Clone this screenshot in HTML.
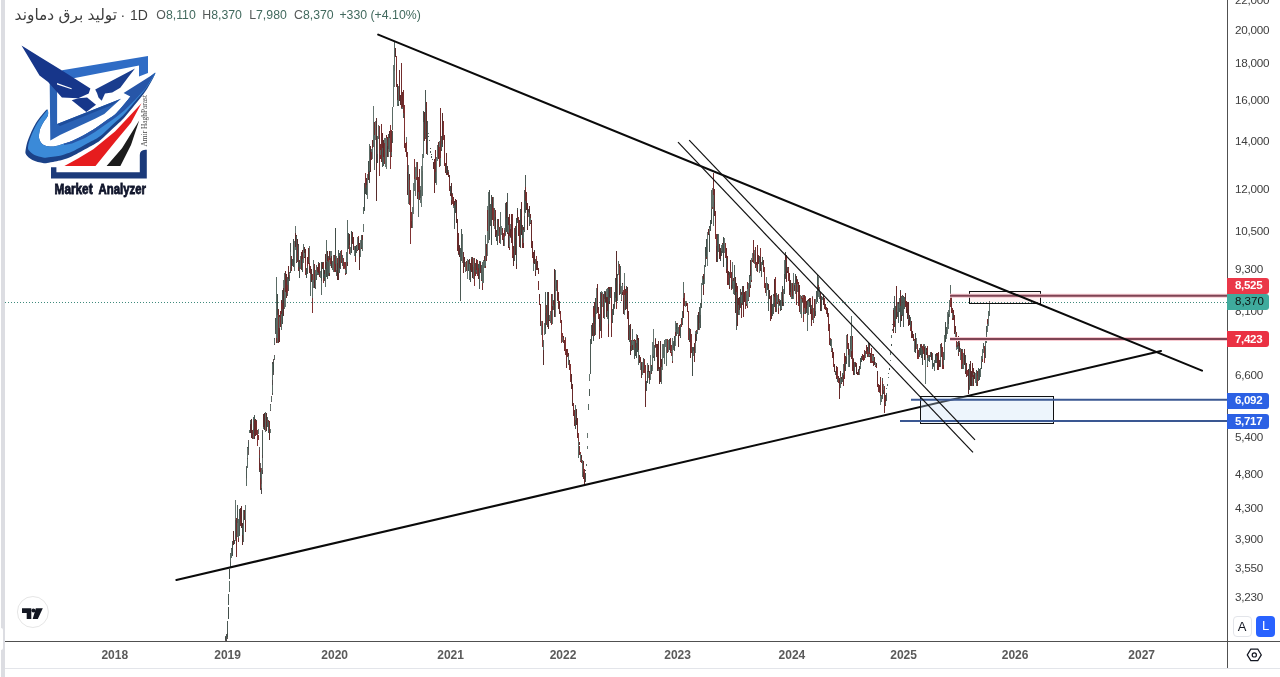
<!DOCTYPE html>
<html lang="en">
<head>
<meta charset="utf-8">
<title>تولید برق دماوند · 1D</title>
<style>
html,body{margin:0;padding:0;background:#fff;}
body{width:1280px;height:677px;overflow:hidden;position:relative;font-family:"Liberation Sans","DejaVu Sans",sans-serif;}
.abs{position:absolute;white-space:nowrap;}
#strip{position:absolute;left:1px;top:0;width:4px;height:677px;background:#dcdde2;}
#tab{position:absolute;left:0;top:628px;width:3px;height:22px;background:#fff;border-radius:0 2px 2px 0;}
.hdr{position:absolute;top:5.6px;line-height:18px;height:18px;white-space:nowrap;color:#5a5f5d;}
.ttl{font-family:"Liberation Sans","DejaVu Sans",sans-serif;font-size:14px;color:#3e3e3e;}
.fa{font-size:15.4px;}
.ohlc{font-size:12.3px;}
.ohlc b{font-weight:normal;color:#555958;}
.ohlc i{font-style:normal;color:#426a5e;}
.pl{position:absolute;left:1235px;font-size:11.7px;letter-spacing:-0.25px;line-height:12px;height:12px;color:#3d3d3d;white-space:nowrap;}
.tl{position:absolute;top:647px;font-size:12px;font-weight:bold;line-height:16px;height:16px;color:#5a5a5a;width:40px;text-align:center;white-space:nowrap;}
.lab{position:absolute;left:1227px;width:42px;border-radius:0 3px 3px 0;font-size:11.5px;font-weight:bold;letter-spacing:-0.3px;color:#fff;text-align:left;box-sizing:border-box;padding-left:8px;white-space:nowrap;}
.btn{position:absolute;top:616px;width:19px;height:20.5px;border-radius:4px;box-sizing:border-box;font-size:13px;line-height:20px;text-align:center;}
</style>
</head>
<body>
<div id="strip"></div>
<div id="tab"></div>

<svg class="abs" style="left:0;top:0" width="1280" height="677" viewBox="0 0 1280 677">
  <!-- axes -->
  <line x1="1227.5" y1="0" x2="1227.5" y2="668.5" stroke="#505050" stroke-width="1"/>
  <line x1="5" y1="641.5" x2="1280" y2="641.5" stroke="#505050" stroke-width="1"/>
  <line x1="5" y1="668.5" x2="1280" y2="668.5" stroke="#e3e5ea" stroke-width="1"/>
  <!-- dotted last price line -->
  <line x1="5" y1="302.5" x2="1227" y2="302.5" stroke="#3f8a7c" stroke-width="1" stroke-dasharray="1 2"/>

  <!-- candles -->
  <g stroke-width="1" shape-rendering="crispEdges" opacity="0.92">
<path d="M225.50 636.0V641.0" stroke="#564f4f"/>
<path d="M225.50 637.0V640.0" stroke="#333f3a"/>
<path d="M226.00 635.0V641.0" stroke="#3f3a3a"/>
<path d="M226.00 636.0V640.0" stroke="#333f3a"/>
<path d="M226.50 634.0V640.0" stroke="#4a4444"/>
<path d="M226.50 635.0V638.0" stroke="#3c4c46"/>
<path d="M227.00 632.0V639.0" stroke="#564f4f"/>
<path d="M227.00 633.0V637.0" stroke="#333f3a"/>
<path d="M227.50 621.0V633.0" stroke="#4a4444"/>
<path d="M227.50 621.0V633.0" stroke="#3c4c46"/>
<path d="M228.00 607.0V619.0" stroke="#3f3a3a"/>
<path d="M228.00 607.0V619.0" stroke="#333f3a"/>
<path d="M228.50 594.0V605.0" stroke="#4a4444"/>
<path d="M228.50 594.0V605.0" stroke="#3c4c46"/>
<path d="M229.00 581.0V592.0" stroke="#564f4f"/>
<path d="M229.00 581.0V592.0" stroke="#4d5f58"/>
<path d="M229.50 569.0V579.0" stroke="#3f3a3a"/>
<path d="M229.50 569.0V579.0" stroke="#333f3a"/>
<path d="M230.00 558.0V567.0" stroke="#564f4f"/>
<path d="M230.00 558.0V567.0" stroke="#3c4c46"/>
<path d="M230.50 553.0V562.0" stroke="#564f4f"/>
<path d="M230.50 554.0V561.0" stroke="#4d5f58"/>
<path d="M231.00 548.0V558.0" stroke="#4a4444"/>
<path d="M231.00 549.0V557.0" stroke="#4d5f58"/>
<path d="M246.00 472.0V486.0" stroke="#4a4444"/>
<path d="M246.00 472.0V486.0" stroke="#4d5f58"/>
<path d="M246.50 466.0V479.0" stroke="#564f4f"/>
<path d="M246.50 467.0V478.0" stroke="#3c4c46"/>
<path d="M247.00 456.0V468.0" stroke="#3f3a3a"/>
<path d="M247.00 456.0V468.0" stroke="#4d5f58"/>
<path d="M247.50 447.0V459.0" stroke="#3f3a3a"/>
<path d="M247.50 448.0V458.0" stroke="#5a6a64"/>
<path d="M248.50 440.0V455.0" stroke="#564f4f"/>
<path d="M248.50 442.0V450.0" stroke="#3c4c46"/>
<path d="M259.00 447.0V462.0" stroke="#564f4f"/>
<path d="M259.00 450.0V460.0" stroke="#762121"/>
<path d="M259.50 455.0V472.0" stroke="#3f3a3a"/>
<path d="M259.50 458.0V470.0" stroke="#5c1919"/>
<path d="M260.00 463.0V482.0" stroke="#564f4f"/>
<path d="M260.00 468.0V480.0" stroke="#681c1c"/>
<path d="M260.50 472.0V490.0" stroke="#3f3a3a"/>
<path d="M260.50 478.0V489.0" stroke="#681c1c"/>
<path d="M261.00 476.0V493.5" stroke="#3f3a3a"/>
<path d="M261.00 480.0V488.0" stroke="#5a6a64"/>
<path d="M261.50 468.0V484.0" stroke="#564f4f"/>
<path d="M261.50 470.0V480.0" stroke="#4d5f58"/>
<path d="M262.00 455.0V474.0" stroke="#3f3a3a"/>
<path d="M262.00 458.0V470.0" stroke="#5a6a64"/>
<path d="M262.50 430.0V455.0" stroke="#564f4f"/>
<path d="M262.50 432.0V455.0" stroke="#3c4c46"/>
<path d="M270.50 404.0V411.0" stroke="#4a4444"/>
<path d="M270.50 405.0V410.0" stroke="#5a6a64"/>
<path d="M271.00 396.0V402.0" stroke="#564f4f"/>
<path d="M271.00 397.0V401.0" stroke="#4d5f58"/>
<path d="M272.00 375.0V395.0" stroke="#3f3a3a"/>
<path d="M272.00 378.0V393.0" stroke="#4d5f58"/>
<path d="M272.50 362.0V385.0" stroke="#3f3a3a"/>
<path d="M272.50 364.0V380.0" stroke="#4d5f58"/>
<path d="M273.50 359.0V375.0" stroke="#4a4444"/>
<path d="M273.50 362.0V372.0" stroke="#333f3a"/>
<path d="M274.00 355.0V360.0" stroke="#564f4f"/>
<path d="M274.00 356.0V359.0" stroke="#4d5f58"/>
<path d="M274.50 338.0V345.0" stroke="#4a4444"/>
<path d="M274.50 339.0V344.0" stroke="#4d5f58"/>
<path d="M275.00 326.0V334.0" stroke="#4a4444"/>
<path d="M275.00 327.0V333.0" stroke="#3c4c46"/>
<path d="M275.50 318.0V330.0" stroke="#3f3a3a"/>
<path d="M275.50 320.0V328.0" stroke="#333f3a"/>
<path d="M231.50 555.3V558.4" stroke="#4d5f58"/>
<path d="M231.50 555.5V556.5" stroke="#4d5f58"/>
<path d="M232.00 551.0V555.9" stroke="#3c4c46"/>
<path d="M232.00 551.2V555.5" stroke="#3c4c46"/>
<path d="M232.50 541.0V556.0" stroke="#333f3a"/>
<path d="M232.50 542.7V551.2" stroke="#333f3a"/>
<path d="M233.00 531.4V543.8" stroke="#4a1a1a"/>
<path d="M233.00 542.7V543.7" stroke="#4a1a1a"/>
<path d="M233.50 540.3V544.6" stroke="#5c1919"/>
<path d="M233.50 543.2V544.2" stroke="#5c1919"/>
<path d="M234.00 542.6V544.1" stroke="#4d5f58"/>
<path d="M234.00 543.4V544.4" stroke="#4d5f58"/>
<path d="M234.50 539.7V544.1" stroke="#333f3a"/>
<path d="M234.50 540.4V543.4" stroke="#333f3a"/>
<path d="M235.00 500.0V541.4" stroke="#5a6a64"/>
<path d="M235.00 533.0V540.4" stroke="#5a6a64"/>
<path d="M235.50 519.9V538.6" stroke="#3c4c46"/>
<path d="M235.50 523.9V533.0" stroke="#3c4c46"/>
<path d="M236.00 520.8V527.6" stroke="#762121"/>
<path d="M236.00 523.9V524.9" stroke="#762121"/>
<path d="M236.50 518.4V556.7" stroke="#681c1c"/>
<path d="M236.50 524.4V535.9" stroke="#681c1c"/>
<path d="M237.00 505.0V537.0" stroke="#3c4c46"/>
<path d="M237.00 527.9V535.9" stroke="#3c4c46"/>
<path d="M237.50 522.8V537.2" stroke="#4d5f58"/>
<path d="M237.50 527.7V528.7" stroke="#4d5f58"/>
<path d="M238.00 523.9V541.6" stroke="#681c1c"/>
<path d="M238.00 527.7V537.7" stroke="#681c1c"/>
<path d="M238.50 518.9V538.0" stroke="#4d5f58"/>
<path d="M238.50 529.2V537.7" stroke="#4d5f58"/>
<path d="M239.00 525.6V530.8" stroke="#681c1c"/>
<path d="M239.00 529.2V530.2" stroke="#681c1c"/>
<path d="M239.50 509.2V536.2" stroke="#3c4c46"/>
<path d="M239.50 516.3V529.7" stroke="#3c4c46"/>
<path d="M240.00 508.0V524.4" stroke="#5c1919"/>
<path d="M240.00 516.3V519.2" stroke="#5c1919"/>
<path d="M240.50 519.0V526.4" stroke="#681c1c"/>
<path d="M240.50 519.2V523.2" stroke="#681c1c"/>
<path d="M241.00 510.8V525.7" stroke="#3c4c46"/>
<path d="M241.00 515.7V523.2" stroke="#3c4c46"/>
<path d="M241.50 506.2V527.8" stroke="#4a1a1a"/>
<path d="M241.50 515.7V523.8" stroke="#4a1a1a"/>
<path d="M242.00 522.8V544.8" stroke="#4a1a1a"/>
<path d="M242.00 523.8V533.5" stroke="#4a1a1a"/>
<path d="M242.50 526.1V535.2" stroke="#333f3a"/>
<path d="M242.50 526.6V533.5" stroke="#333f3a"/>
<path d="M243.00 524.4V531.0" stroke="#333f3a"/>
<path d="M243.00 525.0V526.6" stroke="#333f3a"/>
<path d="M243.50 509.7V542.4" stroke="#4d5f58"/>
<path d="M243.50 511.0V525.0" stroke="#4d5f58"/>
<path d="M244.00 510.1V519.6" stroke="#4a1a1a"/>
<path d="M244.00 511.0V512.5" stroke="#4a1a1a"/>
<path d="M244.50 511.8V516.3" stroke="#5c1919"/>
<path d="M244.50 512.5V514.1" stroke="#5c1919"/>
<path d="M245.00 511.4V532.2" stroke="#5c1919"/>
<path d="M245.00 514.1V527.9" stroke="#5c1919"/>
<path d="M245.50 504.6V520.0" stroke="#5a6a64"/>
<path d="M245.50 508.5V520.0" stroke="#5a6a64"/>
<path d="M249.50 429.9V433.0" stroke="#4d5f58"/>
<path d="M249.50 430.4V431.4" stroke="#4d5f58"/>
<path d="M250.00 420.0V430.6" stroke="#3c4c46"/>
<path d="M250.00 425.4V430.4" stroke="#3c4c46"/>
<path d="M250.50 424.3V432.8" stroke="#4a1a1a"/>
<path d="M250.50 425.4V430.7" stroke="#4a1a1a"/>
<path d="M251.00 422.5V431.3" stroke="#5a6a64"/>
<path d="M251.00 426.5V430.7" stroke="#5a6a64"/>
<path d="M251.50 418.5V437.5" stroke="#4a1a1a"/>
<path d="M251.50 426.5V433.7" stroke="#4a1a1a"/>
<path d="M252.00 430.2V434.2" stroke="#681c1c"/>
<path d="M252.00 433.7V434.7" stroke="#681c1c"/>
<path d="M252.50 430.8V439.4" stroke="#681c1c"/>
<path d="M252.50 433.8V438.4" stroke="#681c1c"/>
<path d="M253.00 416.5V439.0" stroke="#4d5f58"/>
<path d="M253.00 432.1V438.4" stroke="#4d5f58"/>
<path d="M253.50 429.2V433.8" stroke="#3c4c46"/>
<path d="M253.50 430.0V432.1" stroke="#3c4c46"/>
<path d="M254.00 415.0V430.8" stroke="#3c4c46"/>
<path d="M254.00 421.8V430.0" stroke="#3c4c46"/>
<path d="M254.50 420.4V438.5" stroke="#5c1919"/>
<path d="M254.50 421.8V423.8" stroke="#5c1919"/>
<path d="M255.00 419.6V424.8" stroke="#4d5f58"/>
<path d="M255.00 420.3V423.8" stroke="#4d5f58"/>
<path d="M255.50 419.3V435.6" stroke="#5c1919"/>
<path d="M255.50 420.3V431.2" stroke="#5c1919"/>
<path d="M256.00 420.0V433.6" stroke="#333f3a"/>
<path d="M256.00 430.6V431.6" stroke="#333f3a"/>
<path d="M256.50 421.2V434.8" stroke="#681c1c"/>
<path d="M256.50 430.6V432.4" stroke="#681c1c"/>
<path d="M257.00 432.2V435.8" stroke="#4a1a1a"/>
<path d="M257.00 432.4V433.4" stroke="#4a1a1a"/>
<path d="M257.50 430.2V445.6" stroke="#762121"/>
<path d="M257.50 432.6V433.6" stroke="#762121"/>
<path d="M258.00 428.9V434.4" stroke="#5a6a64"/>
<path d="M258.00 430.0V433.0" stroke="#5a6a64"/>
<path d="M258.50 434.7V439.8" stroke="#762121"/>
<path d="M258.50 434.7V437.6" stroke="#762121"/>
<path d="M263.00 422.8V428.7" stroke="#4d5f58"/>
<path d="M263.00 424.8V425.8" stroke="#4d5f58"/>
<path d="M263.50 414.2V426.6" stroke="#4a1a1a"/>
<path d="M263.50 424.8V426.5" stroke="#4a1a1a"/>
<path d="M264.00 413.3V427.8" stroke="#333f3a"/>
<path d="M264.00 415.3V426.5" stroke="#333f3a"/>
<path d="M264.50 412.5V429.8" stroke="#4a1a1a"/>
<path d="M264.50 415.3V424.7" stroke="#4a1a1a"/>
<path d="M265.00 420.0V432.2" stroke="#4d5f58"/>
<path d="M265.00 420.2V424.7" stroke="#4d5f58"/>
<path d="M265.50 411.8V425.3" stroke="#4d5f58"/>
<path d="M265.50 413.8V420.2" stroke="#4d5f58"/>
<path d="M266.00 413.2V428.4" stroke="#4a1a1a"/>
<path d="M266.00 413.8V425.1" stroke="#4a1a1a"/>
<path d="M266.50 420.1V430.6" stroke="#5c1919"/>
<path d="M266.50 425.1V426.8" stroke="#5c1919"/>
<path d="M267.00 418.6V427.4" stroke="#3c4c46"/>
<path d="M267.00 424.4V426.8" stroke="#3c4c46"/>
<path d="M267.50 416.7V426.1" stroke="#3c4c46"/>
<path d="M267.50 423.8V424.8" stroke="#3c4c46"/>
<path d="M268.00 419.9V431.4" stroke="#762121"/>
<path d="M268.00 423.8V429.8" stroke="#762121"/>
<path d="M268.50 421.7V432.5" stroke="#3c4c46"/>
<path d="M268.50 422.9V429.8" stroke="#3c4c46"/>
<path d="M269.00 421.8V440.0" stroke="#4a1a1a"/>
<path d="M269.00 422.9V425.3" stroke="#4a1a1a"/>
<path d="M269.50 420.8V433.4" stroke="#681c1c"/>
<path d="M269.50 425.3V432.1" stroke="#681c1c"/>
<path d="M270.00 428.7V433.3" stroke="#5a6a64"/>
<path d="M270.00 430.7V432.1" stroke="#5a6a64"/>
<path d="M276.00 276.6V343.0" stroke="#4d5f58"/>
<path d="M276.00 339.7V340.7" stroke="#4d5f58"/>
<path d="M276.50 338.1V343.0" stroke="#681c1c"/>
<path d="M276.50 339.7V340.7" stroke="#681c1c"/>
<path d="M277.00 310.8V343.0" stroke="#4d5f58"/>
<path d="M277.00 313.8V340.0" stroke="#4d5f58"/>
<path d="M277.50 294.1V314.7" stroke="#333f3a"/>
<path d="M277.50 313.1V314.1" stroke="#333f3a"/>
<path d="M278.00 308.6V343.0" stroke="#681c1c"/>
<path d="M278.00 313.1V315.8" stroke="#681c1c"/>
<path d="M278.50 313.5V327.8" stroke="#762121"/>
<path d="M278.50 315.8V321.1" stroke="#762121"/>
<path d="M279.00 314.9V342.0" stroke="#4a1a1a"/>
<path d="M279.00 321.1V324.8" stroke="#4a1a1a"/>
<path d="M279.50 316.8V328.1" stroke="#4d5f58"/>
<path d="M279.50 318.0V324.8" stroke="#4d5f58"/>
<path d="M280.00 315.0V325.1" stroke="#5a6a64"/>
<path d="M280.00 315.2V318.0" stroke="#5a6a64"/>
<path d="M280.50 311.0V327.1" stroke="#681c1c"/>
<path d="M280.50 315.2V326.4" stroke="#681c1c"/>
<path d="M281.00 308.9V329.6" stroke="#4d5f58"/>
<path d="M281.00 309.9V326.4" stroke="#4d5f58"/>
<path d="M281.50 300.1V314.0" stroke="#681c1c"/>
<path d="M281.50 309.9V312.1" stroke="#681c1c"/>
<path d="M282.00 290.0V323.7" stroke="#333f3a"/>
<path d="M282.00 302.7V312.1" stroke="#333f3a"/>
<path d="M282.50 302.5V309.2" stroke="#681c1c"/>
<path d="M282.50 302.7V303.9" stroke="#681c1c"/>
<path d="M283.00 280.0V310.3" stroke="#5a6a64"/>
<path d="M283.00 291.1V303.9" stroke="#5a6a64"/>
<path d="M283.50 287.9V315.9" stroke="#4a1a1a"/>
<path d="M283.50 291.1V303.9" stroke="#4a1a1a"/>
<path d="M284.00 298.9V305.6" stroke="#4d5f58"/>
<path d="M284.00 299.6V303.9" stroke="#4d5f58"/>
<path d="M284.50 273.2V309.2" stroke="#4d5f58"/>
<path d="M284.50 280.6V299.6" stroke="#4d5f58"/>
<path d="M285.00 271.0V305.5" stroke="#5c1919"/>
<path d="M285.00 280.6V303.0" stroke="#5c1919"/>
<path d="M285.50 291.9V306.5" stroke="#5a6a64"/>
<path d="M285.50 294.9V303.0" stroke="#5a6a64"/>
<path d="M286.00 278.0V296.2" stroke="#333f3a"/>
<path d="M286.00 286.0V294.9" stroke="#333f3a"/>
<path d="M286.50 274.0V297.7" stroke="#5c1919"/>
<path d="M286.50 286.0V291.6" stroke="#5c1919"/>
<path d="M287.00 277.0V296.0" stroke="#3c4c46"/>
<path d="M287.00 285.7V291.6" stroke="#3c4c46"/>
<path d="M287.50 285.2V293.0" stroke="#762121"/>
<path d="M287.50 285.7V289.5" stroke="#762121"/>
<path d="M288.00 267.4V290.8" stroke="#3c4c46"/>
<path d="M288.00 269.0V289.5" stroke="#3c4c46"/>
<path d="M288.50 266.2V278.5" stroke="#5c1919"/>
<path d="M288.50 269.0V276.5" stroke="#5c1919"/>
<path d="M289.00 271.7V280.5" stroke="#3c4c46"/>
<path d="M289.00 275.1V276.5" stroke="#3c4c46"/>
<path d="M289.50 272.9V275.3" stroke="#5a6a64"/>
<path d="M289.50 274.4V275.4" stroke="#5a6a64"/>
<path d="M290.00 242.5V272.5" stroke="#3c4c46"/>
<path d="M290.00 266.3V272.5" stroke="#3c4c46"/>
<path d="M290.50 252.3V267.1" stroke="#4d5f58"/>
<path d="M290.50 255.8V266.3" stroke="#4d5f58"/>
<path d="M291.00 255.6V271.2" stroke="#681c1c"/>
<path d="M291.00 255.8V260.4" stroke="#681c1c"/>
<path d="M291.50 258.5V265.2" stroke="#5c1919"/>
<path d="M291.50 260.4V264.2" stroke="#5c1919"/>
<path d="M292.00 259.6V264.5" stroke="#3c4c46"/>
<path d="M292.00 261.9V264.2" stroke="#3c4c46"/>
<path d="M292.50 259.0V265.7" stroke="#3c4c46"/>
<path d="M292.50 259.9V261.9" stroke="#3c4c46"/>
<path d="M293.00 255.0V266.5" stroke="#762121"/>
<path d="M293.00 259.9V264.7" stroke="#762121"/>
<path d="M293.50 238.7V266.7" stroke="#333f3a"/>
<path d="M293.50 247.3V264.7" stroke="#333f3a"/>
<path d="M294.00 244.5V260.8" stroke="#681c1c"/>
<path d="M294.00 247.3V256.6" stroke="#681c1c"/>
<path d="M294.50 241.1V270.8" stroke="#5a6a64"/>
<path d="M294.50 243.3V256.6" stroke="#5a6a64"/>
<path d="M295.00 226.0V249.8" stroke="#5a6a64"/>
<path d="M295.00 235.4V243.3" stroke="#5a6a64"/>
<path d="M295.50 233.1V247.3" stroke="#4a1a1a"/>
<path d="M295.50 235.4V243.0" stroke="#4a1a1a"/>
<path d="M296.00 234.7V263.0" stroke="#4a1a1a"/>
<path d="M296.00 243.0V259.2" stroke="#4a1a1a"/>
<path d="M296.50 236.0V261.8" stroke="#3c4c46"/>
<path d="M296.50 237.9V259.2" stroke="#3c4c46"/>
<path d="M297.00 239.3V253.5" stroke="#4a1a1a"/>
<path d="M297.00 239.3V250.0" stroke="#4a1a1a"/>
<path d="M297.50 244.5V261.6" stroke="#762121"/>
<path d="M297.50 250.0V259.3" stroke="#762121"/>
<path d="M298.00 256.7V270.6" stroke="#681c1c"/>
<path d="M298.00 259.3V265.5" stroke="#681c1c"/>
<path d="M298.50 244.0V267.0" stroke="#333f3a"/>
<path d="M298.50 263.9V265.5" stroke="#333f3a"/>
<path d="M299.00 260.0V278.0" stroke="#681c1c"/>
<path d="M299.00 263.9V267.3" stroke="#681c1c"/>
<path d="M299.50 262.4V278.0" stroke="#333f3a"/>
<path d="M299.50 264.0V267.3" stroke="#333f3a"/>
<path d="M300.00 263.9V266.5" stroke="#4a1a1a"/>
<path d="M300.00 264.0V265.0" stroke="#4a1a1a"/>
<path d="M300.50 256.0V269.1" stroke="#4d5f58"/>
<path d="M300.50 257.9V264.1" stroke="#4d5f58"/>
<path d="M301.00 255.3V265.2" stroke="#5a6a64"/>
<path d="M301.00 257.3V258.3" stroke="#5a6a64"/>
<path d="M301.50 252.4V269.9" stroke="#5c1919"/>
<path d="M301.50 257.3V266.3" stroke="#5c1919"/>
<path d="M302.00 250.2V272.3" stroke="#3c4c46"/>
<path d="M302.00 251.7V266.3" stroke="#3c4c46"/>
<path d="M302.50 249.7V259.4" stroke="#5c1919"/>
<path d="M302.50 251.7V256.0" stroke="#5c1919"/>
<path d="M303.00 249.5V263.0" stroke="#5a6a64"/>
<path d="M303.00 250.6V256.0" stroke="#5a6a64"/>
<path d="M303.50 244.0V251.1" stroke="#4d5f58"/>
<path d="M303.50 248.3V250.6" stroke="#4d5f58"/>
<path d="M304.00 247.4V258.3" stroke="#4a1a1a"/>
<path d="M304.00 248.3V256.2" stroke="#4a1a1a"/>
<path d="M304.50 253.0V257.3" stroke="#5a6a64"/>
<path d="M304.50 254.4V256.2" stroke="#5a6a64"/>
<path d="M305.00 248.7V268.2" stroke="#4a1a1a"/>
<path d="M305.00 254.4V262.4" stroke="#4a1a1a"/>
<path d="M305.50 257.5V275.4" stroke="#762121"/>
<path d="M305.50 262.4V273.1" stroke="#762121"/>
<path d="M306.00 271.2V276.2" stroke="#5c1919"/>
<path d="M306.00 273.1V274.8" stroke="#5c1919"/>
<path d="M306.50 268.0V278.0" stroke="#333f3a"/>
<path d="M306.50 269.1V274.8" stroke="#333f3a"/>
<path d="M307.00 257.4V274.3" stroke="#3c4c46"/>
<path d="M307.00 259.0V269.1" stroke="#3c4c46"/>
<path d="M307.50 257.1V265.6" stroke="#5c1919"/>
<path d="M307.50 259.0V260.4" stroke="#5c1919"/>
<path d="M308.00 252.9V260.5" stroke="#3c4c46"/>
<path d="M308.00 254.0V260.4" stroke="#3c4c46"/>
<path d="M308.50 248.0V264.0" stroke="#681c1c"/>
<path d="M308.50 254.0V263.4" stroke="#681c1c"/>
<path d="M309.00 246.3V266.9" stroke="#5a6a64"/>
<path d="M309.00 262.7V263.7" stroke="#5a6a64"/>
<path d="M309.50 262.5V273.1" stroke="#681c1c"/>
<path d="M309.50 262.7V271.1" stroke="#681c1c"/>
<path d="M310.00 266.4V284.8" stroke="#5c1919"/>
<path d="M310.00 271.1V283.5" stroke="#5c1919"/>
<path d="M310.50 274.3V295.6" stroke="#4d5f58"/>
<path d="M310.50 278.4V283.5" stroke="#4d5f58"/>
<path d="M311.00 268.5V280.5" stroke="#4d5f58"/>
<path d="M311.00 269.4V278.4" stroke="#4d5f58"/>
<path d="M311.50 268.7V281.5" stroke="#4a1a1a"/>
<path d="M311.50 269.4V275.8" stroke="#4a1a1a"/>
<path d="M312.00 274.3V312.6" stroke="#762121"/>
<path d="M312.00 275.8V293.9" stroke="#762121"/>
<path d="M312.50 280.3V297.8" stroke="#4d5f58"/>
<path d="M312.50 284.8V293.9" stroke="#4d5f58"/>
<path d="M313.00 279.5V287.6" stroke="#5a6a64"/>
<path d="M313.00 279.6V284.8" stroke="#5a6a64"/>
<path d="M313.50 260.0V282.9" stroke="#4d5f58"/>
<path d="M313.50 267.0V279.6" stroke="#4d5f58"/>
<path d="M314.00 263.6V287.3" stroke="#681c1c"/>
<path d="M314.00 267.0V283.6" stroke="#681c1c"/>
<path d="M314.50 279.6V288.2" stroke="#4a1a1a"/>
<path d="M314.50 283.6V286.1" stroke="#4a1a1a"/>
<path d="M315.00 284.8V289.2" stroke="#3c4c46"/>
<path d="M315.00 285.2V286.2" stroke="#3c4c46"/>
<path d="M315.50 270.4V286.7" stroke="#4d5f58"/>
<path d="M315.50 275.1V285.2" stroke="#4d5f58"/>
<path d="M316.00 269.9V279.8" stroke="#3c4c46"/>
<path d="M316.00 270.6V275.1" stroke="#3c4c46"/>
<path d="M316.50 265.4V273.7" stroke="#4d5f58"/>
<path d="M316.50 269.3V270.6" stroke="#4d5f58"/>
<path d="M317.00 267.2V275.2" stroke="#681c1c"/>
<path d="M317.00 269.3V274.4" stroke="#681c1c"/>
<path d="M317.50 272.2V275.1" stroke="#3c4c46"/>
<path d="M317.50 273.5V274.5" stroke="#3c4c46"/>
<path d="M318.00 262.1V274.5" stroke="#3c4c46"/>
<path d="M318.00 263.8V273.5" stroke="#3c4c46"/>
<path d="M318.50 263.5V272.5" stroke="#4a1a1a"/>
<path d="M318.50 263.8V269.4" stroke="#4a1a1a"/>
<path d="M319.00 263.3V272.2" stroke="#333f3a"/>
<path d="M319.00 264.3V269.4" stroke="#333f3a"/>
<path d="M319.50 262.8V276.9" stroke="#681c1c"/>
<path d="M319.50 264.3V276.5" stroke="#681c1c"/>
<path d="M320.00 270.8V277.5" stroke="#5a6a64"/>
<path d="M320.00 273.2V276.5" stroke="#5a6a64"/>
<path d="M320.50 272.0V274.4" stroke="#5a6a64"/>
<path d="M320.50 273.0V274.0" stroke="#5a6a64"/>
<path d="M321.00 269.6V294.6" stroke="#4d5f58"/>
<path d="M321.00 270.6V273.0" stroke="#4d5f58"/>
<path d="M321.50 262.3V281.1" stroke="#333f3a"/>
<path d="M321.50 264.8V270.6" stroke="#333f3a"/>
<path d="M322.00 262.1V267.8" stroke="#333f3a"/>
<path d="M322.00 263.6V264.8" stroke="#333f3a"/>
<path d="M322.50 263.3V269.3" stroke="#5c1919"/>
<path d="M322.50 263.6V266.3" stroke="#5c1919"/>
<path d="M323.00 261.6V282.9" stroke="#762121"/>
<path d="M323.00 266.3V275.9" stroke="#762121"/>
<path d="M323.50 268.1V278.1" stroke="#333f3a"/>
<path d="M323.50 270.1V275.9" stroke="#333f3a"/>
<path d="M324.00 270.1V279.1" stroke="#4a1a1a"/>
<path d="M324.00 270.1V275.7" stroke="#4a1a1a"/>
<path d="M324.50 274.3V281.1" stroke="#333f3a"/>
<path d="M324.50 275.6V276.6" stroke="#333f3a"/>
<path d="M325.00 254.3V284.4" stroke="#4a1a1a"/>
<path d="M325.00 275.6V282.7" stroke="#4a1a1a"/>
<path d="M325.50 269.1V287.3" stroke="#4d5f58"/>
<path d="M325.50 274.2V282.7" stroke="#4d5f58"/>
<path d="M326.00 260.2V276.7" stroke="#333f3a"/>
<path d="M326.00 261.9V274.2" stroke="#333f3a"/>
<path d="M326.50 240.0V262.2" stroke="#4d5f58"/>
<path d="M326.50 256.7V261.9" stroke="#4d5f58"/>
<path d="M327.00 250.5V266.6" stroke="#4a1a1a"/>
<path d="M327.00 256.7V266.6" stroke="#4a1a1a"/>
<path d="M327.50 260.7V279.0" stroke="#3c4c46"/>
<path d="M327.50 261.4V266.6" stroke="#3c4c46"/>
<path d="M328.00 256.3V276.0" stroke="#3c4c46"/>
<path d="M328.00 258.6V261.4" stroke="#3c4c46"/>
<path d="M328.50 258.0V261.9" stroke="#762121"/>
<path d="M328.50 258.6V260.6" stroke="#762121"/>
<path d="M329.00 251.0V276.0" stroke="#5c1919"/>
<path d="M329.00 260.6V266.6" stroke="#5c1919"/>
<path d="M329.50 260.4V272.9" stroke="#5a6a64"/>
<path d="M329.50 263.2V266.6" stroke="#5a6a64"/>
<path d="M330.00 251.0V266.1" stroke="#5a6a64"/>
<path d="M330.00 257.8V263.2" stroke="#5a6a64"/>
<path d="M330.50 257.6V263.6" stroke="#762121"/>
<path d="M330.50 257.8V261.1" stroke="#762121"/>
<path d="M331.00 251.0V265.9" stroke="#5a6a64"/>
<path d="M331.00 256.4V261.1" stroke="#5a6a64"/>
<path d="M331.50 255.9V268.0" stroke="#4a1a1a"/>
<path d="M331.50 256.4V263.4" stroke="#4a1a1a"/>
<path d="M332.00 262.1V269.1" stroke="#762121"/>
<path d="M332.00 263.4V268.4" stroke="#762121"/>
<path d="M332.50 261.3V270.4" stroke="#4d5f58"/>
<path d="M332.50 265.2V268.4" stroke="#4d5f58"/>
<path d="M333.00 262.9V266.2" stroke="#3c4c46"/>
<path d="M333.00 264.4V265.4" stroke="#3c4c46"/>
<path d="M333.50 255.0V271.5" stroke="#4d5f58"/>
<path d="M333.50 259.1V264.4" stroke="#4d5f58"/>
<path d="M334.00 254.6V266.1" stroke="#681c1c"/>
<path d="M334.00 259.1V265.9" stroke="#681c1c"/>
<path d="M334.50 256.2V271.5" stroke="#762121"/>
<path d="M334.50 265.9V269.6" stroke="#762121"/>
<path d="M335.00 228.0V269.7" stroke="#333f3a"/>
<path d="M335.00 264.3V269.6" stroke="#333f3a"/>
<path d="M335.50 264.1V272.3" stroke="#5c1919"/>
<path d="M335.50 264.3V271.0" stroke="#5c1919"/>
<path d="M336.00 264.5V275.8" stroke="#3c4c46"/>
<path d="M336.00 267.8V271.0" stroke="#3c4c46"/>
<path d="M336.50 255.7V270.4" stroke="#5a6a64"/>
<path d="M336.50 258.7V267.8" stroke="#5a6a64"/>
<path d="M337.00 257.5V271.9" stroke="#762121"/>
<path d="M337.00 258.7V266.7" stroke="#762121"/>
<path d="M337.50 263.4V279.8" stroke="#4a1a1a"/>
<path d="M337.50 266.7V270.7" stroke="#4a1a1a"/>
<path d="M338.00 269.4V279.9" stroke="#4a1a1a"/>
<path d="M338.00 270.7V272.1" stroke="#4a1a1a"/>
<path d="M338.50 249.8V273.1" stroke="#3c4c46"/>
<path d="M338.50 271.3V272.3" stroke="#3c4c46"/>
<path d="M339.00 253.4V272.8" stroke="#3c4c46"/>
<path d="M339.00 256.8V271.3" stroke="#3c4c46"/>
<path d="M339.50 255.8V268.3" stroke="#4a1a1a"/>
<path d="M339.50 256.8V266.4" stroke="#4a1a1a"/>
<path d="M340.00 250.6V269.3" stroke="#3c4c46"/>
<path d="M340.00 255.4V266.4" stroke="#3c4c46"/>
<path d="M340.50 251.4V258.1" stroke="#3c4c46"/>
<path d="M340.50 251.5V255.4" stroke="#3c4c46"/>
<path d="M341.00 250.0V261.1" stroke="#762121"/>
<path d="M341.00 251.5V253.9" stroke="#762121"/>
<path d="M341.50 251.3V262.9" stroke="#762121"/>
<path d="M341.50 253.9V262.9" stroke="#762121"/>
<path d="M342.00 258.9V265.0" stroke="#4d5f58"/>
<path d="M342.00 262.1V263.1" stroke="#4d5f58"/>
<path d="M342.50 255.0V266.2" stroke="#3c4c46"/>
<path d="M342.50 259.3V262.1" stroke="#3c4c46"/>
<path d="M343.00 258.2V261.2" stroke="#762121"/>
<path d="M343.00 259.3V260.6" stroke="#762121"/>
<path d="M343.50 259.8V268.9" stroke="#762121"/>
<path d="M343.50 260.6V268.3" stroke="#762121"/>
<path d="M344.00 262.1V269.0" stroke="#4d5f58"/>
<path d="M344.00 265.1V268.3" stroke="#4d5f58"/>
<path d="M344.50 262.3V267.6" stroke="#762121"/>
<path d="M344.50 265.1V266.1" stroke="#762121"/>
<path d="M345.00 261.9V275.2" stroke="#762121"/>
<path d="M345.00 266.1V272.4" stroke="#762121"/>
<path d="M345.50 270.0V273.2" stroke="#5a6a64"/>
<path d="M345.50 271.5V272.5" stroke="#5a6a64"/>
<path d="M346.00 262.3V274.3" stroke="#3c4c46"/>
<path d="M346.00 265.2V271.5" stroke="#3c4c46"/>
<path d="M346.50 252.2V270.0" stroke="#4d5f58"/>
<path d="M346.50 255.6V265.2" stroke="#4d5f58"/>
<path d="M347.00 252.1V266.0" stroke="#4a1a1a"/>
<path d="M347.00 255.6V262.9" stroke="#4a1a1a"/>
<path d="M347.50 220.0V262.0" stroke="#4d5f58"/>
<path d="M347.50 244.4V262.0" stroke="#4d5f58"/>
<path d="M348.00 241.7V248.9" stroke="#333f3a"/>
<path d="M348.00 243.5V244.5" stroke="#333f3a"/>
<path d="M348.50 233.3V247.4" stroke="#333f3a"/>
<path d="M348.50 235.5V243.5" stroke="#333f3a"/>
<path d="M349.00 234.1V250.4" stroke="#4a1a1a"/>
<path d="M349.00 235.5V248.5" stroke="#4a1a1a"/>
<path d="M349.50 245.4V253.6" stroke="#762121"/>
<path d="M349.50 248.5V252.6" stroke="#762121"/>
<path d="M350.00 251.6V253.1" stroke="#5a6a64"/>
<path d="M350.00 252.3V253.3" stroke="#5a6a64"/>
<path d="M350.50 247.3V254.7" stroke="#5a6a64"/>
<path d="M350.50 248.3V252.3" stroke="#5a6a64"/>
<path d="M351.00 230.6V252.7" stroke="#333f3a"/>
<path d="M351.00 241.1V248.3" stroke="#333f3a"/>
<path d="M351.50 236.3V243.4" stroke="#333f3a"/>
<path d="M351.50 236.5V241.1" stroke="#333f3a"/>
<path d="M352.00 234.9V244.1" stroke="#681c1c"/>
<path d="M352.00 236.5V239.1" stroke="#681c1c"/>
<path d="M352.50 232.4V243.2" stroke="#5c1919"/>
<path d="M352.50 239.1V242.1" stroke="#5c1919"/>
<path d="M353.00 237.7V242.7" stroke="#4d5f58"/>
<path d="M353.00 237.9V242.1" stroke="#4d5f58"/>
<path d="M353.50 236.7V250.3" stroke="#5c1919"/>
<path d="M353.50 237.9V246.2" stroke="#5c1919"/>
<path d="M354.00 245.5V255.0" stroke="#5c1919"/>
<path d="M354.00 246.2V254.6" stroke="#5c1919"/>
<path d="M354.50 246.4V255.9" stroke="#5a6a64"/>
<path d="M354.50 250.8V254.6" stroke="#5a6a64"/>
<path d="M355.00 246.3V262.0" stroke="#681c1c"/>
<path d="M355.00 250.8V255.3" stroke="#681c1c"/>
<path d="M355.50 246.2V257.3" stroke="#333f3a"/>
<path d="M355.50 248.3V255.3" stroke="#333f3a"/>
<path d="M356.00 245.4V252.0" stroke="#5c1919"/>
<path d="M356.00 248.3V251.4" stroke="#5c1919"/>
<path d="M356.50 246.4V253.1" stroke="#3c4c46"/>
<path d="M356.50 249.0V251.4" stroke="#3c4c46"/>
<path d="M357.00 249.0V250.5" stroke="#762121"/>
<path d="M357.00 249.0V250.0" stroke="#762121"/>
<path d="M357.50 237.4V249.7" stroke="#5a6a64"/>
<path d="M357.50 239.1V249.6" stroke="#5a6a64"/>
<path d="M358.00 236.0V244.2" stroke="#762121"/>
<path d="M358.00 239.1V242.7" stroke="#762121"/>
<path d="M358.50 238.0V250.2" stroke="#4a1a1a"/>
<path d="M358.50 242.7V244.2" stroke="#4a1a1a"/>
<path d="M359.00 243.3V270.0" stroke="#4a1a1a"/>
<path d="M359.00 244.2V246.0" stroke="#4a1a1a"/>
<path d="M359.50 243.5V249.3" stroke="#681c1c"/>
<path d="M359.50 246.0V248.4" stroke="#681c1c"/>
<path d="M360.00 242.4V252.6" stroke="#4a1a1a"/>
<path d="M360.00 248.4V252.2" stroke="#4a1a1a"/>
<path d="M360.50 240.0V256.6" stroke="#5a6a64"/>
<path d="M360.50 240.4V252.2" stroke="#5a6a64"/>
<path d="M361.00 240.3V249.0" stroke="#5c1919"/>
<path d="M361.00 240.4V245.2" stroke="#5c1919"/>
<path d="M361.50 234.8V247.7" stroke="#3c4c46"/>
<path d="M361.50 238.4V245.2" stroke="#3c4c46"/>
<path d="M362.00 235.4V251.2" stroke="#5c1919"/>
<path d="M362.00 238.4V249.8" stroke="#5c1919"/>
<path d="M362.50 239.6V251.4" stroke="#4d5f58"/>
<path d="M362.50 241.1V249.8" stroke="#4d5f58"/>
<path d="M363.00 224.0V231.7" stroke="#5a6a64"/>
<path d="M363.00 224.0V231.7" stroke="#5a6a64"/>
<path d="M363.50 206.7V214.4" stroke="#4d5f58"/>
<path d="M363.50 206.7V214.4" stroke="#4d5f58"/>
<path d="M364.00 202.3V208.1" stroke="#4d5f58"/>
<path d="M364.00 203.6V206.7" stroke="#4d5f58"/>
<path d="M364.50 183.4V210.7" stroke="#333f3a"/>
<path d="M364.50 187.3V203.6" stroke="#333f3a"/>
<path d="M365.00 175.0V193.7" stroke="#333f3a"/>
<path d="M365.00 176.8V187.3" stroke="#333f3a"/>
<path d="M365.50 173.2V188.3" stroke="#762121"/>
<path d="M365.50 176.8V184.1" stroke="#762121"/>
<path d="M366.00 177.7V195.1" stroke="#4a1a1a"/>
<path d="M366.00 184.1V192.7" stroke="#4a1a1a"/>
<path d="M366.50 185.1V194.9" stroke="#333f3a"/>
<path d="M366.50 186.0V192.7" stroke="#333f3a"/>
<path d="M367.00 181.1V188.6" stroke="#5a6a64"/>
<path d="M367.00 181.5V186.0" stroke="#5a6a64"/>
<path d="M367.50 173.9V199.4" stroke="#5a6a64"/>
<path d="M367.50 174.7V181.5" stroke="#5a6a64"/>
<path d="M368.00 160.7V175.9" stroke="#333f3a"/>
<path d="M368.00 172.9V174.7" stroke="#333f3a"/>
<path d="M368.50 172.3V179.6" stroke="#5c1919"/>
<path d="M368.50 172.9V175.4" stroke="#5c1919"/>
<path d="M369.00 163.6V182.8" stroke="#333f3a"/>
<path d="M369.00 164.9V175.4" stroke="#333f3a"/>
<path d="M369.50 144.2V171.2" stroke="#4d5f58"/>
<path d="M369.50 146.3V164.9" stroke="#4d5f58"/>
<path d="M370.00 146.2V172.0" stroke="#4a1a1a"/>
<path d="M370.00 146.3V152.0" stroke="#4a1a1a"/>
<path d="M370.50 151.8V157.1" stroke="#4a1a1a"/>
<path d="M370.50 152.0V156.6" stroke="#4a1a1a"/>
<path d="M371.00 149.3V160.0" stroke="#4d5f58"/>
<path d="M371.00 153.9V156.6" stroke="#4d5f58"/>
<path d="M371.50 152.3V160.0" stroke="#681c1c"/>
<path d="M371.50 153.9V158.0" stroke="#681c1c"/>
<path d="M372.00 141.6V159.4" stroke="#5a6a64"/>
<path d="M372.00 144.3V158.0" stroke="#5a6a64"/>
<path d="M372.50 140.0V147.9" stroke="#5c1919"/>
<path d="M372.50 144.3V145.3" stroke="#5c1919"/>
<path d="M373.00 129.9V147.3" stroke="#4d5f58"/>
<path d="M373.00 133.4V145.0" stroke="#4d5f58"/>
<path d="M373.50 106.0V134.9" stroke="#5a6a64"/>
<path d="M373.50 131.8V133.4" stroke="#5a6a64"/>
<path d="M374.00 128.9V170.0" stroke="#4d5f58"/>
<path d="M374.00 129.4V131.8" stroke="#4d5f58"/>
<path d="M374.50 122.1V134.9" stroke="#681c1c"/>
<path d="M374.50 129.4V130.7" stroke="#681c1c"/>
<path d="M375.00 125.3V140.4" stroke="#4a1a1a"/>
<path d="M375.00 130.7V137.5" stroke="#4a1a1a"/>
<path d="M375.50 120.7V140.1" stroke="#5a6a64"/>
<path d="M375.50 127.0V137.5" stroke="#5a6a64"/>
<path d="M376.00 117.6V194.8" stroke="#4a1a1a"/>
<path d="M376.00 127.0V152.8" stroke="#4a1a1a"/>
<path d="M376.50 151.3V201.0" stroke="#4a1a1a"/>
<path d="M376.50 152.8V163.1" stroke="#4a1a1a"/>
<path d="M377.00 141.0V163.4" stroke="#333f3a"/>
<path d="M377.00 150.3V163.1" stroke="#333f3a"/>
<path d="M377.50 135.7V154.2" stroke="#4d5f58"/>
<path d="M377.50 138.5V150.3" stroke="#4d5f58"/>
<path d="M378.00 132.2V138.6" stroke="#4d5f58"/>
<path d="M378.00 133.6V138.5" stroke="#4d5f58"/>
<path d="M378.50 125.0V137.0" stroke="#5a6a64"/>
<path d="M378.50 127.7V133.6" stroke="#5a6a64"/>
<path d="M379.00 125.5V176.0" stroke="#762121"/>
<path d="M379.00 127.7V147.1" stroke="#762121"/>
<path d="M379.50 136.7V150.5" stroke="#762121"/>
<path d="M379.50 147.1V148.1" stroke="#762121"/>
<path d="M380.00 144.1V159.0" stroke="#681c1c"/>
<path d="M380.00 148.1V151.6" stroke="#681c1c"/>
<path d="M380.50 149.6V154.7" stroke="#4d5f58"/>
<path d="M380.50 150.8V151.8" stroke="#4d5f58"/>
<path d="M381.00 148.8V161.0" stroke="#681c1c"/>
<path d="M381.00 150.8V158.6" stroke="#681c1c"/>
<path d="M381.50 123.5V161.7" stroke="#681c1c"/>
<path d="M381.50 158.6V161.2" stroke="#681c1c"/>
<path d="M382.00 134.5V167.2" stroke="#3c4c46"/>
<path d="M382.00 135.3V161.2" stroke="#3c4c46"/>
<path d="M382.50 132.5V147.8" stroke="#5c1919"/>
<path d="M382.50 135.3V142.3" stroke="#5c1919"/>
<path d="M383.00 140.0V164.7" stroke="#4a1a1a"/>
<path d="M383.00 142.3V162.6" stroke="#4a1a1a"/>
<path d="M383.50 157.0V165.9" stroke="#3c4c46"/>
<path d="M383.50 158.1V162.6" stroke="#3c4c46"/>
<path d="M384.00 137.7V163.7" stroke="#5a6a64"/>
<path d="M384.00 152.1V158.1" stroke="#5a6a64"/>
<path d="M384.50 142.5V163.8" stroke="#762121"/>
<path d="M384.50 152.1V162.0" stroke="#762121"/>
<path d="M385.00 147.4V167.0" stroke="#5a6a64"/>
<path d="M385.00 149.3V162.0" stroke="#5a6a64"/>
<path d="M385.50 138.0V154.4" stroke="#5a6a64"/>
<path d="M385.50 140.8V149.3" stroke="#5a6a64"/>
<path d="M386.00 135.3V169.4" stroke="#5c1919"/>
<path d="M386.00 140.8V167.0" stroke="#5c1919"/>
<path d="M386.50 137.9V169.3" stroke="#5a6a64"/>
<path d="M386.50 141.9V167.0" stroke="#5a6a64"/>
<path d="M387.00 137.0V149.6" stroke="#681c1c"/>
<path d="M387.00 141.9V149.1" stroke="#681c1c"/>
<path d="M387.50 146.4V157.1" stroke="#4a1a1a"/>
<path d="M387.50 149.1V152.8" stroke="#4a1a1a"/>
<path d="M388.00 136.9V157.4" stroke="#5a6a64"/>
<path d="M388.00 138.4V152.8" stroke="#5a6a64"/>
<path d="M388.50 133.5V149.2" stroke="#3c4c46"/>
<path d="M388.50 135.4V138.4" stroke="#3c4c46"/>
<path d="M389.00 130.9V149.0" stroke="#4a1a1a"/>
<path d="M389.00 135.4V148.6" stroke="#4a1a1a"/>
<path d="M389.50 138.4V152.4" stroke="#4d5f58"/>
<path d="M389.50 140.4V148.6" stroke="#4d5f58"/>
<path d="M390.00 124.7V169.0" stroke="#4d5f58"/>
<path d="M390.00 127.6V140.4" stroke="#4d5f58"/>
<path d="M390.50 124.5V169.0" stroke="#762121"/>
<path d="M390.50 127.6V134.3" stroke="#762121"/>
<path d="M391.00 130.2V156.5" stroke="#681c1c"/>
<path d="M391.00 134.3V155.7" stroke="#681c1c"/>
<path d="M391.50 151.8V156.0" stroke="#4d5f58"/>
<path d="M391.50 153.9V155.7" stroke="#4d5f58"/>
<path d="M392.00 131.3V143.0" stroke="#3c4c46"/>
<path d="M392.00 132.8V143.0" stroke="#3c4c46"/>
<path d="M392.50 106.5V130.0" stroke="#4d5f58"/>
<path d="M392.50 107.0V130.0" stroke="#4d5f58"/>
<path d="M393.00 85.8V107.2" stroke="#5a6a64"/>
<path d="M393.00 95.0V107.0" stroke="#5a6a64"/>
<path d="M393.50 64.9V101.1" stroke="#5a6a64"/>
<path d="M393.50 71.9V95.0" stroke="#5a6a64"/>
<path d="M394.00 59.4V86.7" stroke="#5a6a64"/>
<path d="M394.00 65.0V71.9" stroke="#5a6a64"/>
<path d="M394.50 42.0V71.0" stroke="#4d5f58"/>
<path d="M394.50 51.0V65.0" stroke="#4d5f58"/>
<path d="M395.00 48.7V56.2" stroke="#5c1919"/>
<path d="M395.00 51.0V55.2" stroke="#5c1919"/>
<path d="M395.50 47.6V57.0" stroke="#4a1a1a"/>
<path d="M395.50 55.2V57.0" stroke="#4a1a1a"/>
<path d="M396.00 56.3V69.0" stroke="#762121"/>
<path d="M396.00 57.0V67.7" stroke="#762121"/>
<path d="M396.50 64.2V87.0" stroke="#681c1c"/>
<path d="M396.50 67.7V84.8" stroke="#681c1c"/>
<path d="M397.00 84.3V104.6" stroke="#4a1a1a"/>
<path d="M397.00 84.8V104.3" stroke="#4a1a1a"/>
<path d="M397.50 99.6V106.3" stroke="#4d5f58"/>
<path d="M397.50 103.9V104.9" stroke="#4d5f58"/>
<path d="M398.00 95.9V106.2" stroke="#333f3a"/>
<path d="M398.00 98.7V103.9" stroke="#333f3a"/>
<path d="M398.50 85.5V104.1" stroke="#4d5f58"/>
<path d="M398.50 90.1V98.7" stroke="#4d5f58"/>
<path d="M399.00 71.0V92.6" stroke="#5a6a64"/>
<path d="M399.00 74.1V90.1" stroke="#5a6a64"/>
<path d="M399.50 69.7V101.1" stroke="#5c1919"/>
<path d="M399.50 74.1V95.8" stroke="#5c1919"/>
<path d="M400.00 94.9V104.5" stroke="#4a1a1a"/>
<path d="M400.00 95.8V103.0" stroke="#4a1a1a"/>
<path d="M400.50 95.9V104.3" stroke="#4a1a1a"/>
<path d="M400.50 103.0V104.0" stroke="#4a1a1a"/>
<path d="M401.00 94.8V109.2" stroke="#5a6a64"/>
<path d="M401.00 95.4V104.0" stroke="#5a6a64"/>
<path d="M401.50 62.5V107.9" stroke="#681c1c"/>
<path d="M401.50 95.4V103.6" stroke="#681c1c"/>
<path d="M402.00 92.0V108.9" stroke="#4d5f58"/>
<path d="M402.00 94.3V103.6" stroke="#4d5f58"/>
<path d="M402.50 91.9V106.9" stroke="#5c1919"/>
<path d="M402.50 94.3V100.1" stroke="#5c1919"/>
<path d="M403.00 90.5V118.0" stroke="#3c4c46"/>
<path d="M403.00 93.1V100.1" stroke="#3c4c46"/>
<path d="M403.50 90.0V112.6" stroke="#681c1c"/>
<path d="M403.50 93.1V109.6" stroke="#681c1c"/>
<path d="M404.00 105.0V140.0" stroke="#762121"/>
<path d="M404.00 109.6V133.6" stroke="#762121"/>
<path d="M404.50 130.9V147.9" stroke="#681c1c"/>
<path d="M404.50 133.6V145.3" stroke="#681c1c"/>
<path d="M405.00 143.0V151.6" stroke="#681c1c"/>
<path d="M405.00 145.3V146.8" stroke="#681c1c"/>
<path d="M405.50 145.0V150.3" stroke="#681c1c"/>
<path d="M405.50 146.8V149.2" stroke="#681c1c"/>
<path d="M406.00 137.2V153.0" stroke="#5a6a64"/>
<path d="M406.00 147.6V149.2" stroke="#5a6a64"/>
<path d="M406.50 142.0V156.9" stroke="#681c1c"/>
<path d="M406.50 147.6V154.9" stroke="#681c1c"/>
<path d="M407.00 151.9V176.6" stroke="#681c1c"/>
<path d="M407.00 154.9V175.0" stroke="#681c1c"/>
<path d="M407.50 171.5V195.3" stroke="#4a1a1a"/>
<path d="M407.50 175.0V185.9" stroke="#4a1a1a"/>
<path d="M408.00 177.5V203.3" stroke="#681c1c"/>
<path d="M408.00 185.9V202.9" stroke="#681c1c"/>
<path d="M408.50 165.0V203.7" stroke="#5a6a64"/>
<path d="M408.50 181.3V202.9" stroke="#5a6a64"/>
<path d="M409.00 173.6V190.0" stroke="#4a1a1a"/>
<path d="M409.00 181.3V182.5" stroke="#4a1a1a"/>
<path d="M409.50 180.0V204.7" stroke="#762121"/>
<path d="M409.50 182.5V189.5" stroke="#762121"/>
<path d="M410.00 190.0V239.0" stroke="#681c1c"/>
<path d="M410.00 190.0V209.1" stroke="#681c1c"/>
<path d="M410.50 205.9V243.5" stroke="#762121"/>
<path d="M410.50 209.1V221.2" stroke="#762121"/>
<path d="M411.00 212.4V227.0" stroke="#762121"/>
<path d="M411.00 221.2V225.6" stroke="#762121"/>
<path d="M411.50 220.8V227.6" stroke="#5c1919"/>
<path d="M411.50 225.6V226.6" stroke="#5c1919"/>
<path d="M412.00 209.5V227.5" stroke="#5a6a64"/>
<path d="M412.00 213.6V225.7" stroke="#5a6a64"/>
<path d="M412.50 207.1V214.2" stroke="#5a6a64"/>
<path d="M412.50 208.9V213.6" stroke="#5a6a64"/>
<path d="M413.00 189.9V214.3" stroke="#5a6a64"/>
<path d="M413.00 195.6V208.9" stroke="#5a6a64"/>
<path d="M413.50 182.7V203.6" stroke="#5a6a64"/>
<path d="M413.50 187.3V195.6" stroke="#5a6a64"/>
<path d="M414.00 173.3V190.8" stroke="#5a6a64"/>
<path d="M414.00 177.5V187.3" stroke="#5a6a64"/>
<path d="M414.50 159.0V179.1" stroke="#762121"/>
<path d="M414.50 177.5V178.9" stroke="#762121"/>
<path d="M415.00 176.5V190.0" stroke="#681c1c"/>
<path d="M415.00 178.9V187.5" stroke="#681c1c"/>
<path d="M415.50 167.2V195.9" stroke="#5a6a64"/>
<path d="M415.50 169.8V187.5" stroke="#5a6a64"/>
<path d="M416.00 167.6V180.1" stroke="#762121"/>
<path d="M416.00 169.8V174.3" stroke="#762121"/>
<path d="M416.50 162.1V176.6" stroke="#5a6a64"/>
<path d="M416.50 163.1V174.3" stroke="#5a6a64"/>
<path d="M417.00 161.5V183.8" stroke="#681c1c"/>
<path d="M417.00 163.1V182.3" stroke="#681c1c"/>
<path d="M417.50 181.9V198.8" stroke="#5c1919"/>
<path d="M417.50 182.3V186.4" stroke="#5c1919"/>
<path d="M418.00 177.5V217.0" stroke="#4d5f58"/>
<path d="M418.00 178.7V186.4" stroke="#4d5f58"/>
<path d="M418.50 177.3V192.0" stroke="#681c1c"/>
<path d="M418.50 178.7V181.2" stroke="#681c1c"/>
<path d="M419.00 170.0V183.9" stroke="#333f3a"/>
<path d="M419.00 173.1V181.2" stroke="#333f3a"/>
<path d="M419.50 169.1V200.3" stroke="#681c1c"/>
<path d="M419.50 173.1V198.2" stroke="#681c1c"/>
<path d="M420.00 185.9V202.6" stroke="#5a6a64"/>
<path d="M420.00 197.5V198.5" stroke="#5a6a64"/>
<path d="M420.50 190.2V197.9" stroke="#3c4c46"/>
<path d="M420.50 193.4V197.5" stroke="#3c4c46"/>
<path d="M421.00 166.4V204.3" stroke="#5c1919"/>
<path d="M421.00 193.4V196.0" stroke="#5c1919"/>
<path d="M421.50 165.5V207.4" stroke="#5a6a64"/>
<path d="M421.50 195.3V196.3" stroke="#5a6a64"/>
<path d="M422.00 155.0V195.6" stroke="#4d5f58"/>
<path d="M422.00 178.1V195.3" stroke="#4d5f58"/>
<path d="M422.50 154.2V171.1" stroke="#5a6a64"/>
<path d="M422.50 154.2V171.1" stroke="#5a6a64"/>
<path d="M423.00 117.8V158.4" stroke="#4d5f58"/>
<path d="M423.00 118.6V154.2" stroke="#4d5f58"/>
<path d="M423.50 110.6V122.3" stroke="#333f3a"/>
<path d="M423.50 113.0V118.6" stroke="#333f3a"/>
<path d="M424.00 111.7V134.2" stroke="#5c1919"/>
<path d="M424.00 113.0V131.6" stroke="#5c1919"/>
<path d="M424.50 123.6V140.8" stroke="#681c1c"/>
<path d="M424.50 131.6V134.8" stroke="#681c1c"/>
<path d="M425.00 116.1V139.0" stroke="#3c4c46"/>
<path d="M425.00 117.9V134.8" stroke="#3c4c46"/>
<path d="M425.50 89.6V120.4" stroke="#3c4c46"/>
<path d="M425.50 109.3V117.9" stroke="#3c4c46"/>
<path d="M426.00 102.0V119.0" stroke="#681c1c"/>
<path d="M426.00 109.3V116.8" stroke="#681c1c"/>
<path d="M426.50 107.8V153.7" stroke="#5c1919"/>
<path d="M426.50 116.8V151.4" stroke="#5c1919"/>
<path d="M427.00 141.7V151.6" stroke="#4d5f58"/>
<path d="M427.00 145.2V151.4" stroke="#4d5f58"/>
<path d="M427.50 120.9V155.0" stroke="#3c4c46"/>
<path d="M427.50 122.2V145.2" stroke="#3c4c46"/>
<path d="M428.00 132.9V134.4" stroke="#5a6a64"/>
<path d="M428.00 132.9V134.4" stroke="#5a6a64"/>
<path d="M428.50 135.9V137.4" stroke="#3c4c46"/>
<path d="M428.50 135.9V137.4" stroke="#3c4c46"/>
<path d="M429.00 139.8V141.3" stroke="#4d5f58"/>
<path d="M429.00 139.8V141.3" stroke="#4d5f58"/>
<path d="M430.00 147.5V149.0" stroke="#333f3a"/>
<path d="M430.00 147.5V149.0" stroke="#333f3a"/>
<path d="M430.50 151.0V152.5" stroke="#3c4c46"/>
<path d="M430.50 151.0V152.5" stroke="#3c4c46"/>
<path d="M431.00 153.5V155.0" stroke="#333f3a"/>
<path d="M431.00 153.5V155.0" stroke="#333f3a"/>
<path d="M431.50 156.0V157.5" stroke="#333f3a"/>
<path d="M431.50 156.0V157.5" stroke="#333f3a"/>
<path d="M432.00 158.5V160.0" stroke="#3c4c46"/>
<path d="M432.00 158.5V160.0" stroke="#3c4c46"/>
<path d="M433.00 163.6V165.1" stroke="#5a6a64"/>
<path d="M433.00 163.6V165.1" stroke="#5a6a64"/>
<path d="M433.50 161.5V169.4" stroke="#4a1a1a"/>
<path d="M433.50 163.6V169.3" stroke="#4a1a1a"/>
<path d="M434.00 163.5V171.2" stroke="#333f3a"/>
<path d="M434.00 167.7V169.3" stroke="#333f3a"/>
<path d="M434.50 158.8V193.0" stroke="#5c1919"/>
<path d="M434.50 167.7V173.8" stroke="#5c1919"/>
<path d="M435.00 157.2V183.1" stroke="#333f3a"/>
<path d="M435.00 158.0V173.8" stroke="#333f3a"/>
<path d="M435.50 149.6V172.1" stroke="#681c1c"/>
<path d="M435.50 158.0V171.7" stroke="#681c1c"/>
<path d="M436.00 161.3V171.9" stroke="#4d5f58"/>
<path d="M436.00 171.1V172.1" stroke="#4d5f58"/>
<path d="M436.50 157.2V185.0" stroke="#5a6a64"/>
<path d="M436.50 161.1V171.1" stroke="#5a6a64"/>
<path d="M437.00 149.7V161.2" stroke="#5a6a64"/>
<path d="M437.00 155.3V161.1" stroke="#5a6a64"/>
<path d="M437.50 145.2V155.6" stroke="#4d5f58"/>
<path d="M437.50 145.6V155.3" stroke="#4d5f58"/>
<path d="M438.00 143.5V157.5" stroke="#4d5f58"/>
<path d="M438.00 143.9V145.6" stroke="#4d5f58"/>
<path d="M438.50 141.7V158.6" stroke="#5c1919"/>
<path d="M438.50 143.9V154.1" stroke="#5c1919"/>
<path d="M439.00 141.0V157.7" stroke="#5a6a64"/>
<path d="M439.00 148.2V154.1" stroke="#5a6a64"/>
<path d="M439.50 146.5V166.9" stroke="#762121"/>
<path d="M439.50 148.2V164.1" stroke="#762121"/>
<path d="M440.00 128.7V165.9" stroke="#4d5f58"/>
<path d="M440.00 133.4V164.1" stroke="#4d5f58"/>
<path d="M440.50 107.8V158.0" stroke="#681c1c"/>
<path d="M440.50 133.4V150.0" stroke="#681c1c"/>
<path d="M441.00 143.1V150.5" stroke="#333f3a"/>
<path d="M441.00 146.4V150.0" stroke="#333f3a"/>
<path d="M441.50 136.3V149.4" stroke="#3c4c46"/>
<path d="M441.50 139.4V146.4" stroke="#3c4c46"/>
<path d="M442.00 122.6V146.8" stroke="#333f3a"/>
<path d="M442.00 122.7V139.4" stroke="#333f3a"/>
<path d="M442.50 113.4V144.3" stroke="#4a1a1a"/>
<path d="M442.50 122.7V134.0" stroke="#4a1a1a"/>
<path d="M443.00 126.5V135.2" stroke="#3c4c46"/>
<path d="M443.00 126.8V134.0" stroke="#3c4c46"/>
<path d="M443.50 121.3V139.7" stroke="#762121"/>
<path d="M443.50 126.8V137.9" stroke="#762121"/>
<path d="M444.00 135.0V147.7" stroke="#5c1919"/>
<path d="M444.00 137.9V147.2" stroke="#5c1919"/>
<path d="M444.50 143.9V166.4" stroke="#681c1c"/>
<path d="M444.50 147.2V164.3" stroke="#681c1c"/>
<path d="M445.00 163.1V170.0" stroke="#681c1c"/>
<path d="M445.00 164.3V168.5" stroke="#681c1c"/>
<path d="M445.50 166.2V172.5" stroke="#5c1919"/>
<path d="M445.50 168.5V171.2" stroke="#5c1919"/>
<path d="M446.00 153.0V175.0" stroke="#5c1919"/>
<path d="M446.00 171.2V172.2" stroke="#5c1919"/>
<path d="M446.50 165.1V173.2" stroke="#333f3a"/>
<path d="M446.50 168.9V171.7" stroke="#333f3a"/>
<path d="M447.00 167.2V169.3" stroke="#333f3a"/>
<path d="M447.00 167.9V168.9" stroke="#333f3a"/>
<path d="M447.50 165.8V175.2" stroke="#4a1a1a"/>
<path d="M447.50 167.9V172.8" stroke="#4a1a1a"/>
<path d="M448.00 170.0V172.8" stroke="#4d5f58"/>
<path d="M448.00 171.5V172.8" stroke="#4d5f58"/>
<path d="M448.50 171.9V177.4" stroke="#5c1919"/>
<path d="M448.50 171.9V174.8" stroke="#5c1919"/>
<path d="M449.00 174.5V180.4" stroke="#4a1a1a"/>
<path d="M449.00 174.8V178.1" stroke="#4a1a1a"/>
<path d="M449.50 177.5V191.1" stroke="#681c1c"/>
<path d="M449.50 178.1V190.6" stroke="#681c1c"/>
<path d="M450.00 190.3V196.1" stroke="#4a1a1a"/>
<path d="M450.00 190.6V193.2" stroke="#4a1a1a"/>
<path d="M450.50 186.2V193.3" stroke="#333f3a"/>
<path d="M450.50 186.3V193.2" stroke="#333f3a"/>
<path d="M451.00 183.0V204.7" stroke="#4a1a1a"/>
<path d="M451.00 186.3V199.8" stroke="#4a1a1a"/>
<path d="M451.50 196.9V200.0" stroke="#3c4c46"/>
<path d="M451.50 198.2V199.8" stroke="#3c4c46"/>
<path d="M452.00 192.5V200.7" stroke="#4d5f58"/>
<path d="M452.00 194.4V198.2" stroke="#4d5f58"/>
<path d="M452.50 193.9V204.4" stroke="#762121"/>
<path d="M452.50 194.4V202.0" stroke="#762121"/>
<path d="M453.00 200.1V207.6" stroke="#5a6a64"/>
<path d="M453.00 200.4V202.0" stroke="#5a6a64"/>
<path d="M453.50 197.2V206.0" stroke="#681c1c"/>
<path d="M453.50 200.4V204.1" stroke="#681c1c"/>
<path d="M454.00 200.7V211.0" stroke="#4a1a1a"/>
<path d="M454.00 204.1V210.0" stroke="#4a1a1a"/>
<path d="M454.50 205.4V228.5" stroke="#3c4c46"/>
<path d="M454.50 208.6V210.0" stroke="#3c4c46"/>
<path d="M455.00 199.0V213.2" stroke="#333f3a"/>
<path d="M455.00 200.3V208.6" stroke="#333f3a"/>
<path d="M455.50 199.4V201.6" stroke="#5c1919"/>
<path d="M455.50 200.3V201.3" stroke="#5c1919"/>
<path d="M456.00 200.0V217.9" stroke="#4a1a1a"/>
<path d="M456.00 200.9V216.8" stroke="#4a1a1a"/>
<path d="M456.50 212.7V223.2" stroke="#4a1a1a"/>
<path d="M456.50 216.8V222.7" stroke="#4a1a1a"/>
<path d="M457.00 219.0V237.1" stroke="#4a1a1a"/>
<path d="M457.00 222.7V235.7" stroke="#4a1a1a"/>
<path d="M457.50 232.2V251.2" stroke="#5c1919"/>
<path d="M457.50 235.7V250.6" stroke="#5c1919"/>
<path d="M458.00 245.4V254.5" stroke="#3c4c46"/>
<path d="M458.00 246.5V250.6" stroke="#3c4c46"/>
<path d="M458.50 233.0V253.9" stroke="#5c1919"/>
<path d="M458.50 246.5V252.3" stroke="#5c1919"/>
<path d="M459.00 245.0V253.2" stroke="#333f3a"/>
<path d="M459.00 249.5V252.3" stroke="#333f3a"/>
<path d="M459.50 246.4V257.0" stroke="#4a1a1a"/>
<path d="M459.50 249.5V255.4" stroke="#4a1a1a"/>
<path d="M460.00 249.5V294.2" stroke="#5c1919"/>
<path d="M460.00 255.4V256.4" stroke="#5c1919"/>
<path d="M460.50 247.7V301.0" stroke="#3c4c46"/>
<path d="M460.50 254.5V256.0" stroke="#3c4c46"/>
<path d="M461.00 251.5V257.1" stroke="#4d5f58"/>
<path d="M461.00 254.3V255.3" stroke="#4d5f58"/>
<path d="M461.50 229.4V261.0" stroke="#3c4c46"/>
<path d="M461.50 241.1V254.3" stroke="#3c4c46"/>
<path d="M462.00 240.8V257.3" stroke="#681c1c"/>
<path d="M462.00 241.1V256.4" stroke="#681c1c"/>
<path d="M462.50 234.1V262.8" stroke="#5a6a64"/>
<path d="M462.50 255.8V256.8" stroke="#5a6a64"/>
<path d="M463.00 254.3V263.3" stroke="#762121"/>
<path d="M463.00 255.8V257.3" stroke="#762121"/>
<path d="M463.50 252.4V272.6" stroke="#5c1919"/>
<path d="M463.50 257.3V264.3" stroke="#5c1919"/>
<path d="M464.00 263.9V267.1" stroke="#5c1919"/>
<path d="M464.00 264.3V265.3" stroke="#5c1919"/>
<path d="M464.50 257.4V266.8" stroke="#4a1a1a"/>
<path d="M464.50 264.5V265.8" stroke="#4a1a1a"/>
<path d="M465.00 262.4V271.5" stroke="#762121"/>
<path d="M465.00 265.8V267.2" stroke="#762121"/>
<path d="M465.50 262.0V272.3" stroke="#4d5f58"/>
<path d="M465.50 262.2V267.2" stroke="#4d5f58"/>
<path d="M466.00 261.4V263.1" stroke="#4a1a1a"/>
<path d="M466.00 262.2V263.2" stroke="#4a1a1a"/>
<path d="M466.50 262.0V270.5" stroke="#762121"/>
<path d="M466.50 262.6V265.5" stroke="#762121"/>
<path d="M467.00 264.5V268.6" stroke="#681c1c"/>
<path d="M467.00 265.5V266.5" stroke="#681c1c"/>
<path d="M467.50 259.3V279.2" stroke="#5a6a64"/>
<path d="M467.50 261.7V265.9" stroke="#5a6a64"/>
<path d="M468.00 260.0V269.3" stroke="#681c1c"/>
<path d="M468.00 261.7V268.4" stroke="#681c1c"/>
<path d="M468.50 259.7V270.7" stroke="#333f3a"/>
<path d="M468.50 260.4V268.4" stroke="#333f3a"/>
<path d="M469.00 259.1V278.0" stroke="#5c1919"/>
<path d="M469.00 260.4V274.7" stroke="#5c1919"/>
<path d="M469.50 263.9V279.8" stroke="#4d5f58"/>
<path d="M469.50 264.6V274.7" stroke="#4d5f58"/>
<path d="M470.00 263.5V282.2" stroke="#333f3a"/>
<path d="M470.00 264.4V265.4" stroke="#333f3a"/>
<path d="M470.50 262.5V269.6" stroke="#4a1a1a"/>
<path d="M470.50 264.4V265.9" stroke="#4a1a1a"/>
<path d="M471.00 257.2V267.7" stroke="#3c4c46"/>
<path d="M471.00 260.0V265.9" stroke="#3c4c46"/>
<path d="M471.50 259.0V272.3" stroke="#5c1919"/>
<path d="M471.50 260.0V268.8" stroke="#5c1919"/>
<path d="M472.00 257.0V269.9" stroke="#681c1c"/>
<path d="M472.00 268.8V269.8" stroke="#681c1c"/>
<path d="M472.50 265.3V277.9" stroke="#4a1a1a"/>
<path d="M472.50 269.0V276.8" stroke="#4a1a1a"/>
<path d="M473.00 257.6V278.8" stroke="#4d5f58"/>
<path d="M473.00 265.6V276.8" stroke="#4d5f58"/>
<path d="M473.50 258.0V266.5" stroke="#5a6a64"/>
<path d="M473.50 259.3V265.6" stroke="#5a6a64"/>
<path d="M474.00 258.2V286.2" stroke="#762121"/>
<path d="M474.00 259.3V261.8" stroke="#762121"/>
<path d="M474.50 260.6V264.2" stroke="#762121"/>
<path d="M474.50 261.8V263.5" stroke="#762121"/>
<path d="M475.00 263.1V276.2" stroke="#681c1c"/>
<path d="M475.00 263.5V271.1" stroke="#681c1c"/>
<path d="M475.50 263.4V272.1" stroke="#333f3a"/>
<path d="M475.50 267.2V271.1" stroke="#333f3a"/>
<path d="M476.00 259.4V273.6" stroke="#3c4c46"/>
<path d="M476.00 260.8V267.2" stroke="#3c4c46"/>
<path d="M476.50 259.7V269.9" stroke="#5c1919"/>
<path d="M476.50 260.8V265.6" stroke="#5c1919"/>
<path d="M477.00 262.5V272.5" stroke="#681c1c"/>
<path d="M477.00 265.6V269.9" stroke="#681c1c"/>
<path d="M477.50 260.2V275.9" stroke="#762121"/>
<path d="M477.50 269.9V272.2" stroke="#762121"/>
<path d="M478.00 264.4V276.7" stroke="#333f3a"/>
<path d="M478.00 269.2V272.2" stroke="#333f3a"/>
<path d="M478.50 268.2V279.0" stroke="#5c1919"/>
<path d="M478.50 269.2V276.2" stroke="#5c1919"/>
<path d="M479.00 275.2V276.7" stroke="#5a6a64"/>
<path d="M479.00 275.9V276.9" stroke="#5a6a64"/>
<path d="M479.50 261.1V288.9" stroke="#3c4c46"/>
<path d="M479.50 265.4V275.9" stroke="#3c4c46"/>
<path d="M480.00 261.1V266.4" stroke="#4d5f58"/>
<path d="M480.00 263.9V265.4" stroke="#4d5f58"/>
<path d="M480.50 261.9V273.3" stroke="#5c1919"/>
<path d="M480.50 263.9V272.8" stroke="#5c1919"/>
<path d="M481.00 272.7V280.9" stroke="#762121"/>
<path d="M481.00 272.8V280.0" stroke="#762121"/>
<path d="M481.50 265.3V280.2" stroke="#3c4c46"/>
<path d="M481.50 269.3V280.0" stroke="#3c4c46"/>
<path d="M482.00 267.1V289.8" stroke="#681c1c"/>
<path d="M482.00 269.3V280.3" stroke="#681c1c"/>
<path d="M482.50 262.0V283.2" stroke="#4d5f58"/>
<path d="M482.50 278.9V280.3" stroke="#4d5f58"/>
<path d="M483.00 273.6V282.5" stroke="#4d5f58"/>
<path d="M483.00 275.6V278.9" stroke="#4d5f58"/>
<path d="M483.50 260.0V280.9" stroke="#4d5f58"/>
<path d="M483.50 262.9V275.6" stroke="#4d5f58"/>
<path d="M484.00 255.9V266.7" stroke="#5c1919"/>
<path d="M484.00 262.9V263.9" stroke="#5c1919"/>
<path d="M484.50 260.8V268.4" stroke="#4d5f58"/>
<path d="M484.50 261.7V263.0" stroke="#4d5f58"/>
<path d="M485.00 261.3V267.8" stroke="#681c1c"/>
<path d="M485.00 261.7V263.8" stroke="#681c1c"/>
<path d="M485.50 235.3V265.7" stroke="#4d5f58"/>
<path d="M485.50 245.9V263.8" stroke="#4d5f58"/>
<path d="M486.00 243.5V250.1" stroke="#5c1919"/>
<path d="M486.00 245.9V249.2" stroke="#5c1919"/>
<path d="M486.50 249.2V260.5" stroke="#681c1c"/>
<path d="M486.50 249.2V258.0" stroke="#681c1c"/>
<path d="M487.00 205.9V256.1" stroke="#5a6a64"/>
<path d="M487.00 222.4V256.1" stroke="#5a6a64"/>
<path d="M487.50 210.3V231.2" stroke="#681c1c"/>
<path d="M487.50 222.4V228.2" stroke="#681c1c"/>
<path d="M488.00 227.6V233.0" stroke="#5a6a64"/>
<path d="M488.00 227.9V228.9" stroke="#5a6a64"/>
<path d="M488.50 192.2V242.7" stroke="#5a6a64"/>
<path d="M488.50 224.8V227.9" stroke="#5a6a64"/>
<path d="M489.00 189.5V240.3" stroke="#333f3a"/>
<path d="M489.00 219.6V224.8" stroke="#333f3a"/>
<path d="M489.50 213.4V227.5" stroke="#333f3a"/>
<path d="M489.50 217.0V219.6" stroke="#333f3a"/>
<path d="M490.00 216.3V225.8" stroke="#4a1a1a"/>
<path d="M490.00 217.0V219.4" stroke="#4a1a1a"/>
<path d="M490.50 204.3V225.6" stroke="#3c4c46"/>
<path d="M490.50 206.0V219.4" stroke="#3c4c46"/>
<path d="M491.00 203.0V210.8" stroke="#3c4c46"/>
<path d="M491.00 205.1V206.1" stroke="#3c4c46"/>
<path d="M491.50 195.1V244.5" stroke="#333f3a"/>
<path d="M491.50 199.1V205.1" stroke="#333f3a"/>
<path d="M492.00 197.4V211.6" stroke="#5c1919"/>
<path d="M492.00 199.1V208.2" stroke="#5c1919"/>
<path d="M492.50 207.6V220.3" stroke="#681c1c"/>
<path d="M492.50 208.2V217.1" stroke="#681c1c"/>
<path d="M493.00 197.2V220.8" stroke="#5a6a64"/>
<path d="M493.00 210.5V217.1" stroke="#5a6a64"/>
<path d="M493.50 208.3V226.0" stroke="#762121"/>
<path d="M493.50 210.5V223.3" stroke="#762121"/>
<path d="M494.00 211.1V228.6" stroke="#5a6a64"/>
<path d="M494.00 215.6V223.3" stroke="#5a6a64"/>
<path d="M494.50 208.2V220.8" stroke="#3c4c46"/>
<path d="M494.50 211.9V215.6" stroke="#3c4c46"/>
<path d="M495.00 210.4V217.6" stroke="#681c1c"/>
<path d="M495.00 211.9V217.5" stroke="#681c1c"/>
<path d="M495.50 217.1V236.8" stroke="#4a1a1a"/>
<path d="M495.50 217.5V235.6" stroke="#4a1a1a"/>
<path d="M496.00 229.5V240.8" stroke="#5c1919"/>
<path d="M496.00 235.6V239.2" stroke="#5c1919"/>
<path d="M496.50 235.2V240.7" stroke="#333f3a"/>
<path d="M496.50 236.2V239.2" stroke="#333f3a"/>
<path d="M497.00 220.2V239.4" stroke="#333f3a"/>
<path d="M497.00 222.6V236.2" stroke="#333f3a"/>
<path d="M497.50 218.5V244.5" stroke="#3c4c46"/>
<path d="M497.50 221.0V222.6" stroke="#3c4c46"/>
<path d="M498.00 219.2V234.7" stroke="#681c1c"/>
<path d="M498.00 221.0V234.5" stroke="#681c1c"/>
<path d="M498.50 227.4V235.5" stroke="#4d5f58"/>
<path d="M498.50 228.2V234.5" stroke="#4d5f58"/>
<path d="M499.00 227.2V233.7" stroke="#681c1c"/>
<path d="M499.00 228.2V232.0" stroke="#681c1c"/>
<path d="M499.50 231.6V242.9" stroke="#762121"/>
<path d="M499.50 232.0V236.6" stroke="#762121"/>
<path d="M500.00 233.8V242.8" stroke="#681c1c"/>
<path d="M500.00 236.6V242.2" stroke="#681c1c"/>
<path d="M500.50 211.7V244.3" stroke="#4d5f58"/>
<path d="M500.50 232.7V242.2" stroke="#4d5f58"/>
<path d="M501.00 231.1V235.0" stroke="#5a6a64"/>
<path d="M501.00 232.1V233.1" stroke="#5a6a64"/>
<path d="M501.50 226.4V233.0" stroke="#5a6a64"/>
<path d="M501.50 230.7V232.1" stroke="#5a6a64"/>
<path d="M502.00 227.5V239.8" stroke="#681c1c"/>
<path d="M502.00 230.7V233.6" stroke="#681c1c"/>
<path d="M502.50 232.6V236.8" stroke="#5c1919"/>
<path d="M502.50 233.6V234.6" stroke="#5c1919"/>
<path d="M503.00 233.3V244.0" stroke="#762121"/>
<path d="M503.00 233.7V242.6" stroke="#762121"/>
<path d="M503.50 238.8V246.0" stroke="#4a1a1a"/>
<path d="M503.50 242.6V243.7" stroke="#4a1a1a"/>
<path d="M504.00 227.5V246.0" stroke="#5a6a64"/>
<path d="M504.00 231.6V243.7" stroke="#5a6a64"/>
<path d="M504.50 229.7V237.1" stroke="#762121"/>
<path d="M504.50 231.6V232.6" stroke="#762121"/>
<path d="M505.00 228.4V235.7" stroke="#5a6a64"/>
<path d="M505.00 230.5V232.5" stroke="#5a6a64"/>
<path d="M505.50 203.4V234.5" stroke="#3c4c46"/>
<path d="M505.50 207.5V230.5" stroke="#3c4c46"/>
<path d="M506.00 202.4V229.2" stroke="#4a1a1a"/>
<path d="M506.00 207.5V228.6" stroke="#4a1a1a"/>
<path d="M506.50 217.6V231.5" stroke="#333f3a"/>
<path d="M506.50 226.5V228.6" stroke="#333f3a"/>
<path d="M507.00 225.1V233.6" stroke="#5c1919"/>
<path d="M507.00 226.5V229.9" stroke="#5c1919"/>
<path d="M507.50 193.0V231.6" stroke="#3c4c46"/>
<path d="M507.50 223.1V229.9" stroke="#3c4c46"/>
<path d="M508.00 217.1V247.5" stroke="#4a1a1a"/>
<path d="M508.00 223.1V229.0" stroke="#4a1a1a"/>
<path d="M508.50 225.3V233.3" stroke="#4d5f58"/>
<path d="M508.50 226.7V229.0" stroke="#4d5f58"/>
<path d="M509.00 214.0V250.2" stroke="#681c1c"/>
<path d="M509.00 226.7V244.3" stroke="#681c1c"/>
<path d="M509.50 235.5V247.2" stroke="#5a6a64"/>
<path d="M509.50 235.6V244.3" stroke="#5a6a64"/>
<path d="M510.00 223.7V237.7" stroke="#5a6a64"/>
<path d="M510.00 231.4V235.6" stroke="#5a6a64"/>
<path d="M510.50 228.9V236.6" stroke="#4a1a1a"/>
<path d="M510.50 231.4V232.4" stroke="#4a1a1a"/>
<path d="M511.00 214.0V234.4" stroke="#5c1919"/>
<path d="M511.00 231.8V232.9" stroke="#5c1919"/>
<path d="M511.50 231.2V242.8" stroke="#681c1c"/>
<path d="M511.50 232.9V239.6" stroke="#681c1c"/>
<path d="M512.00 214.0V258.1" stroke="#681c1c"/>
<path d="M512.00 239.6V250.7" stroke="#681c1c"/>
<path d="M512.50 248.8V255.7" stroke="#762121"/>
<path d="M512.50 250.7V251.7" stroke="#762121"/>
<path d="M513.00 246.2V261.5" stroke="#5c1919"/>
<path d="M513.00 251.5V258.2" stroke="#5c1919"/>
<path d="M513.50 256.1V265.7" stroke="#4a1a1a"/>
<path d="M513.50 258.2V260.9" stroke="#4a1a1a"/>
<path d="M514.00 232.4V261.2" stroke="#3c4c46"/>
<path d="M514.00 247.8V260.9" stroke="#3c4c46"/>
<path d="M514.50 228.3V255.5" stroke="#3c4c46"/>
<path d="M514.50 229.5V247.8" stroke="#3c4c46"/>
<path d="M515.00 226.4V244.9" stroke="#681c1c"/>
<path d="M515.00 229.5V240.8" stroke="#681c1c"/>
<path d="M515.50 237.5V255.0" stroke="#5c1919"/>
<path d="M515.50 240.8V251.4" stroke="#5c1919"/>
<path d="M516.00 245.8V269.0" stroke="#4a1a1a"/>
<path d="M516.00 251.4V254.5" stroke="#4a1a1a"/>
<path d="M516.50 218.1V263.8" stroke="#333f3a"/>
<path d="M516.50 218.6V254.5" stroke="#333f3a"/>
<path d="M517.00 208.0V223.0" stroke="#3c4c46"/>
<path d="M517.00 210.5V218.6" stroke="#3c4c46"/>
<path d="M517.50 209.5V220.3" stroke="#4a1a1a"/>
<path d="M517.50 210.5V218.4" stroke="#4a1a1a"/>
<path d="M518.00 216.9V229.9" stroke="#762121"/>
<path d="M518.00 218.4V227.4" stroke="#762121"/>
<path d="M518.50 219.5V235.7" stroke="#681c1c"/>
<path d="M518.50 227.4V232.8" stroke="#681c1c"/>
<path d="M519.00 226.8V236.7" stroke="#333f3a"/>
<path d="M519.00 227.2V232.8" stroke="#333f3a"/>
<path d="M519.50 220.0V247.1" stroke="#681c1c"/>
<path d="M519.50 227.2V245.6" stroke="#681c1c"/>
<path d="M520.00 228.2V248.0" stroke="#4d5f58"/>
<path d="M520.00 235.0V245.6" stroke="#4d5f58"/>
<path d="M520.50 208.9V248.0" stroke="#333f3a"/>
<path d="M520.50 211.4V235.0" stroke="#333f3a"/>
<path d="M521.00 202.0V227.2" stroke="#5c1919"/>
<path d="M521.00 211.4V223.1" stroke="#5c1919"/>
<path d="M521.50 218.8V235.4" stroke="#4a1a1a"/>
<path d="M521.50 223.1V227.5" stroke="#4a1a1a"/>
<path d="M522.00 227.0V248.0" stroke="#681c1c"/>
<path d="M522.00 227.5V235.0" stroke="#681c1c"/>
<path d="M522.50 225.4V237.6" stroke="#333f3a"/>
<path d="M522.50 228.7V235.0" stroke="#333f3a"/>
<path d="M523.00 226.9V248.0" stroke="#5c1919"/>
<path d="M523.00 228.7V245.8" stroke="#5c1919"/>
<path d="M523.50 230.3V243.0" stroke="#4d5f58"/>
<path d="M523.50 230.7V243.0" stroke="#4d5f58"/>
<path d="M524.00 190.2V231.9" stroke="#3c4c46"/>
<path d="M524.00 214.6V230.7" stroke="#3c4c46"/>
<path d="M524.50 212.4V216.0" stroke="#5a6a64"/>
<path d="M524.50 212.7V214.6" stroke="#5a6a64"/>
<path d="M525.00 175.3V212.9" stroke="#3c4c46"/>
<path d="M525.00 191.5V212.7" stroke="#3c4c46"/>
<path d="M525.50 186.9V201.4" stroke="#681c1c"/>
<path d="M525.50 191.5V195.5" stroke="#681c1c"/>
<path d="M526.00 191.8V208.2" stroke="#681c1c"/>
<path d="M526.00 195.5V201.8" stroke="#681c1c"/>
<path d="M526.50 200.8V210.3" stroke="#4a1a1a"/>
<path d="M526.50 201.8V206.0" stroke="#4a1a1a"/>
<path d="M527.00 203.1V215.4" stroke="#5c1919"/>
<path d="M527.00 206.0V213.0" stroke="#5c1919"/>
<path d="M527.50 208.4V230.3" stroke="#4a1a1a"/>
<path d="M527.50 213.0V216.3" stroke="#4a1a1a"/>
<path d="M528.00 209.9V217.3" stroke="#4d5f58"/>
<path d="M528.00 210.0V216.3" stroke="#4d5f58"/>
<path d="M528.50 208.5V212.0" stroke="#333f3a"/>
<path d="M528.50 209.4V210.4" stroke="#333f3a"/>
<path d="M529.00 206.4V224.7" stroke="#4a1a1a"/>
<path d="M529.00 209.4V221.7" stroke="#4a1a1a"/>
<path d="M529.50 212.5V226.1" stroke="#3c4c46"/>
<path d="M529.50 214.7V221.7" stroke="#3c4c46"/>
<path d="M530.00 214.0V224.1" stroke="#5c1919"/>
<path d="M530.00 214.7V221.7" stroke="#5c1919"/>
<path d="M530.50 217.8V222.9" stroke="#4d5f58"/>
<path d="M530.50 220.4V221.7" stroke="#4d5f58"/>
<path d="M531.00 219.6V248.1" stroke="#5c1919"/>
<path d="M531.00 220.4V228.3" stroke="#5c1919"/>
<path d="M531.50 228.8V235.4" stroke="#5c1919"/>
<path d="M531.50 228.8V234.5" stroke="#5c1919"/>
<path d="M532.00 241.0V257.9" stroke="#5c1919"/>
<path d="M532.00 241.0V255.7" stroke="#5c1919"/>
<path d="M532.50 254.6V256.7" stroke="#681c1c"/>
<path d="M532.50 255.7V256.7" stroke="#681c1c"/>
<path d="M533.00 251.7V267.5" stroke="#5c1919"/>
<path d="M533.00 256.5V266.4" stroke="#5c1919"/>
<path d="M533.50 263.3V271.2" stroke="#4d5f58"/>
<path d="M533.50 263.6V266.4" stroke="#4d5f58"/>
<path d="M534.00 250.0V264.0" stroke="#333f3a"/>
<path d="M534.00 255.6V263.6" stroke="#333f3a"/>
<path d="M534.50 251.4V263.7" stroke="#4a1a1a"/>
<path d="M534.50 255.6V262.6" stroke="#4a1a1a"/>
<path d="M535.00 261.8V275.5" stroke="#4a1a1a"/>
<path d="M535.00 262.6V270.6" stroke="#4a1a1a"/>
<path d="M535.50 259.1V271.0" stroke="#3c4c46"/>
<path d="M535.50 260.9V270.6" stroke="#3c4c46"/>
<path d="M536.00 255.8V268.7" stroke="#762121"/>
<path d="M536.00 260.9V262.7" stroke="#762121"/>
<path d="M536.50 262.1V270.2" stroke="#5c1919"/>
<path d="M536.50 262.7V267.4" stroke="#5c1919"/>
<path d="M537.00 261.0V269.7" stroke="#4d5f58"/>
<path d="M537.00 265.0V267.4" stroke="#4d5f58"/>
<path d="M537.50 261.0V269.5" stroke="#4a1a1a"/>
<path d="M537.50 265.0V266.4" stroke="#4a1a1a"/>
<path d="M538.00 267.8V273.8" stroke="#5c1919"/>
<path d="M538.00 267.8V269.5" stroke="#5c1919"/>
<path d="M538.50 280.9V289.9" stroke="#681c1c"/>
<path d="M538.50 280.9V287.9" stroke="#681c1c"/>
<path d="M539.00 294.0V304.9" stroke="#4a1a1a"/>
<path d="M539.00 294.0V297.0" stroke="#4a1a1a"/>
<path d="M539.50 298.0V305.2" stroke="#681c1c"/>
<path d="M539.50 298.0V304.3" stroke="#681c1c"/>
<path d="M540.00 303.8V312.8" stroke="#681c1c"/>
<path d="M540.00 304.3V311.5" stroke="#681c1c"/>
<path d="M540.50 309.4V326.1" stroke="#5c1919"/>
<path d="M540.50 311.5V325.5" stroke="#5c1919"/>
<path d="M541.00 325.4V331.6" stroke="#5c1919"/>
<path d="M541.00 325.5V331.0" stroke="#5c1919"/>
<path d="M541.50 321.4V335.1" stroke="#5a6a64"/>
<path d="M541.50 327.2V331.0" stroke="#5a6a64"/>
<path d="M542.00 321.4V329.5" stroke="#762121"/>
<path d="M542.00 327.2V328.2" stroke="#762121"/>
<path d="M542.50 325.0V346.5" stroke="#762121"/>
<path d="M542.50 327.7V344.7" stroke="#762121"/>
<path d="M543.00 343.9V365.0" stroke="#4a1a1a"/>
<path d="M543.00 344.7V350.0" stroke="#4a1a1a"/>
<path d="M543.50 340.1V350.0" stroke="#4d5f58"/>
<path d="M543.50 341.0V350.0" stroke="#4d5f58"/>
<path d="M544.00 332.7V335.0" stroke="#5a6a64"/>
<path d="M544.00 332.8V335.0" stroke="#5a6a64"/>
<path d="M544.50 322.7V334.4" stroke="#5a6a64"/>
<path d="M544.50 332.2V333.2" stroke="#5a6a64"/>
<path d="M545.00 291.7V333.8" stroke="#3c4c46"/>
<path d="M545.00 321.0V332.2" stroke="#3c4c46"/>
<path d="M545.50 312.5V327.6" stroke="#333f3a"/>
<path d="M545.50 319.0V321.0" stroke="#333f3a"/>
<path d="M546.00 305.0V322.8" stroke="#4d5f58"/>
<path d="M546.00 308.0V319.0" stroke="#4d5f58"/>
<path d="M546.50 305.3V325.0" stroke="#762121"/>
<path d="M546.50 308.0V320.3" stroke="#762121"/>
<path d="M547.00 316.1V326.9" stroke="#5c1919"/>
<path d="M547.00 320.3V324.4" stroke="#5c1919"/>
<path d="M547.50 291.7V326.1" stroke="#333f3a"/>
<path d="M547.50 310.4V324.4" stroke="#333f3a"/>
<path d="M548.00 291.7V315.0" stroke="#4a1a1a"/>
<path d="M548.00 310.4V314.1" stroke="#4a1a1a"/>
<path d="M548.50 313.3V329.2" stroke="#4a1a1a"/>
<path d="M548.50 314.1V318.3" stroke="#4a1a1a"/>
<path d="M549.00 315.0V321.3" stroke="#5c1919"/>
<path d="M549.00 318.3V319.5" stroke="#5c1919"/>
<path d="M549.50 315.1V320.2" stroke="#4d5f58"/>
<path d="M549.50 319.0V320.0" stroke="#4d5f58"/>
<path d="M550.00 315.5V320.7" stroke="#3c4c46"/>
<path d="M550.00 315.6V319.0" stroke="#3c4c46"/>
<path d="M550.50 310.9V322.7" stroke="#4d5f58"/>
<path d="M550.50 312.8V315.6" stroke="#4d5f58"/>
<path d="M551.00 305.5V318.4" stroke="#4d5f58"/>
<path d="M551.00 308.2V312.8" stroke="#4d5f58"/>
<path d="M551.50 293.7V324.5" stroke="#762121"/>
<path d="M551.50 308.2V322.1" stroke="#762121"/>
<path d="M552.00 294.0V323.7" stroke="#4d5f58"/>
<path d="M552.00 307.0V322.1" stroke="#4d5f58"/>
<path d="M552.50 306.1V309.7" stroke="#5c1919"/>
<path d="M552.50 307.0V309.5" stroke="#5c1919"/>
<path d="M553.00 299.5V309.5" stroke="#3c4c46"/>
<path d="M553.00 303.0V309.5" stroke="#3c4c46"/>
<path d="M553.50 301.2V304.9" stroke="#681c1c"/>
<path d="M553.50 303.0V304.0" stroke="#681c1c"/>
<path d="M554.00 300.9V307.5" stroke="#681c1c"/>
<path d="M554.00 304.0V307.3" stroke="#681c1c"/>
<path d="M554.50 268.6V317.3" stroke="#4a1a1a"/>
<path d="M554.50 307.3V314.0" stroke="#4a1a1a"/>
<path d="M555.00 269.9V315.1" stroke="#4d5f58"/>
<path d="M555.00 298.2V314.0" stroke="#4d5f58"/>
<path d="M555.50 279.6V317.0" stroke="#5a6a64"/>
<path d="M555.50 286.9V298.2" stroke="#5a6a64"/>
<path d="M556.00 279.5V291.2" stroke="#3c4c46"/>
<path d="M556.00 283.4V286.9" stroke="#3c4c46"/>
<path d="M556.50 279.5V287.5" stroke="#333f3a"/>
<path d="M556.50 281.9V283.4" stroke="#333f3a"/>
<path d="M557.00 279.9V296.8" stroke="#762121"/>
<path d="M557.00 281.9V295.1" stroke="#762121"/>
<path d="M557.50 293.0V300.6" stroke="#5c1919"/>
<path d="M557.50 295.1V297.0" stroke="#5c1919"/>
<path d="M558.00 291.8V306.0" stroke="#5c1919"/>
<path d="M558.00 297.0V303.6" stroke="#5c1919"/>
<path d="M558.50 300.8V308.9" stroke="#681c1c"/>
<path d="M558.50 303.6V304.6" stroke="#681c1c"/>
<path d="M559.00 300.6V311.3" stroke="#762121"/>
<path d="M559.00 304.1V307.4" stroke="#762121"/>
<path d="M559.50 304.2V314.3" stroke="#4a1a1a"/>
<path d="M559.50 307.4V312.3" stroke="#4a1a1a"/>
<path d="M560.00 311.0V321.6" stroke="#681c1c"/>
<path d="M560.00 312.3V318.9" stroke="#681c1c"/>
<path d="M560.50 312.8V323.3" stroke="#762121"/>
<path d="M560.50 318.9V322.6" stroke="#762121"/>
<path d="M561.00 320.4V333.7" stroke="#681c1c"/>
<path d="M561.00 322.6V329.1" stroke="#681c1c"/>
<path d="M561.50 328.8V343.3" stroke="#762121"/>
<path d="M561.50 329.1V336.0" stroke="#762121"/>
<path d="M562.00 332.9V342.4" stroke="#762121"/>
<path d="M562.00 336.0V341.5" stroke="#762121"/>
<path d="M562.50 337.1V342.4" stroke="#4d5f58"/>
<path d="M562.50 337.5V341.5" stroke="#4d5f58"/>
<path d="M563.00 336.0V343.2" stroke="#5c1919"/>
<path d="M563.00 337.5V341.2" stroke="#5c1919"/>
<path d="M563.50 337.5V342.4" stroke="#762121"/>
<path d="M563.50 341.2V342.2" stroke="#762121"/>
<path d="M564.00 340.1V350.6" stroke="#5c1919"/>
<path d="M564.00 342.2V348.9" stroke="#5c1919"/>
<path d="M564.50 348.1V350.1" stroke="#681c1c"/>
<path d="M564.50 348.9V349.9" stroke="#681c1c"/>
<path d="M565.00 337.0V352.5" stroke="#5a6a64"/>
<path d="M565.00 340.9V349.6" stroke="#5a6a64"/>
<path d="M565.50 337.5V355.0" stroke="#762121"/>
<path d="M565.50 340.9V351.1" stroke="#762121"/>
<path d="M566.00 348.6V355.7" stroke="#5c1919"/>
<path d="M566.00 351.1V353.3" stroke="#5c1919"/>
<path d="M566.50 349.6V368.3" stroke="#5c1919"/>
<path d="M566.50 353.3V355.5" stroke="#5c1919"/>
<path d="M567.00 350.6V356.4" stroke="#4d5f58"/>
<path d="M567.00 351.6V355.5" stroke="#4d5f58"/>
<path d="M567.50 348.8V357.4" stroke="#681c1c"/>
<path d="M567.50 351.6V355.6" stroke="#681c1c"/>
<path d="M568.00 353.4V362.1" stroke="#4a1a1a"/>
<path d="M568.00 355.6V361.3" stroke="#4a1a1a"/>
<path d="M568.50 356.4V364.7" stroke="#4d5f58"/>
<path d="M568.50 357.7V361.3" stroke="#4d5f58"/>
<path d="M569.00 360.0V362.8" stroke="#4a1a1a"/>
<path d="M569.00 360.0V361.7" stroke="#4a1a1a"/>
<path d="M569.50 362.2V370.4" stroke="#681c1c"/>
<path d="M569.50 362.2V366.7" stroke="#681c1c"/>
<path d="M570.00 364.3V377.8" stroke="#762121"/>
<path d="M570.00 366.7V373.5" stroke="#762121"/>
<path d="M570.50 370.6V381.9" stroke="#762121"/>
<path d="M570.50 373.5V377.2" stroke="#762121"/>
<path d="M571.00 373.6V386.4" stroke="#4a1a1a"/>
<path d="M571.00 377.2V386.0" stroke="#4a1a1a"/>
<path d="M571.50 385.5V388.9" stroke="#4a1a1a"/>
<path d="M571.50 386.0V387.0" stroke="#4a1a1a"/>
<path d="M572.00 383.6V403.2" stroke="#5c1919"/>
<path d="M572.00 386.8V403.1" stroke="#5c1919"/>
<path d="M572.50 400.4V406.4" stroke="#4a1a1a"/>
<path d="M572.50 403.1V404.1" stroke="#4a1a1a"/>
<path d="M573.00 403.3V415.4" stroke="#681c1c"/>
<path d="M573.00 403.4V413.4" stroke="#681c1c"/>
<path d="M573.50 412.5V415.7" stroke="#681c1c"/>
<path d="M573.50 413.4V415.4" stroke="#681c1c"/>
<path d="M574.00 410.7V417.5" stroke="#333f3a"/>
<path d="M574.00 412.2V415.4" stroke="#333f3a"/>
<path d="M574.50 410.1V426.3" stroke="#681c1c"/>
<path d="M574.50 412.2V421.4" stroke="#681c1c"/>
<path d="M575.00 411.7V428.7" stroke="#333f3a"/>
<path d="M575.00 417.6V421.4" stroke="#333f3a"/>
<path d="M575.50 404.9V419.5" stroke="#4d5f58"/>
<path d="M575.50 411.4V417.6" stroke="#4d5f58"/>
<path d="M576.00 409.4V412.9" stroke="#4a1a1a"/>
<path d="M576.00 411.4V412.4" stroke="#4a1a1a"/>
<path d="M576.50 409.8V425.4" stroke="#4a1a1a"/>
<path d="M576.50 411.8V421.9" stroke="#4a1a1a"/>
<path d="M577.00 417.9V437.6" stroke="#5c1919"/>
<path d="M577.00 421.9V433.0" stroke="#5c1919"/>
<path d="M577.50 431.0V438.0" stroke="#5c1919"/>
<path d="M577.50 433.0V435.2" stroke="#5c1919"/>
<path d="M578.00 433.0V447.8" stroke="#762121"/>
<path d="M578.00 435.2V442.5" stroke="#762121"/>
<path d="M578.50 441.4V458.1" stroke="#4d5f58"/>
<path d="M578.50 441.8V442.8" stroke="#4d5f58"/>
<path d="M579.00 441.5V444.8" stroke="#681c1c"/>
<path d="M579.00 441.8V444.7" stroke="#681c1c"/>
<path d="M579.50 445.8V455.3" stroke="#681c1c"/>
<path d="M579.50 445.8V453.7" stroke="#681c1c"/>
<path d="M580.00 452.1V461.6" stroke="#762121"/>
<path d="M580.00 453.7V460.4" stroke="#762121"/>
<path d="M580.50 453.6V461.0" stroke="#4d5f58"/>
<path d="M580.50 455.6V460.4" stroke="#4d5f58"/>
<path d="M581.00 455.0V459.1" stroke="#4a1a1a"/>
<path d="M581.00 455.6V458.2" stroke="#4a1a1a"/>
<path d="M581.50 457.5V463.1" stroke="#681c1c"/>
<path d="M581.50 458.2V462.1" stroke="#681c1c"/>
<path d="M582.00 461.8V469.3" stroke="#681c1c"/>
<path d="M582.00 462.1V467.0" stroke="#681c1c"/>
<path d="M582.50 460.4V477.0" stroke="#4d5f58"/>
<path d="M582.50 462.9V467.0" stroke="#4d5f58"/>
<path d="M583.00 460.9V478.9" stroke="#5c1919"/>
<path d="M583.00 462.9V467.6" stroke="#5c1919"/>
<path d="M583.50 465.1V472.2" stroke="#762121"/>
<path d="M583.50 467.6V471.2" stroke="#762121"/>
<path d="M584.00 468.7V477.3" stroke="#762121"/>
<path d="M584.00 471.2V476.4" stroke="#762121"/>
<path d="M584.50 475.9V484.0" stroke="#5c1919"/>
<path d="M584.50 476.4V482.3" stroke="#5c1919"/>
<path d="M585.00 473.4V482.0" stroke="#333f3a"/>
<path d="M585.00 474.6V482.0" stroke="#333f3a"/>
<path d="M585.50 469.7V471.2" stroke="#333f3a"/>
<path d="M585.50 469.7V471.2" stroke="#333f3a"/>
<path d="M586.00 464.2V465.8" stroke="#4d5f58"/>
<path d="M586.00 464.2V465.8" stroke="#4d5f58"/>
<path d="M587.00 445.6V449.0" stroke="#5a6a64"/>
<path d="M587.00 445.6V449.0" stroke="#5a6a64"/>
<path d="M587.50 432.5V438.4" stroke="#5a6a64"/>
<path d="M587.50 432.5V438.4" stroke="#5a6a64"/>
<path d="M588.50 404.1V410.0" stroke="#4d5f58"/>
<path d="M588.50 404.1V410.0" stroke="#4d5f58"/>
<path d="M589.00 389.3V395.7" stroke="#3c4c46"/>
<path d="M589.00 389.3V395.7" stroke="#3c4c46"/>
<path d="M589.50 374.3V380.7" stroke="#5a6a64"/>
<path d="M589.50 374.3V380.7" stroke="#5a6a64"/>
<path d="M590.00 365.8V367.5" stroke="#333f3a"/>
<path d="M590.00 365.8V367.5" stroke="#333f3a"/>
<path d="M590.50 339.2V373.9" stroke="#3c4c46"/>
<path d="M590.50 343.2V365.8" stroke="#3c4c46"/>
<path d="M591.00 338.1V344.0" stroke="#3c4c46"/>
<path d="M591.00 339.4V343.2" stroke="#3c4c46"/>
<path d="M591.50 325.3V342.4" stroke="#3c4c46"/>
<path d="M591.50 327.1V339.4" stroke="#3c4c46"/>
<path d="M592.00 325.3V336.2" stroke="#681c1c"/>
<path d="M592.00 327.1V332.3" stroke="#681c1c"/>
<path d="M592.50 322.7V334.8" stroke="#5c1919"/>
<path d="M592.50 332.3V333.3" stroke="#5c1919"/>
<path d="M593.00 306.4V341.4" stroke="#333f3a"/>
<path d="M593.00 308.9V332.6" stroke="#333f3a"/>
<path d="M593.50 308.4V316.7" stroke="#681c1c"/>
<path d="M593.50 308.9V315.7" stroke="#681c1c"/>
<path d="M594.00 302.1V332.9" stroke="#681c1c"/>
<path d="M594.00 315.7V329.2" stroke="#681c1c"/>
<path d="M594.50 327.7V335.5" stroke="#681c1c"/>
<path d="M594.50 329.2V332.1" stroke="#681c1c"/>
<path d="M595.00 316.8V335.4" stroke="#3c4c46"/>
<path d="M595.00 316.9V332.1" stroke="#3c4c46"/>
<path d="M595.50 297.8V323.5" stroke="#333f3a"/>
<path d="M595.50 300.3V316.9" stroke="#333f3a"/>
<path d="M596.00 292.7V307.3" stroke="#762121"/>
<path d="M596.00 300.3V304.2" stroke="#762121"/>
<path d="M596.50 288.4V314.0" stroke="#5a6a64"/>
<path d="M596.50 289.6V304.2" stroke="#5a6a64"/>
<path d="M597.00 283.7V306.9" stroke="#5c1919"/>
<path d="M597.00 289.6V306.1" stroke="#5c1919"/>
<path d="M597.50 300.0V313.4" stroke="#5c1919"/>
<path d="M597.50 306.1V308.5" stroke="#5c1919"/>
<path d="M598.00 306.6V317.4" stroke="#4a1a1a"/>
<path d="M598.00 308.5V312.6" stroke="#4a1a1a"/>
<path d="M598.50 310.0V318.6" stroke="#762121"/>
<path d="M598.50 312.6V315.3" stroke="#762121"/>
<path d="M599.00 313.5V338.6" stroke="#681c1c"/>
<path d="M599.00 315.3V321.0" stroke="#681c1c"/>
<path d="M599.50 316.9V326.6" stroke="#4a1a1a"/>
<path d="M599.50 321.0V323.4" stroke="#4a1a1a"/>
<path d="M600.00 321.2V328.9" stroke="#762121"/>
<path d="M600.00 323.4V325.5" stroke="#762121"/>
<path d="M600.50 291.6V330.9" stroke="#333f3a"/>
<path d="M600.50 297.3V325.5" stroke="#333f3a"/>
<path d="M601.00 290.8V300.6" stroke="#5a6a64"/>
<path d="M601.00 295.1V297.3" stroke="#5a6a64"/>
<path d="M601.50 292.5V338.3" stroke="#681c1c"/>
<path d="M601.50 295.1V297.0" stroke="#681c1c"/>
<path d="M602.00 295.2V305.1" stroke="#762121"/>
<path d="M602.00 297.0V303.2" stroke="#762121"/>
<path d="M602.50 291.9V306.6" stroke="#5a6a64"/>
<path d="M602.50 294.2V303.2" stroke="#5a6a64"/>
<path d="M603.00 293.5V307.6" stroke="#681c1c"/>
<path d="M603.00 294.2V306.1" stroke="#681c1c"/>
<path d="M603.50 300.3V317.5" stroke="#681c1c"/>
<path d="M603.50 306.1V315.9" stroke="#681c1c"/>
<path d="M604.00 295.4V319.1" stroke="#4d5f58"/>
<path d="M604.00 298.5V315.9" stroke="#4d5f58"/>
<path d="M604.50 291.1V298.8" stroke="#333f3a"/>
<path d="M604.50 295.7V298.5" stroke="#333f3a"/>
<path d="M605.00 290.6V297.0" stroke="#5a6a64"/>
<path d="M605.00 292.9V295.7" stroke="#5a6a64"/>
<path d="M605.50 292.1V302.4" stroke="#4a1a1a"/>
<path d="M605.50 292.9V300.4" stroke="#4a1a1a"/>
<path d="M606.00 289.3V302.1" stroke="#5a6a64"/>
<path d="M606.00 297.4V300.4" stroke="#5a6a64"/>
<path d="M606.50 297.4V316.9" stroke="#4a1a1a"/>
<path d="M606.50 297.4V316.2" stroke="#4a1a1a"/>
<path d="M607.00 288.2V318.8" stroke="#4d5f58"/>
<path d="M607.00 301.4V316.2" stroke="#4d5f58"/>
<path d="M607.50 296.7V310.5" stroke="#5c1919"/>
<path d="M607.50 301.4V308.9" stroke="#5c1919"/>
<path d="M608.00 287.0V337.0" stroke="#5c1919"/>
<path d="M608.00 308.9V316.6" stroke="#5c1919"/>
<path d="M608.50 288.6V324.0" stroke="#333f3a"/>
<path d="M608.50 291.9V316.6" stroke="#333f3a"/>
<path d="M609.00 287.0V303.5" stroke="#4a1a1a"/>
<path d="M609.00 291.9V297.3" stroke="#4a1a1a"/>
<path d="M609.50 296.5V301.3" stroke="#333f3a"/>
<path d="M609.50 296.7V297.7" stroke="#333f3a"/>
<path d="M610.00 287.0V298.4" stroke="#333f3a"/>
<path d="M610.00 290.4V296.7" stroke="#333f3a"/>
<path d="M610.50 287.0V297.7" stroke="#3c4c46"/>
<path d="M610.50 289.5V290.5" stroke="#3c4c46"/>
<path d="M611.00 287.0V337.0" stroke="#681c1c"/>
<path d="M611.00 289.5V304.3" stroke="#681c1c"/>
<path d="M611.50 301.3V326.1" stroke="#762121"/>
<path d="M611.50 304.3V320.1" stroke="#762121"/>
<path d="M612.00 312.2V323.2" stroke="#333f3a"/>
<path d="M612.00 317.2V320.1" stroke="#333f3a"/>
<path d="M612.50 308.7V320.2" stroke="#3c4c46"/>
<path d="M612.50 311.2V317.2" stroke="#3c4c46"/>
<path d="M613.00 304.1V312.8" stroke="#4d5f58"/>
<path d="M613.00 309.7V311.2" stroke="#4d5f58"/>
<path d="M613.50 303.7V314.7" stroke="#333f3a"/>
<path d="M613.50 307.0V309.7" stroke="#333f3a"/>
<path d="M614.00 298.6V308.7" stroke="#5a6a64"/>
<path d="M614.00 306.1V307.1" stroke="#5a6a64"/>
<path d="M614.50 291.8V308.1" stroke="#3c4c46"/>
<path d="M614.50 300.0V306.1" stroke="#3c4c46"/>
<path d="M615.00 291.2V301.5" stroke="#4d5f58"/>
<path d="M615.00 292.4V300.0" stroke="#4d5f58"/>
<path d="M615.50 277.9V297.9" stroke="#333f3a"/>
<path d="M615.50 281.4V292.4" stroke="#333f3a"/>
<path d="M616.00 280.4V309.3" stroke="#762121"/>
<path d="M616.00 281.4V289.4" stroke="#762121"/>
<path d="M616.50 251.0V302.4" stroke="#4a1a1a"/>
<path d="M616.50 289.4V299.9" stroke="#4a1a1a"/>
<path d="M617.00 275.7V301.0" stroke="#4d5f58"/>
<path d="M617.00 275.9V299.9" stroke="#4d5f58"/>
<path d="M617.50 273.6V276.3" stroke="#333f3a"/>
<path d="M617.50 274.4V275.9" stroke="#333f3a"/>
<path d="M618.00 260.9V275.1" stroke="#5a6a64"/>
<path d="M618.00 265.6V274.4" stroke="#5a6a64"/>
<path d="M618.50 261.3V266.7" stroke="#4d5f58"/>
<path d="M618.50 263.3V265.6" stroke="#4d5f58"/>
<path d="M619.00 264.0V292.7" stroke="#762121"/>
<path d="M619.00 264.0V288.8" stroke="#762121"/>
<path d="M619.50 284.0V295.1" stroke="#5c1919"/>
<path d="M619.50 288.8V292.7" stroke="#5c1919"/>
<path d="M620.00 266.0V293.7" stroke="#3c4c46"/>
<path d="M620.00 291.9V292.9" stroke="#3c4c46"/>
<path d="M620.50 289.4V292.8" stroke="#3c4c46"/>
<path d="M620.50 290.7V291.9" stroke="#3c4c46"/>
<path d="M621.00 288.2V301.1" stroke="#681c1c"/>
<path d="M621.00 290.7V298.4" stroke="#681c1c"/>
<path d="M621.50 286.2V300.2" stroke="#5a6a64"/>
<path d="M621.50 286.5V298.4" stroke="#5a6a64"/>
<path d="M622.00 282.9V294.8" stroke="#4a1a1a"/>
<path d="M622.00 286.5V290.9" stroke="#4a1a1a"/>
<path d="M622.50 284.1V292.4" stroke="#5a6a64"/>
<path d="M622.50 290.8V291.8" stroke="#5a6a64"/>
<path d="M623.00 289.8V306.1" stroke="#762121"/>
<path d="M623.00 290.8V302.3" stroke="#762121"/>
<path d="M623.50 300.7V313.8" stroke="#4a1a1a"/>
<path d="M623.50 302.3V311.7" stroke="#4a1a1a"/>
<path d="M624.00 273.0V314.8" stroke="#5a6a64"/>
<path d="M624.00 286.3V311.7" stroke="#5a6a64"/>
<path d="M624.50 285.8V294.5" stroke="#681c1c"/>
<path d="M624.50 286.3V290.4" stroke="#681c1c"/>
<path d="M625.00 289.9V293.8" stroke="#5c1919"/>
<path d="M625.00 290.4V292.4" stroke="#5c1919"/>
<path d="M625.50 289.0V309.7" stroke="#5c1919"/>
<path d="M625.50 292.4V304.9" stroke="#5c1919"/>
<path d="M626.00 285.7V309.0" stroke="#333f3a"/>
<path d="M626.00 292.1V304.9" stroke="#333f3a"/>
<path d="M626.50 291.0V293.2" stroke="#681c1c"/>
<path d="M626.50 292.1V293.1" stroke="#681c1c"/>
<path d="M627.00 286.5V307.0" stroke="#4a1a1a"/>
<path d="M627.00 292.1V305.7" stroke="#4a1a1a"/>
<path d="M627.50 300.5V319.0" stroke="#5c1919"/>
<path d="M627.50 305.7V315.6" stroke="#5c1919"/>
<path d="M628.00 311.4V340.0" stroke="#5c1919"/>
<path d="M628.00 315.6V318.3" stroke="#5c1919"/>
<path d="M628.50 316.6V336.1" stroke="#5c1919"/>
<path d="M628.50 318.3V332.8" stroke="#5c1919"/>
<path d="M629.00 331.0V336.8" stroke="#762121"/>
<path d="M629.00 332.8V336.0" stroke="#762121"/>
<path d="M629.50 324.7V342.1" stroke="#3c4c46"/>
<path d="M629.50 324.9V336.0" stroke="#3c4c46"/>
<path d="M630.00 323.5V355.0" stroke="#4a1a1a"/>
<path d="M630.00 324.9V342.3" stroke="#4a1a1a"/>
<path d="M630.50 338.8V346.4" stroke="#762121"/>
<path d="M630.50 342.3V343.3" stroke="#762121"/>
<path d="M631.00 340.7V347.4" stroke="#681c1c"/>
<path d="M631.00 343.0V346.1" stroke="#681c1c"/>
<path d="M631.50 339.7V351.3" stroke="#3c4c46"/>
<path d="M631.50 341.2V346.1" stroke="#3c4c46"/>
<path d="M632.00 339.9V350.0" stroke="#5c1919"/>
<path d="M632.00 341.2V345.0" stroke="#5c1919"/>
<path d="M632.50 328.6V345.1" stroke="#4d5f58"/>
<path d="M632.50 341.5V345.0" stroke="#4d5f58"/>
<path d="M633.00 340.3V349.1" stroke="#681c1c"/>
<path d="M633.00 341.5V347.6" stroke="#681c1c"/>
<path d="M633.50 341.1V349.9" stroke="#4d5f58"/>
<path d="M633.50 342.7V347.6" stroke="#4d5f58"/>
<path d="M634.00 339.1V357.1" stroke="#762121"/>
<path d="M634.00 342.7V355.9" stroke="#762121"/>
<path d="M634.50 340.9V359.4" stroke="#3c4c46"/>
<path d="M634.50 340.9V355.9" stroke="#3c4c46"/>
<path d="M635.00 339.6V355.7" stroke="#681c1c"/>
<path d="M635.00 340.9V354.0" stroke="#681c1c"/>
<path d="M635.50 348.0V355.7" stroke="#333f3a"/>
<path d="M635.50 352.2V354.0" stroke="#333f3a"/>
<path d="M636.00 342.1V357.7" stroke="#333f3a"/>
<path d="M636.00 342.4V352.2" stroke="#333f3a"/>
<path d="M636.50 333.5V343.1" stroke="#5a6a64"/>
<path d="M636.50 335.3V342.4" stroke="#5a6a64"/>
<path d="M637.00 335.1V347.6" stroke="#4a1a1a"/>
<path d="M637.00 335.3V347.4" stroke="#4a1a1a"/>
<path d="M637.50 340.1V351.5" stroke="#333f3a"/>
<path d="M637.50 340.2V347.4" stroke="#333f3a"/>
<path d="M638.00 338.1V360.7" stroke="#4a1a1a"/>
<path d="M638.00 340.2V358.0" stroke="#4a1a1a"/>
<path d="M638.50 350.2V364.7" stroke="#4d5f58"/>
<path d="M638.50 355.7V358.0" stroke="#4d5f58"/>
<path d="M639.00 355.1V362.7" stroke="#4a1a1a"/>
<path d="M639.00 355.7V357.8" stroke="#4a1a1a"/>
<path d="M639.50 356.9V360.3" stroke="#681c1c"/>
<path d="M639.50 357.8V359.4" stroke="#681c1c"/>
<path d="M640.00 357.4V369.2" stroke="#5c1919"/>
<path d="M640.00 359.4V368.8" stroke="#5c1919"/>
<path d="M640.50 362.2V369.6" stroke="#5a6a64"/>
<path d="M640.50 362.3V368.8" stroke="#5a6a64"/>
<path d="M641.00 361.9V372.5" stroke="#681c1c"/>
<path d="M641.00 362.3V366.5" stroke="#681c1c"/>
<path d="M641.50 365.9V377.5" stroke="#4a1a1a"/>
<path d="M641.50 366.5V371.3" stroke="#4a1a1a"/>
<path d="M642.00 364.1V375.2" stroke="#5a6a64"/>
<path d="M642.00 365.8V371.3" stroke="#5a6a64"/>
<path d="M642.50 362.3V366.0" stroke="#5a6a64"/>
<path d="M642.50 364.8V365.8" stroke="#5a6a64"/>
<path d="M643.00 360.9V373.3" stroke="#762121"/>
<path d="M643.00 364.8V368.0" stroke="#762121"/>
<path d="M643.50 358.3V370.4" stroke="#3c4c46"/>
<path d="M643.50 360.0V368.0" stroke="#3c4c46"/>
<path d="M644.00 358.8V370.9" stroke="#681c1c"/>
<path d="M644.00 360.0V369.3" stroke="#681c1c"/>
<path d="M644.50 359.2V372.6" stroke="#762121"/>
<path d="M644.50 369.3V371.4" stroke="#762121"/>
<path d="M645.00 364.6V382.0" stroke="#762121"/>
<path d="M645.00 371.4V381.4" stroke="#762121"/>
<path d="M645.50 380.7V406.7" stroke="#5c1919"/>
<path d="M645.50 381.4V387.9" stroke="#5c1919"/>
<path d="M646.00 383.5V391.4" stroke="#3c4c46"/>
<path d="M646.00 386.2V387.9" stroke="#3c4c46"/>
<path d="M646.50 380.8V387.1" stroke="#3c4c46"/>
<path d="M646.50 381.0V386.2" stroke="#3c4c46"/>
<path d="M647.00 362.5V383.0" stroke="#333f3a"/>
<path d="M647.00 369.1V381.0" stroke="#333f3a"/>
<path d="M647.50 363.2V370.7" stroke="#5a6a64"/>
<path d="M647.50 365.5V369.1" stroke="#5a6a64"/>
<path d="M648.00 364.7V377.2" stroke="#4a1a1a"/>
<path d="M648.00 365.5V377.0" stroke="#4a1a1a"/>
<path d="M648.50 371.6V378.2" stroke="#5a6a64"/>
<path d="M648.50 372.9V377.0" stroke="#5a6a64"/>
<path d="M649.00 370.5V383.9" stroke="#5c1919"/>
<path d="M649.00 372.9V382.4" stroke="#5c1919"/>
<path d="M649.50 379.8V383.6" stroke="#3c4c46"/>
<path d="M649.50 380.2V382.4" stroke="#3c4c46"/>
<path d="M650.00 374.0V380.0" stroke="#5a6a64"/>
<path d="M650.00 375.7V380.0" stroke="#5a6a64"/>
<path d="M650.50 355.4V377.7" stroke="#5a6a64"/>
<path d="M650.50 366.1V375.7" stroke="#5a6a64"/>
<path d="M651.00 365.2V374.0" stroke="#681c1c"/>
<path d="M651.00 366.1V372.0" stroke="#681c1c"/>
<path d="M651.50 366.3V372.7" stroke="#333f3a"/>
<path d="M651.50 367.6V372.0" stroke="#333f3a"/>
<path d="M652.00 341.8V370.9" stroke="#5a6a64"/>
<path d="M652.00 364.3V367.6" stroke="#5a6a64"/>
<path d="M652.50 354.2V368.6" stroke="#4d5f58"/>
<path d="M652.50 357.1V364.3" stroke="#4d5f58"/>
<path d="M653.00 348.2V358.0" stroke="#3c4c46"/>
<path d="M653.00 349.5V357.1" stroke="#3c4c46"/>
<path d="M653.50 329.0V355.8" stroke="#5a6a64"/>
<path d="M653.50 348.1V349.5" stroke="#5a6a64"/>
<path d="M654.00 347.8V356.6" stroke="#4a1a1a"/>
<path d="M654.00 348.1V356.0" stroke="#4a1a1a"/>
<path d="M654.50 345.2V361.2" stroke="#3c4c46"/>
<path d="M654.50 345.5V356.0" stroke="#3c4c46"/>
<path d="M655.00 338.4V347.8" stroke="#4d5f58"/>
<path d="M655.00 342.6V345.5" stroke="#4d5f58"/>
<path d="M655.50 339.3V347.1" stroke="#5c1919"/>
<path d="M655.50 342.6V346.6" stroke="#5c1919"/>
<path d="M656.00 343.9V349.6" stroke="#4a1a1a"/>
<path d="M656.00 346.6V347.6" stroke="#4a1a1a"/>
<path d="M656.50 344.6V356.5" stroke="#681c1c"/>
<path d="M656.50 347.5V355.3" stroke="#681c1c"/>
<path d="M657.00 349.2V358.1" stroke="#3c4c46"/>
<path d="M657.00 350.0V355.3" stroke="#3c4c46"/>
<path d="M657.50 344.0V370.5" stroke="#4a1a1a"/>
<path d="M657.50 350.0V366.9" stroke="#4a1a1a"/>
<path d="M658.00 362.7V370.6" stroke="#4d5f58"/>
<path d="M658.00 364.3V366.9" stroke="#4d5f58"/>
<path d="M658.50 341.4V368.9" stroke="#5c1919"/>
<path d="M658.50 364.3V368.0" stroke="#5c1919"/>
<path d="M659.00 367.1V373.7" stroke="#681c1c"/>
<path d="M659.00 368.0V370.0" stroke="#681c1c"/>
<path d="M659.50 366.9V383.6" stroke="#4a1a1a"/>
<path d="M659.50 370.0V373.1" stroke="#4a1a1a"/>
<path d="M660.00 371.6V382.0" stroke="#762121"/>
<path d="M660.00 373.1V378.0" stroke="#762121"/>
<path d="M660.50 341.4V382.2" stroke="#4a1a1a"/>
<path d="M660.50 378.0V381.5" stroke="#4a1a1a"/>
<path d="M661.00 359.2V383.6" stroke="#4d5f58"/>
<path d="M661.00 359.4V381.5" stroke="#4d5f58"/>
<path d="M661.50 358.5V367.2" stroke="#4a1a1a"/>
<path d="M661.50 359.4V366.2" stroke="#4a1a1a"/>
<path d="M662.00 360.1V369.1" stroke="#762121"/>
<path d="M662.00 366.2V367.2" stroke="#762121"/>
<path d="M662.50 344.3V369.9" stroke="#5a6a64"/>
<path d="M662.50 348.9V367.2" stroke="#5a6a64"/>
<path d="M663.00 343.8V358.1" stroke="#5c1919"/>
<path d="M663.00 348.9V355.1" stroke="#5c1919"/>
<path d="M663.50 343.6V358.2" stroke="#4d5f58"/>
<path d="M663.50 345.5V355.1" stroke="#4d5f58"/>
<path d="M664.00 345.2V360.7" stroke="#681c1c"/>
<path d="M664.00 345.5V358.7" stroke="#681c1c"/>
<path d="M664.50 340.0V363.5" stroke="#4d5f58"/>
<path d="M664.50 343.5V358.7" stroke="#4d5f58"/>
<path d="M665.00 339.7V347.3" stroke="#5a6a64"/>
<path d="M665.00 342.2V343.5" stroke="#5a6a64"/>
<path d="M665.50 339.3V343.5" stroke="#5a6a64"/>
<path d="M665.50 340.7V342.2" stroke="#5a6a64"/>
<path d="M666.00 339.0V344.3" stroke="#762121"/>
<path d="M666.00 340.7V342.4" stroke="#762121"/>
<path d="M666.50 338.6V365.7" stroke="#4d5f58"/>
<path d="M666.50 340.0V342.4" stroke="#4d5f58"/>
<path d="M667.00 339.2V349.4" stroke="#762121"/>
<path d="M667.00 340.0V348.0" stroke="#762121"/>
<path d="M667.50 347.4V352.8" stroke="#681c1c"/>
<path d="M667.50 348.0V351.4" stroke="#681c1c"/>
<path d="M668.00 345.5V351.9" stroke="#5a6a64"/>
<path d="M668.00 347.8V351.4" stroke="#5a6a64"/>
<path d="M668.50 340.1V348.4" stroke="#5a6a64"/>
<path d="M668.50 341.5V347.8" stroke="#5a6a64"/>
<path d="M669.00 341.2V345.1" stroke="#681c1c"/>
<path d="M669.00 341.5V343.0" stroke="#681c1c"/>
<path d="M669.50 338.6V350.4" stroke="#333f3a"/>
<path d="M669.50 338.8V343.0" stroke="#333f3a"/>
<path d="M670.00 337.6V347.0" stroke="#681c1c"/>
<path d="M670.00 338.8V344.1" stroke="#681c1c"/>
<path d="M670.50 337.6V353.3" stroke="#681c1c"/>
<path d="M670.50 344.1V349.4" stroke="#681c1c"/>
<path d="M671.00 345.0V356.0" stroke="#762121"/>
<path d="M671.00 349.4V351.8" stroke="#762121"/>
<path d="M671.50 350.6V352.1" stroke="#5a6a64"/>
<path d="M671.50 350.6V351.8" stroke="#5a6a64"/>
<path d="M672.00 347.8V362.5" stroke="#681c1c"/>
<path d="M672.00 350.6V358.5" stroke="#681c1c"/>
<path d="M672.50 337.6V361.4" stroke="#5a6a64"/>
<path d="M672.50 349.0V358.5" stroke="#5a6a64"/>
<path d="M673.00 341.0V349.6" stroke="#4d5f58"/>
<path d="M673.00 346.7V349.0" stroke="#4d5f58"/>
<path d="M673.50 343.2V347.7" stroke="#3c4c46"/>
<path d="M673.50 343.6V346.7" stroke="#3c4c46"/>
<path d="M674.00 341.3V347.2" stroke="#4d5f58"/>
<path d="M674.00 342.1V343.6" stroke="#4d5f58"/>
<path d="M674.50 336.0V351.3" stroke="#333f3a"/>
<path d="M674.50 340.9V342.1" stroke="#333f3a"/>
<path d="M675.00 321.0V345.7" stroke="#5a6a64"/>
<path d="M675.00 332.7V340.9" stroke="#5a6a64"/>
<path d="M675.50 332.2V335.5" stroke="#5c1919"/>
<path d="M675.50 332.7V334.2" stroke="#5c1919"/>
<path d="M676.00 325.0V335.5" stroke="#3c4c46"/>
<path d="M676.00 325.7V334.2" stroke="#3c4c46"/>
<path d="M676.50 322.5V329.2" stroke="#333f3a"/>
<path d="M676.50 323.7V325.7" stroke="#333f3a"/>
<path d="M677.00 323.0V330.6" stroke="#681c1c"/>
<path d="M677.00 323.7V329.3" stroke="#681c1c"/>
<path d="M677.50 323.5V334.1" stroke="#4d5f58"/>
<path d="M677.50 327.8V329.3" stroke="#4d5f58"/>
<path d="M678.00 326.5V347.0" stroke="#4a1a1a"/>
<path d="M678.00 327.8V333.5" stroke="#4a1a1a"/>
<path d="M678.50 326.5V334.8" stroke="#4d5f58"/>
<path d="M678.50 326.7V333.5" stroke="#4d5f58"/>
<path d="M679.00 325.3V333.8" stroke="#681c1c"/>
<path d="M679.00 326.7V331.7" stroke="#681c1c"/>
<path d="M679.50 330.5V336.0" stroke="#681c1c"/>
<path d="M679.50 331.7V335.9" stroke="#681c1c"/>
<path d="M680.00 330.0V337.6" stroke="#333f3a"/>
<path d="M680.00 332.4V335.9" stroke="#333f3a"/>
<path d="M680.50 323.5V336.8" stroke="#3c4c46"/>
<path d="M680.50 325.7V332.4" stroke="#3c4c46"/>
<path d="M681.00 317.9V325.9" stroke="#333f3a"/>
<path d="M681.00 319.7V325.7" stroke="#333f3a"/>
<path d="M681.50 318.7V326.8" stroke="#762121"/>
<path d="M681.50 319.7V323.5" stroke="#762121"/>
<path d="M682.00 320.7V325.2" stroke="#3c4c46"/>
<path d="M682.00 322.1V323.5" stroke="#3c4c46"/>
<path d="M682.50 310.6V321.5" stroke="#3c4c46"/>
<path d="M682.50 311.4V321.5" stroke="#3c4c46"/>
<path d="M683.00 282.0V314.6" stroke="#4d5f58"/>
<path d="M683.00 297.7V311.4" stroke="#4d5f58"/>
<path d="M683.50 297.7V318.3" stroke="#5c1919"/>
<path d="M683.50 297.7V298.7" stroke="#5c1919"/>
<path d="M684.00 292.7V302.8" stroke="#333f3a"/>
<path d="M684.00 294.8V298.5" stroke="#333f3a"/>
<path d="M684.50 293.2V305.7" stroke="#762121"/>
<path d="M684.50 294.8V305.7" stroke="#762121"/>
<path d="M685.00 301.2V306.7" stroke="#5a6a64"/>
<path d="M685.00 305.6V306.6" stroke="#5a6a64"/>
<path d="M685.50 304.1V305.8" stroke="#5a6a64"/>
<path d="M685.50 304.2V305.6" stroke="#5a6a64"/>
<path d="M686.00 301.1V304.2" stroke="#5a6a64"/>
<path d="M686.00 303.7V304.7" stroke="#5a6a64"/>
<path d="M686.50 303.4V306.3" stroke="#4a1a1a"/>
<path d="M686.50 303.7V304.7" stroke="#4a1a1a"/>
<path d="M687.00 303.0V308.0" stroke="#762121"/>
<path d="M687.00 303.9V307.6" stroke="#762121"/>
<path d="M687.50 306.7V312.4" stroke="#5c1919"/>
<path d="M687.50 307.6V312.3" stroke="#5c1919"/>
<path d="M688.00 311.4V319.2" stroke="#762121"/>
<path d="M688.00 312.3V318.7" stroke="#762121"/>
<path d="M688.50 318.0V339.8" stroke="#762121"/>
<path d="M688.50 318.7V336.1" stroke="#762121"/>
<path d="M689.00 335.2V342.4" stroke="#5c1919"/>
<path d="M689.00 336.1V337.1" stroke="#5c1919"/>
<path d="M689.50 327.6V340.7" stroke="#333f3a"/>
<path d="M689.50 330.0V336.1" stroke="#333f3a"/>
<path d="M690.00 328.8V357.6" stroke="#5c1919"/>
<path d="M690.00 330.0V336.5" stroke="#5c1919"/>
<path d="M690.50 335.8V345.1" stroke="#5c1919"/>
<path d="M690.50 336.5V339.4" stroke="#5c1919"/>
<path d="M691.00 336.3V345.2" stroke="#4a1a1a"/>
<path d="M691.00 339.4V341.4" stroke="#4a1a1a"/>
<path d="M691.50 334.2V353.3" stroke="#762121"/>
<path d="M691.50 341.4V348.5" stroke="#762121"/>
<path d="M692.00 346.8V359.0" stroke="#681c1c"/>
<path d="M692.00 348.5V354.0" stroke="#681c1c"/>
<path d="M692.50 347.2V376.0" stroke="#333f3a"/>
<path d="M692.50 350.0V354.0" stroke="#333f3a"/>
<path d="M693.00 347.5V356.2" stroke="#4d5f58"/>
<path d="M693.00 349.2V350.2" stroke="#4d5f58"/>
<path d="M693.50 346.8V350.5" stroke="#333f3a"/>
<path d="M693.50 347.0V349.2" stroke="#333f3a"/>
<path d="M694.00 343.3V348.3" stroke="#5c1919"/>
<path d="M694.00 347.0V348.0" stroke="#5c1919"/>
<path d="M694.50 345.1V362.2" stroke="#5c1919"/>
<path d="M694.50 347.9V349.9" stroke="#5c1919"/>
<path d="M695.00 331.0V352.6" stroke="#5a6a64"/>
<path d="M695.00 338.8V349.9" stroke="#5a6a64"/>
<path d="M695.50 333.7V343.1" stroke="#4a1a1a"/>
<path d="M695.50 338.8V340.0" stroke="#4a1a1a"/>
<path d="M696.00 330.0V340.6" stroke="#333f3a"/>
<path d="M696.00 330.5V340.0" stroke="#333f3a"/>
<path d="M696.50 330.1V331.6" stroke="#762121"/>
<path d="M696.50 330.5V331.5" stroke="#762121"/>
<path d="M697.00 328.0V334.1" stroke="#4d5f58"/>
<path d="M697.00 328.2V330.9" stroke="#4d5f58"/>
<path d="M697.50 314.5V329.7" stroke="#4d5f58"/>
<path d="M697.50 318.3V328.2" stroke="#4d5f58"/>
<path d="M698.00 316.1V319.3" stroke="#333f3a"/>
<path d="M698.00 317.4V318.4" stroke="#333f3a"/>
<path d="M698.50 311.9V329.6" stroke="#4a1a1a"/>
<path d="M698.50 317.4V327.1" stroke="#4a1a1a"/>
<path d="M699.00 306.5V327.3" stroke="#3c4c46"/>
<path d="M699.00 327.1V328.1" stroke="#3c4c46"/>
<path d="M699.50 322.6V330.1" stroke="#4d5f58"/>
<path d="M699.50 325.4V327.1" stroke="#4d5f58"/>
<path d="M700.00 303.0V327.7" stroke="#3c4c46"/>
<path d="M700.00 313.1V325.4" stroke="#3c4c46"/>
<path d="M700.50 305.4V315.2" stroke="#4d5f58"/>
<path d="M700.50 306.0V313.1" stroke="#4d5f58"/>
<path d="M701.00 294.4V307.5" stroke="#3c4c46"/>
<path d="M701.00 297.8V306.0" stroke="#3c4c46"/>
<path d="M701.50 282.6V299.0" stroke="#5a6a64"/>
<path d="M701.50 283.3V297.8" stroke="#5a6a64"/>
<path d="M702.00 280.6V285.2" stroke="#4d5f58"/>
<path d="M702.00 281.6V283.3" stroke="#4d5f58"/>
<path d="M702.50 276.1V283.3" stroke="#4d5f58"/>
<path d="M702.50 276.5V281.6" stroke="#4d5f58"/>
<path d="M703.00 274.2V295.0" stroke="#5c1919"/>
<path d="M703.00 276.5V281.6" stroke="#5c1919"/>
<path d="M703.50 278.6V284.7" stroke="#333f3a"/>
<path d="M703.50 280.3V281.6" stroke="#333f3a"/>
<path d="M704.00 271.3V283.9" stroke="#4d5f58"/>
<path d="M704.00 272.7V280.3" stroke="#4d5f58"/>
<path d="M704.50 264.6V273.0" stroke="#4d5f58"/>
<path d="M704.50 266.5V272.7" stroke="#4d5f58"/>
<path d="M705.00 250.0V267.4" stroke="#3c4c46"/>
<path d="M705.00 251.8V266.5" stroke="#3c4c46"/>
<path d="M705.50 246.7V255.5" stroke="#333f3a"/>
<path d="M705.50 248.0V251.8" stroke="#333f3a"/>
<path d="M706.00 246.2V258.9" stroke="#681c1c"/>
<path d="M706.00 248.0V256.3" stroke="#681c1c"/>
<path d="M706.50 239.0V257.2" stroke="#333f3a"/>
<path d="M706.50 248.2V256.3" stroke="#333f3a"/>
<path d="M707.00 244.4V255.6" stroke="#5a6a64"/>
<path d="M707.00 246.0V248.2" stroke="#5a6a64"/>
<path d="M707.50 232.2V265.5" stroke="#5a6a64"/>
<path d="M707.50 233.8V246.0" stroke="#5a6a64"/>
<path d="M708.00 232.6V234.1" stroke="#4d5f58"/>
<path d="M708.00 233.2V234.2" stroke="#4d5f58"/>
<path d="M708.50 228.7V235.4" stroke="#5c1919"/>
<path d="M708.50 233.2V234.5" stroke="#5c1919"/>
<path d="M709.00 226.0V251.8" stroke="#333f3a"/>
<path d="M709.00 228.9V234.5" stroke="#333f3a"/>
<path d="M709.50 228.1V234.4" stroke="#5a6a64"/>
<path d="M709.50 228.5V229.5" stroke="#5a6a64"/>
<path d="M710.00 225.4V228.6" stroke="#3c4c46"/>
<path d="M710.00 226.9V228.5" stroke="#3c4c46"/>
<path d="M710.50 219.5V230.6" stroke="#333f3a"/>
<path d="M710.50 221.4V226.9" stroke="#333f3a"/>
<path d="M711.00 205.1V224.1" stroke="#333f3a"/>
<path d="M711.00 208.9V221.4" stroke="#333f3a"/>
<path d="M711.50 189.5V209.2" stroke="#4d5f58"/>
<path d="M711.50 196.6V208.9" stroke="#4d5f58"/>
<path d="M712.00 196.4V209.0" stroke="#762121"/>
<path d="M712.00 196.6V206.6" stroke="#762121"/>
<path d="M712.50 187.8V206.6" stroke="#5a6a64"/>
<path d="M712.50 190.6V206.6" stroke="#5a6a64"/>
<path d="M713.00 182.1V226.4" stroke="#4d5f58"/>
<path d="M713.00 182.9V190.6" stroke="#4d5f58"/>
<path d="M713.50 172.5V194.6" stroke="#681c1c"/>
<path d="M713.50 182.9V190.8" stroke="#681c1c"/>
<path d="M714.00 189.3V210.9" stroke="#5c1919"/>
<path d="M714.00 190.8V203.8" stroke="#5c1919"/>
<path d="M714.50 202.4V215.6" stroke="#4a1a1a"/>
<path d="M714.50 203.8V213.2" stroke="#4a1a1a"/>
<path d="M715.00 211.0V225.5" stroke="#681c1c"/>
<path d="M715.00 213.2V221.0" stroke="#681c1c"/>
<path d="M715.50 222.5V238.6" stroke="#762121"/>
<path d="M715.50 222.5V230.2" stroke="#762121"/>
<path d="M716.00 234.0V252.9" stroke="#762121"/>
<path d="M716.00 234.0V251.1" stroke="#762121"/>
<path d="M716.50 245.9V262.3" stroke="#5c1919"/>
<path d="M716.50 251.1V258.0" stroke="#5c1919"/>
<path d="M717.00 246.9V261.7" stroke="#333f3a"/>
<path d="M717.00 248.0V258.0" stroke="#333f3a"/>
<path d="M717.50 234.0V250.2" stroke="#333f3a"/>
<path d="M717.50 247.1V248.1" stroke="#333f3a"/>
<path d="M718.00 242.7V251.2" stroke="#681c1c"/>
<path d="M718.00 247.1V249.7" stroke="#681c1c"/>
<path d="M718.50 234.0V252.0" stroke="#4d5f58"/>
<path d="M718.50 246.9V249.7" stroke="#4d5f58"/>
<path d="M719.00 244.5V252.5" stroke="#5a6a64"/>
<path d="M719.00 244.6V246.9" stroke="#5a6a64"/>
<path d="M719.50 243.6V258.9" stroke="#5c1919"/>
<path d="M719.50 244.6V257.5" stroke="#5c1919"/>
<path d="M720.00 249.3V261.3" stroke="#333f3a"/>
<path d="M720.00 250.9V257.5" stroke="#333f3a"/>
<path d="M720.50 247.6V258.9" stroke="#4a1a1a"/>
<path d="M720.50 250.9V254.6" stroke="#4a1a1a"/>
<path d="M721.00 250.8V255.6" stroke="#333f3a"/>
<path d="M721.00 250.8V254.6" stroke="#333f3a"/>
<path d="M721.50 245.0V251.0" stroke="#4d5f58"/>
<path d="M721.50 248.6V250.8" stroke="#4d5f58"/>
<path d="M722.00 243.4V252.2" stroke="#681c1c"/>
<path d="M722.00 248.6V251.4" stroke="#681c1c"/>
<path d="M722.50 244.4V253.4" stroke="#3c4c46"/>
<path d="M722.50 248.0V251.4" stroke="#3c4c46"/>
<path d="M723.00 239.0V266.7" stroke="#4d5f58"/>
<path d="M723.00 243.1V248.0" stroke="#4d5f58"/>
<path d="M723.50 237.1V266.7" stroke="#333f3a"/>
<path d="M723.50 242.3V243.3" stroke="#333f3a"/>
<path d="M724.00 238.6V251.6" stroke="#681c1c"/>
<path d="M724.00 242.3V249.6" stroke="#681c1c"/>
<path d="M724.50 238.0V253.3" stroke="#5a6a64"/>
<path d="M724.50 243.9V249.6" stroke="#5a6a64"/>
<path d="M725.00 243.3V253.4" stroke="#762121"/>
<path d="M725.00 243.9V252.7" stroke="#762121"/>
<path d="M725.50 251.3V257.5" stroke="#762121"/>
<path d="M725.50 252.7V253.7" stroke="#762121"/>
<path d="M726.00 248.2V273.2" stroke="#5c1919"/>
<path d="M726.00 253.4V268.5" stroke="#5c1919"/>
<path d="M726.50 258.1V269.4" stroke="#333f3a"/>
<path d="M726.50 261.8V268.5" stroke="#333f3a"/>
<path d="M727.00 255.7V285.0" stroke="#5c1919"/>
<path d="M727.00 261.8V265.0" stroke="#5c1919"/>
<path d="M727.50 264.3V272.1" stroke="#681c1c"/>
<path d="M727.50 265.0V271.4" stroke="#681c1c"/>
<path d="M728.00 270.5V281.6" stroke="#4a1a1a"/>
<path d="M728.00 271.4V277.7" stroke="#4a1a1a"/>
<path d="M728.50 274.6V284.9" stroke="#762121"/>
<path d="M728.50 277.7V282.7" stroke="#762121"/>
<path d="M729.00 279.2V289.0" stroke="#5c1919"/>
<path d="M729.00 282.7V286.2" stroke="#5c1919"/>
<path d="M729.50 271.6V286.4" stroke="#333f3a"/>
<path d="M729.50 272.4V286.2" stroke="#333f3a"/>
<path d="M730.00 259.5V275.1" stroke="#5a6a64"/>
<path d="M730.00 262.8V272.4" stroke="#5a6a64"/>
<path d="M730.50 260.2V278.1" stroke="#681c1c"/>
<path d="M730.50 262.8V276.0" stroke="#681c1c"/>
<path d="M731.00 272.4V290.1" stroke="#681c1c"/>
<path d="M731.00 276.0V285.9" stroke="#681c1c"/>
<path d="M731.50 284.6V287.7" stroke="#4a1a1a"/>
<path d="M731.50 285.9V287.0" stroke="#4a1a1a"/>
<path d="M732.00 262.1V288.6" stroke="#5a6a64"/>
<path d="M732.00 285.3V287.0" stroke="#5a6a64"/>
<path d="M732.50 279.6V287.7" stroke="#3c4c46"/>
<path d="M732.50 283.0V285.3" stroke="#3c4c46"/>
<path d="M733.00 277.6V292.0" stroke="#681c1c"/>
<path d="M733.00 283.0V286.5" stroke="#681c1c"/>
<path d="M733.50 280.7V294.0" stroke="#4d5f58"/>
<path d="M733.50 281.6V286.5" stroke="#4d5f58"/>
<path d="M734.00 279.0V285.4" stroke="#5c1919"/>
<path d="M734.00 281.6V284.0" stroke="#5c1919"/>
<path d="M734.50 264.9V294.5" stroke="#3c4c46"/>
<path d="M734.50 279.3V284.0" stroke="#3c4c46"/>
<path d="M735.00 277.0V287.7" stroke="#4a1a1a"/>
<path d="M735.00 279.3V285.9" stroke="#4a1a1a"/>
<path d="M735.50 282.6V313.3" stroke="#4a1a1a"/>
<path d="M735.50 285.9V288.8" stroke="#4a1a1a"/>
<path d="M736.00 282.9V299.8" stroke="#5c1919"/>
<path d="M736.00 288.8V294.0" stroke="#5c1919"/>
<path d="M736.50 291.9V330.0" stroke="#3c4c46"/>
<path d="M736.50 292.0V294.0" stroke="#3c4c46"/>
<path d="M737.00 287.6V294.6" stroke="#4d5f58"/>
<path d="M737.00 288.5V292.0" stroke="#4d5f58"/>
<path d="M737.50 286.1V326.1" stroke="#5c1919"/>
<path d="M737.50 288.5V301.3" stroke="#5c1919"/>
<path d="M738.00 298.2V315.0" stroke="#4a1a1a"/>
<path d="M738.00 301.3V313.4" stroke="#4a1a1a"/>
<path d="M738.50 305.4V314.5" stroke="#3c4c46"/>
<path d="M738.50 307.8V313.4" stroke="#3c4c46"/>
<path d="M739.00 299.0V315.4" stroke="#5a6a64"/>
<path d="M739.00 301.9V307.8" stroke="#5a6a64"/>
<path d="M739.50 297.4V309.7" stroke="#4a1a1a"/>
<path d="M739.50 301.9V305.2" stroke="#4a1a1a"/>
<path d="M740.00 303.0V306.4" stroke="#5a6a64"/>
<path d="M740.00 304.4V305.4" stroke="#5a6a64"/>
<path d="M740.50 288.9V307.5" stroke="#333f3a"/>
<path d="M740.50 292.5V304.4" stroke="#333f3a"/>
<path d="M741.00 291.6V317.6" stroke="#681c1c"/>
<path d="M741.00 292.5V302.2" stroke="#681c1c"/>
<path d="M741.50 294.9V303.1" stroke="#4d5f58"/>
<path d="M741.50 296.7V302.2" stroke="#4d5f58"/>
<path d="M742.00 296.6V304.5" stroke="#762121"/>
<path d="M742.00 296.7V304.2" stroke="#762121"/>
<path d="M742.50 286.0V305.4" stroke="#333f3a"/>
<path d="M742.50 287.6V304.2" stroke="#333f3a"/>
<path d="M743.00 285.8V292.3" stroke="#5c1919"/>
<path d="M743.00 287.6V291.8" stroke="#5c1919"/>
<path d="M743.50 285.6V316.6" stroke="#5c1919"/>
<path d="M743.50 291.8V294.1" stroke="#5c1919"/>
<path d="M744.00 292.1V301.1" stroke="#4a1a1a"/>
<path d="M744.00 294.1V295.1" stroke="#4a1a1a"/>
<path d="M744.50 293.9V302.4" stroke="#4a1a1a"/>
<path d="M744.50 294.4V301.2" stroke="#4a1a1a"/>
<path d="M745.00 294.4V301.8" stroke="#5a6a64"/>
<path d="M745.00 295.6V301.2" stroke="#5a6a64"/>
<path d="M745.50 291.4V308.8" stroke="#762121"/>
<path d="M745.50 295.6V299.7" stroke="#762121"/>
<path d="M746.00 295.0V306.4" stroke="#681c1c"/>
<path d="M746.00 299.7V303.2" stroke="#681c1c"/>
<path d="M746.50 290.5V303.9" stroke="#4d5f58"/>
<path d="M746.50 294.5V303.2" stroke="#4d5f58"/>
<path d="M747.00 281.7V308.1" stroke="#681c1c"/>
<path d="M747.00 294.5V306.1" stroke="#681c1c"/>
<path d="M747.50 288.7V306.3" stroke="#5a6a64"/>
<path d="M747.50 293.4V306.1" stroke="#5a6a64"/>
<path d="M748.00 291.9V301.1" stroke="#681c1c"/>
<path d="M748.00 293.4V298.0" stroke="#681c1c"/>
<path d="M748.50 282.8V300.0" stroke="#4d5f58"/>
<path d="M748.50 283.5V298.0" stroke="#4d5f58"/>
<path d="M749.00 282.1V297.1" stroke="#762121"/>
<path d="M749.00 283.5V287.9" stroke="#762121"/>
<path d="M749.50 275.2V289.0" stroke="#3c4c46"/>
<path d="M749.50 277.1V287.9" stroke="#3c4c46"/>
<path d="M750.00 259.5V287.8" stroke="#4a1a1a"/>
<path d="M750.00 277.1V286.4" stroke="#4a1a1a"/>
<path d="M750.50 276.4V285.1" stroke="#5a6a64"/>
<path d="M750.50 276.6V285.1" stroke="#5a6a64"/>
<path d="M751.00 273.2V282.1" stroke="#681c1c"/>
<path d="M751.00 276.6V280.8" stroke="#681c1c"/>
<path d="M751.50 258.2V279.6" stroke="#5a6a64"/>
<path d="M751.50 258.5V279.6" stroke="#5a6a64"/>
<path d="M752.00 258.4V261.9" stroke="#4a1a1a"/>
<path d="M752.00 258.5V260.2" stroke="#4a1a1a"/>
<path d="M752.50 253.3V260.3" stroke="#5a6a64"/>
<path d="M752.50 255.9V260.2" stroke="#5a6a64"/>
<path d="M753.00 240.4V257.3" stroke="#681c1c"/>
<path d="M753.00 255.9V256.9" stroke="#681c1c"/>
<path d="M753.50 255.7V262.8" stroke="#762121"/>
<path d="M753.50 256.0V261.1" stroke="#762121"/>
<path d="M754.00 251.8V263.7" stroke="#4d5f58"/>
<path d="M754.00 253.2V261.1" stroke="#4d5f58"/>
<path d="M754.50 250.1V253.5" stroke="#5a6a64"/>
<path d="M754.50 253.1V254.1" stroke="#5a6a64"/>
<path d="M755.00 247.0V255.2" stroke="#681c1c"/>
<path d="M755.00 253.1V254.1" stroke="#681c1c"/>
<path d="M755.50 253.6V268.3" stroke="#681c1c"/>
<path d="M755.50 254.0V264.2" stroke="#681c1c"/>
<path d="M756.00 262.1V271.0" stroke="#681c1c"/>
<path d="M756.00 264.2V269.6" stroke="#681c1c"/>
<path d="M756.50 265.4V271.2" stroke="#4d5f58"/>
<path d="M756.50 265.8V269.6" stroke="#4d5f58"/>
<path d="M757.00 252.0V271.5" stroke="#3c4c46"/>
<path d="M757.00 252.9V265.8" stroke="#3c4c46"/>
<path d="M757.50 244.9V271.8" stroke="#5c1919"/>
<path d="M757.50 252.9V255.4" stroke="#5c1919"/>
<path d="M758.00 254.5V262.6" stroke="#681c1c"/>
<path d="M758.00 255.4V257.9" stroke="#681c1c"/>
<path d="M758.50 257.6V264.0" stroke="#5c1919"/>
<path d="M758.50 257.9V259.5" stroke="#5c1919"/>
<path d="M759.00 258.0V272.5" stroke="#5a6a64"/>
<path d="M759.00 259.0V260.0" stroke="#5a6a64"/>
<path d="M759.50 256.4V261.6" stroke="#3c4c46"/>
<path d="M759.50 257.8V259.0" stroke="#3c4c46"/>
<path d="M760.00 248.0V263.6" stroke="#762121"/>
<path d="M760.00 257.8V259.5" stroke="#762121"/>
<path d="M760.50 257.2V271.3" stroke="#4a1a1a"/>
<path d="M760.50 259.5V270.0" stroke="#4a1a1a"/>
<path d="M761.00 264.5V276.5" stroke="#3c4c46"/>
<path d="M761.00 266.0V270.0" stroke="#3c4c46"/>
<path d="M761.50 261.6V268.1" stroke="#4d5f58"/>
<path d="M761.50 263.6V266.0" stroke="#4d5f58"/>
<path d="M762.00 256.6V265.4" stroke="#333f3a"/>
<path d="M762.00 259.1V263.6" stroke="#333f3a"/>
<path d="M762.50 257.7V260.5" stroke="#4d5f58"/>
<path d="M762.50 258.8V259.8" stroke="#4d5f58"/>
<path d="M763.00 260.0V269.2" stroke="#5c1919"/>
<path d="M763.00 260.0V267.8" stroke="#5c1919"/>
<path d="M763.50 262.5V271.5" stroke="#681c1c"/>
<path d="M763.50 267.8V269.7" stroke="#681c1c"/>
<path d="M764.00 266.7V272.8" stroke="#762121"/>
<path d="M764.00 269.7V271.2" stroke="#762121"/>
<path d="M764.50 267.5V287.9" stroke="#762121"/>
<path d="M764.50 271.2V285.2" stroke="#762121"/>
<path d="M765.00 284.5V286.9" stroke="#681c1c"/>
<path d="M765.00 285.2V286.8" stroke="#681c1c"/>
<path d="M765.50 283.3V292.8" stroke="#681c1c"/>
<path d="M765.50 286.8V291.7" stroke="#681c1c"/>
<path d="M766.00 290.0V294.0" stroke="#5c1919"/>
<path d="M766.00 291.7V292.7" stroke="#5c1919"/>
<path d="M766.50 277.1V296.1" stroke="#5a6a64"/>
<path d="M766.50 285.0V292.6" stroke="#5a6a64"/>
<path d="M767.00 284.4V287.5" stroke="#681c1c"/>
<path d="M767.00 285.0V286.0" stroke="#681c1c"/>
<path d="M767.50 282.9V289.5" stroke="#333f3a"/>
<path d="M767.50 283.8V286.0" stroke="#333f3a"/>
<path d="M768.00 283.5V294.0" stroke="#5c1919"/>
<path d="M768.00 283.8V294.0" stroke="#5c1919"/>
<path d="M768.50 289.0V311.2" stroke="#3c4c46"/>
<path d="M768.50 290.2V294.0" stroke="#3c4c46"/>
<path d="M769.00 289.9V292.6" stroke="#681c1c"/>
<path d="M769.00 290.2V291.2" stroke="#681c1c"/>
<path d="M769.50 289.9V298.9" stroke="#4a1a1a"/>
<path d="M769.50 290.2V297.0" stroke="#4a1a1a"/>
<path d="M770.00 295.6V309.4" stroke="#762121"/>
<path d="M770.00 297.0V304.9" stroke="#762121"/>
<path d="M770.50 303.1V321.0" stroke="#681c1c"/>
<path d="M770.50 304.9V315.8" stroke="#681c1c"/>
<path d="M771.00 294.7V317.5" stroke="#5a6a64"/>
<path d="M771.00 299.3V315.8" stroke="#5a6a64"/>
<path d="M771.50 294.6V318.6" stroke="#4a1a1a"/>
<path d="M771.50 299.3V306.0" stroke="#4a1a1a"/>
<path d="M772.00 304.1V315.1" stroke="#4a1a1a"/>
<path d="M772.00 306.0V311.0" stroke="#4a1a1a"/>
<path d="M772.50 304.1V315.5" stroke="#3c4c46"/>
<path d="M772.50 304.4V311.0" stroke="#3c4c46"/>
<path d="M773.00 294.3V314.0" stroke="#3c4c46"/>
<path d="M773.00 301.3V304.4" stroke="#3c4c46"/>
<path d="M773.50 296.4V302.5" stroke="#5a6a64"/>
<path d="M773.50 299.4V301.3" stroke="#5a6a64"/>
<path d="M774.00 278.6V303.9" stroke="#4a1a1a"/>
<path d="M774.00 299.4V302.9" stroke="#4a1a1a"/>
<path d="M774.50 297.0V306.9" stroke="#333f3a"/>
<path d="M774.50 300.0V302.9" stroke="#333f3a"/>
<path d="M775.00 298.7V302.8" stroke="#681c1c"/>
<path d="M775.00 300.0V302.3" stroke="#681c1c"/>
<path d="M775.50 276.7V311.8" stroke="#762121"/>
<path d="M775.50 302.3V310.3" stroke="#762121"/>
<path d="M776.00 304.9V310.9" stroke="#5a6a64"/>
<path d="M776.00 307.4V310.3" stroke="#5a6a64"/>
<path d="M776.50 292.6V311.7" stroke="#3c4c46"/>
<path d="M776.50 295.4V307.4" stroke="#3c4c46"/>
<path d="M777.00 294.5V303.7" stroke="#762121"/>
<path d="M777.00 295.4V301.6" stroke="#762121"/>
<path d="M777.50 294.8V302.3" stroke="#5a6a64"/>
<path d="M777.50 295.6V301.6" stroke="#5a6a64"/>
<path d="M778.00 294.1V314.0" stroke="#681c1c"/>
<path d="M778.00 295.6V308.3" stroke="#681c1c"/>
<path d="M778.50 301.8V308.3" stroke="#4d5f58"/>
<path d="M778.50 305.5V308.3" stroke="#4d5f58"/>
<path d="M779.00 299.4V305.6" stroke="#4d5f58"/>
<path d="M779.00 303.1V305.5" stroke="#4d5f58"/>
<path d="M779.50 300.9V305.0" stroke="#4a1a1a"/>
<path d="M779.50 303.1V304.1" stroke="#4a1a1a"/>
<path d="M780.00 302.3V307.6" stroke="#681c1c"/>
<path d="M780.00 303.3V305.0" stroke="#681c1c"/>
<path d="M780.50 300.0V310.9" stroke="#333f3a"/>
<path d="M780.50 303.8V305.0" stroke="#333f3a"/>
<path d="M781.00 303.1V309.8" stroke="#4a1a1a"/>
<path d="M781.00 303.8V306.8" stroke="#4a1a1a"/>
<path d="M781.50 292.4V308.6" stroke="#4d5f58"/>
<path d="M781.50 293.8V306.8" stroke="#4d5f58"/>
<path d="M782.00 285.8V301.5" stroke="#333f3a"/>
<path d="M782.00 292.2V293.8" stroke="#333f3a"/>
<path d="M782.50 289.5V305.5" stroke="#4a1a1a"/>
<path d="M782.50 292.2V303.4" stroke="#4a1a1a"/>
<path d="M783.00 289.5V305.6" stroke="#333f3a"/>
<path d="M783.00 297.6V303.4" stroke="#333f3a"/>
<path d="M783.50 289.4V301.9" stroke="#5a6a64"/>
<path d="M783.50 290.8V297.6" stroke="#5a6a64"/>
<path d="M784.00 268.6V294.1" stroke="#333f3a"/>
<path d="M784.00 269.8V290.8" stroke="#333f3a"/>
<path d="M784.50 260.4V274.2" stroke="#5a6a64"/>
<path d="M784.50 261.5V269.8" stroke="#5a6a64"/>
<path d="M785.00 252.0V278.5" stroke="#333f3a"/>
<path d="M785.00 256.0V261.5" stroke="#333f3a"/>
<path d="M785.50 253.7V259.9" stroke="#4a1a1a"/>
<path d="M785.50 256.0V257.1" stroke="#4a1a1a"/>
<path d="M786.00 255.3V264.5" stroke="#681c1c"/>
<path d="M786.00 257.1V263.8" stroke="#681c1c"/>
<path d="M786.50 260.2V281.8" stroke="#5c1919"/>
<path d="M786.50 263.8V270.2" stroke="#5c1919"/>
<path d="M787.00 267.7V272.6" stroke="#4a1a1a"/>
<path d="M787.00 270.2V271.3" stroke="#4a1a1a"/>
<path d="M787.50 266.9V271.4" stroke="#3c4c46"/>
<path d="M787.50 269.0V271.3" stroke="#3c4c46"/>
<path d="M788.00 267.2V279.6" stroke="#5c1919"/>
<path d="M788.00 269.0V274.2" stroke="#5c1919"/>
<path d="M788.50 268.0V281.3" stroke="#762121"/>
<path d="M788.50 274.2V277.6" stroke="#762121"/>
<path d="M789.00 275.8V291.5" stroke="#333f3a"/>
<path d="M789.00 276.0V277.6" stroke="#333f3a"/>
<path d="M789.50 273.3V294.8" stroke="#5c1919"/>
<path d="M789.50 276.0V281.2" stroke="#5c1919"/>
<path d="M790.00 280.0V293.0" stroke="#4a1a1a"/>
<path d="M790.00 281.2V292.9" stroke="#4a1a1a"/>
<path d="M790.50 291.8V297.1" stroke="#762121"/>
<path d="M790.50 292.9V295.3" stroke="#762121"/>
<path d="M791.00 295.1V298.0" stroke="#4a1a1a"/>
<path d="M791.00 295.3V296.5" stroke="#4a1a1a"/>
<path d="M791.50 283.4V298.6" stroke="#4d5f58"/>
<path d="M791.50 285.0V296.5" stroke="#4d5f58"/>
<path d="M792.00 282.9V298.8" stroke="#3c4c46"/>
<path d="M792.00 284.6V285.6" stroke="#3c4c46"/>
<path d="M792.50 282.6V295.7" stroke="#681c1c"/>
<path d="M792.50 284.6V293.7" stroke="#681c1c"/>
<path d="M793.00 273.0V297.0" stroke="#5a6a64"/>
<path d="M793.00 289.2V293.7" stroke="#5a6a64"/>
<path d="M793.50 286.2V299.4" stroke="#5a6a64"/>
<path d="M793.50 288.0V289.2" stroke="#5a6a64"/>
<path d="M794.00 283.3V288.2" stroke="#4d5f58"/>
<path d="M794.00 285.5V288.0" stroke="#4d5f58"/>
<path d="M794.50 284.8V291.4" stroke="#5c1919"/>
<path d="M794.50 285.5V287.9" stroke="#5c1919"/>
<path d="M795.00 282.1V294.0" stroke="#4d5f58"/>
<path d="M795.00 283.6V287.9" stroke="#4d5f58"/>
<path d="M795.50 274.3V283.9" stroke="#333f3a"/>
<path d="M795.50 277.3V283.6" stroke="#333f3a"/>
<path d="M796.00 275.7V283.3" stroke="#4a1a1a"/>
<path d="M796.00 277.3V281.7" stroke="#4a1a1a"/>
<path d="M796.50 281.5V304.7" stroke="#681c1c"/>
<path d="M796.50 281.7V289.5" stroke="#681c1c"/>
<path d="M797.00 279.2V291.7" stroke="#4d5f58"/>
<path d="M797.00 279.7V289.5" stroke="#4d5f58"/>
<path d="M797.50 279.7V283.6" stroke="#681c1c"/>
<path d="M797.50 279.7V283.0" stroke="#681c1c"/>
<path d="M798.00 281.9V301.0" stroke="#5c1919"/>
<path d="M798.00 283.0V297.4" stroke="#5c1919"/>
<path d="M798.50 292.4V305.5" stroke="#762121"/>
<path d="M798.50 297.4V302.3" stroke="#762121"/>
<path d="M799.00 299.8V312.4" stroke="#762121"/>
<path d="M799.00 302.3V310.9" stroke="#762121"/>
<path d="M799.50 285.0V312.0" stroke="#5c1919"/>
<path d="M799.50 310.9V311.9" stroke="#5c1919"/>
<path d="M800.00 296.8V313.9" stroke="#5a6a64"/>
<path d="M800.00 300.7V311.5" stroke="#5a6a64"/>
<path d="M800.50 294.9V300.8" stroke="#5a6a64"/>
<path d="M800.50 296.5V300.7" stroke="#5a6a64"/>
<path d="M801.00 296.0V303.2" stroke="#762121"/>
<path d="M801.00 296.5V302.9" stroke="#762121"/>
<path d="M801.50 298.6V318.4" stroke="#4d5f58"/>
<path d="M801.50 302.7V303.7" stroke="#4d5f58"/>
<path d="M802.00 295.2V302.9" stroke="#5a6a64"/>
<path d="M802.00 299.1V302.7" stroke="#5a6a64"/>
<path d="M802.50 298.4V301.8" stroke="#5c1919"/>
<path d="M802.50 299.1V300.5" stroke="#5c1919"/>
<path d="M803.00 294.9V321.7" stroke="#762121"/>
<path d="M803.00 300.5V313.2" stroke="#762121"/>
<path d="M803.50 311.5V313.9" stroke="#333f3a"/>
<path d="M803.50 312.9V313.9" stroke="#333f3a"/>
<path d="M804.00 297.3V314.2" stroke="#5a6a64"/>
<path d="M804.00 297.3V312.9" stroke="#5a6a64"/>
<path d="M804.50 295.0V308.4" stroke="#681c1c"/>
<path d="M804.50 297.3V303.6" stroke="#681c1c"/>
<path d="M805.00 296.0V310.2" stroke="#4d5f58"/>
<path d="M805.00 298.4V303.6" stroke="#4d5f58"/>
<path d="M805.50 297.0V313.5" stroke="#762121"/>
<path d="M805.50 298.4V312.5" stroke="#762121"/>
<path d="M806.00 300.7V312.9" stroke="#333f3a"/>
<path d="M806.00 303.5V312.5" stroke="#333f3a"/>
<path d="M806.50 300.7V309.2" stroke="#4a1a1a"/>
<path d="M806.50 303.5V308.7" stroke="#4a1a1a"/>
<path d="M807.00 300.0V330.6" stroke="#4d5f58"/>
<path d="M807.00 305.1V308.7" stroke="#4d5f58"/>
<path d="M807.50 299.6V305.4" stroke="#3c4c46"/>
<path d="M807.50 301.1V305.1" stroke="#3c4c46"/>
<path d="M808.00 299.2V313.4" stroke="#4a1a1a"/>
<path d="M808.00 301.1V312.7" stroke="#4a1a1a"/>
<path d="M808.50 301.1V315.3" stroke="#5a6a64"/>
<path d="M808.50 302.5V312.7" stroke="#5a6a64"/>
<path d="M809.00 299.6V306.9" stroke="#333f3a"/>
<path d="M809.00 299.9V302.5" stroke="#333f3a"/>
<path d="M809.50 298.0V302.4" stroke="#4a1a1a"/>
<path d="M809.50 299.9V300.9" stroke="#4a1a1a"/>
<path d="M810.00 297.6V309.5" stroke="#681c1c"/>
<path d="M810.00 300.7V306.2" stroke="#681c1c"/>
<path d="M810.50 300.8V313.7" stroke="#4a1a1a"/>
<path d="M810.50 306.2V312.9" stroke="#4a1a1a"/>
<path d="M811.00 304.6V326.1" stroke="#3c4c46"/>
<path d="M811.00 311.6V312.9" stroke="#3c4c46"/>
<path d="M811.50 309.3V325.6" stroke="#5c1919"/>
<path d="M811.50 311.6V312.6" stroke="#5c1919"/>
<path d="M812.00 296.0V315.4" stroke="#5a6a64"/>
<path d="M812.00 307.4V312.3" stroke="#5a6a64"/>
<path d="M812.50 296.7V320.0" stroke="#762121"/>
<path d="M812.50 307.4V319.9" stroke="#762121"/>
<path d="M813.00 316.3V323.3" stroke="#681c1c"/>
<path d="M813.00 319.9V320.9" stroke="#681c1c"/>
<path d="M813.50 308.4V322.4" stroke="#4d5f58"/>
<path d="M813.50 309.1V320.2" stroke="#4d5f58"/>
<path d="M814.00 307.7V316.1" stroke="#5c1919"/>
<path d="M814.00 309.1V313.9" stroke="#5c1919"/>
<path d="M814.50 299.4V317.5" stroke="#681c1c"/>
<path d="M814.50 313.9V316.0" stroke="#681c1c"/>
<path d="M815.00 309.2V316.2" stroke="#333f3a"/>
<path d="M815.00 312.0V316.0" stroke="#333f3a"/>
<path d="M815.50 299.2V310.5" stroke="#5a6a64"/>
<path d="M815.50 301.2V310.5" stroke="#5a6a64"/>
<path d="M816.00 295.8V303.6" stroke="#5a6a64"/>
<path d="M816.00 297.8V301.2" stroke="#5a6a64"/>
<path d="M816.50 290.9V298.8" stroke="#3c4c46"/>
<path d="M816.50 294.6V297.8" stroke="#3c4c46"/>
<path d="M817.00 293.0V298.5" stroke="#762121"/>
<path d="M817.00 294.6V298.2" stroke="#762121"/>
<path d="M817.50 275.0V301.8" stroke="#3c4c46"/>
<path d="M817.50 292.9V298.2" stroke="#3c4c46"/>
<path d="M818.00 277.0V297.0" stroke="#5a6a64"/>
<path d="M818.00 287.1V292.9" stroke="#5a6a64"/>
<path d="M818.50 285.1V290.4" stroke="#5c1919"/>
<path d="M818.50 287.1V289.7" stroke="#5c1919"/>
<path d="M819.00 288.8V299.0" stroke="#4a1a1a"/>
<path d="M819.00 289.7V297.4" stroke="#4a1a1a"/>
<path d="M819.50 286.8V298.6" stroke="#4d5f58"/>
<path d="M819.50 293.1V297.4" stroke="#4d5f58"/>
<path d="M820.00 291.8V303.7" stroke="#762121"/>
<path d="M820.00 293.1V302.8" stroke="#762121"/>
<path d="M820.50 293.3V311.2" stroke="#4a1a1a"/>
<path d="M820.50 302.8V308.1" stroke="#4a1a1a"/>
<path d="M821.00 303.7V311.4" stroke="#3c4c46"/>
<path d="M821.00 305.8V308.1" stroke="#3c4c46"/>
<path d="M821.50 296.2V311.4" stroke="#333f3a"/>
<path d="M821.50 298.5V305.8" stroke="#333f3a"/>
<path d="M822.00 297.9V299.4" stroke="#762121"/>
<path d="M822.00 298.5V299.5" stroke="#762121"/>
<path d="M822.50 297.3V300.3" stroke="#4d5f58"/>
<path d="M822.50 297.4V298.8" stroke="#4d5f58"/>
<path d="M823.00 294.0V297.8" stroke="#5a6a64"/>
<path d="M823.00 294.9V297.4" stroke="#5a6a64"/>
<path d="M823.50 295.2V304.6" stroke="#4a1a1a"/>
<path d="M823.50 295.2V299.8" stroke="#4a1a1a"/>
<path d="M824.00 299.5V303.1" stroke="#4a1a1a"/>
<path d="M824.00 299.8V301.6" stroke="#4a1a1a"/>
<path d="M824.50 297.8V309.1" stroke="#681c1c"/>
<path d="M824.50 301.6V307.7" stroke="#681c1c"/>
<path d="M825.00 305.4V308.1" stroke="#5a6a64"/>
<path d="M825.00 305.4V307.7" stroke="#5a6a64"/>
<path d="M825.50 303.7V309.6" stroke="#5c1919"/>
<path d="M825.50 305.4V309.5" stroke="#5c1919"/>
<path d="M826.00 307.0V311.3" stroke="#681c1c"/>
<path d="M826.00 309.5V310.7" stroke="#681c1c"/>
<path d="M826.50 309.5V313.5" stroke="#762121"/>
<path d="M826.50 310.7V311.9" stroke="#762121"/>
<path d="M827.00 308.0V317.1" stroke="#4a1a1a"/>
<path d="M827.00 311.9V313.7" stroke="#4a1a1a"/>
<path d="M827.50 312.8V316.6" stroke="#4a1a1a"/>
<path d="M827.50 313.7V315.7" stroke="#4a1a1a"/>
<path d="M828.00 313.0V319.5" stroke="#681c1c"/>
<path d="M828.00 315.7V316.7" stroke="#681c1c"/>
<path d="M828.50 316.7V330.9" stroke="#681c1c"/>
<path d="M828.50 316.7V329.1" stroke="#681c1c"/>
<path d="M829.00 325.3V333.4" stroke="#4a1a1a"/>
<path d="M829.00 329.1V330.8" stroke="#4a1a1a"/>
<path d="M829.50 324.0V345.0" stroke="#681c1c"/>
<path d="M829.50 330.8V339.5" stroke="#681c1c"/>
<path d="M830.00 337.9V345.1" stroke="#762121"/>
<path d="M830.00 339.5V344.8" stroke="#762121"/>
<path d="M830.50 339.7V345.6" stroke="#333f3a"/>
<path d="M830.50 340.3V344.8" stroke="#333f3a"/>
<path d="M831.00 339.0V351.9" stroke="#681c1c"/>
<path d="M831.00 340.3V350.5" stroke="#681c1c"/>
<path d="M831.50 339.2V351.4" stroke="#4d5f58"/>
<path d="M831.50 349.7V350.7" stroke="#4d5f58"/>
<path d="M832.00 347.5V357.7" stroke="#5c1919"/>
<path d="M832.00 349.7V354.5" stroke="#5c1919"/>
<path d="M832.50 354.0V358.1" stroke="#5c1919"/>
<path d="M832.50 354.5V355.6" stroke="#5c1919"/>
<path d="M833.00 351.7V362.2" stroke="#5c1919"/>
<path d="M833.00 355.6V361.4" stroke="#5c1919"/>
<path d="M833.50 360.2V366.7" stroke="#762121"/>
<path d="M833.50 361.4V366.3" stroke="#762121"/>
<path d="M834.00 365.6V368.5" stroke="#5a6a64"/>
<path d="M834.00 365.8V366.8" stroke="#5a6a64"/>
<path d="M834.50 364.4V372.1" stroke="#4a1a1a"/>
<path d="M834.50 365.8V371.6" stroke="#4a1a1a"/>
<path d="M835.00 371.5V374.1" stroke="#5c1919"/>
<path d="M835.00 371.6V373.9" stroke="#5c1919"/>
<path d="M835.50 371.3V375.4" stroke="#3c4c46"/>
<path d="M835.50 371.4V373.9" stroke="#3c4c46"/>
<path d="M836.00 371.3V373.1" stroke="#762121"/>
<path d="M836.00 371.4V372.4" stroke="#762121"/>
<path d="M836.50 365.9V379.2" stroke="#5c1919"/>
<path d="M836.50 372.1V378.4" stroke="#5c1919"/>
<path d="M837.00 366.9V382.0" stroke="#762121"/>
<path d="M837.00 378.4V379.8" stroke="#762121"/>
<path d="M837.50 377.8V382.3" stroke="#3c4c46"/>
<path d="M837.50 379.3V380.3" stroke="#3c4c46"/>
<path d="M838.00 376.3V380.9" stroke="#4a1a1a"/>
<path d="M838.00 379.3V380.3" stroke="#4a1a1a"/>
<path d="M838.50 378.3V383.2" stroke="#762121"/>
<path d="M838.50 379.7V381.7" stroke="#762121"/>
<path d="M839.00 379.0V398.8" stroke="#5c1919"/>
<path d="M839.00 381.7V382.7" stroke="#5c1919"/>
<path d="M839.50 377.9V386.3" stroke="#4a1a1a"/>
<path d="M839.50 382.6V385.0" stroke="#4a1a1a"/>
<path d="M840.00 371.3V388.2" stroke="#5c1919"/>
<path d="M840.00 385.0V386.7" stroke="#5c1919"/>
<path d="M840.50 376.0V388.2" stroke="#4d5f58"/>
<path d="M840.50 379.5V386.7" stroke="#4d5f58"/>
<path d="M841.00 376.7V383.7" stroke="#5c1919"/>
<path d="M841.00 379.5V382.4" stroke="#5c1919"/>
<path d="M841.50 379.2V382.8" stroke="#3c4c46"/>
<path d="M841.50 379.5V382.4" stroke="#3c4c46"/>
<path d="M842.00 378.9V380.9" stroke="#681c1c"/>
<path d="M842.00 379.5V380.9" stroke="#681c1c"/>
<path d="M842.50 373.1V382.1" stroke="#3c4c46"/>
<path d="M842.50 373.7V380.9" stroke="#3c4c46"/>
<path d="M843.00 373.6V385.7" stroke="#681c1c"/>
<path d="M843.00 373.7V374.7" stroke="#681c1c"/>
<path d="M843.50 364.4V374.5" stroke="#4d5f58"/>
<path d="M843.50 364.5V374.0" stroke="#4d5f58"/>
<path d="M844.00 360.3V370.1" stroke="#4d5f58"/>
<path d="M844.00 362.2V364.5" stroke="#4d5f58"/>
<path d="M844.50 352.5V379.2" stroke="#681c1c"/>
<path d="M844.50 362.2V366.8" stroke="#681c1c"/>
<path d="M845.00 359.5V370.9" stroke="#333f3a"/>
<path d="M845.00 360.9V366.8" stroke="#333f3a"/>
<path d="M845.50 356.3V361.9" stroke="#5c1919"/>
<path d="M845.50 360.9V361.9" stroke="#5c1919"/>
<path d="M846.00 343.8V363.5" stroke="#333f3a"/>
<path d="M846.00 353.7V361.9" stroke="#333f3a"/>
<path d="M846.50 335.0V356.5" stroke="#5a6a64"/>
<path d="M846.50 338.7V353.7" stroke="#5a6a64"/>
<path d="M847.00 334.3V348.7" stroke="#4a1a1a"/>
<path d="M847.00 338.7V342.1" stroke="#4a1a1a"/>
<path d="M847.50 336.3V348.5" stroke="#762121"/>
<path d="M847.50 342.1V344.8" stroke="#762121"/>
<path d="M848.00 342.6V367.0" stroke="#5c1919"/>
<path d="M848.00 344.8V365.1" stroke="#5c1919"/>
<path d="M848.50 354.8V367.0" stroke="#5a6a64"/>
<path d="M848.50 359.6V365.1" stroke="#5a6a64"/>
<path d="M849.00 357.8V367.0" stroke="#762121"/>
<path d="M849.00 359.6V364.9" stroke="#762121"/>
<path d="M849.50 348.9V367.0" stroke="#3c4c46"/>
<path d="M849.50 356.9V364.9" stroke="#3c4c46"/>
<path d="M850.00 345.6V357.1" stroke="#5a6a64"/>
<path d="M850.00 347.0V356.9" stroke="#5a6a64"/>
<path d="M850.50 336.0V349.0" stroke="#3c4c46"/>
<path d="M850.50 341.2V347.0" stroke="#3c4c46"/>
<path d="M851.00 331.5V358.6" stroke="#5c1919"/>
<path d="M851.00 341.2V348.2" stroke="#5c1919"/>
<path d="M851.50 316.3V351.1" stroke="#4d5f58"/>
<path d="M851.50 338.8V348.2" stroke="#4d5f58"/>
<path d="M852.00 336.2V343.0" stroke="#5c1919"/>
<path d="M852.00 338.8V340.9" stroke="#5c1919"/>
<path d="M852.50 338.8V371.2" stroke="#681c1c"/>
<path d="M852.50 340.9V364.2" stroke="#681c1c"/>
<path d="M853.00 357.9V364.8" stroke="#5a6a64"/>
<path d="M853.00 359.5V364.2" stroke="#5a6a64"/>
<path d="M853.50 358.7V374.7" stroke="#5c1919"/>
<path d="M853.50 359.5V364.5" stroke="#5c1919"/>
<path d="M854.00 363.2V368.6" stroke="#4a1a1a"/>
<path d="M854.00 364.5V367.1" stroke="#4a1a1a"/>
<path d="M854.50 361.5V375.0" stroke="#3c4c46"/>
<path d="M854.50 362.0V367.1" stroke="#3c4c46"/>
<path d="M855.00 361.9V367.2" stroke="#762121"/>
<path d="M855.00 362.0V364.5" stroke="#762121"/>
<path d="M855.50 363.1V365.8" stroke="#4a1a1a"/>
<path d="M855.50 364.5V365.5" stroke="#4a1a1a"/>
<path d="M856.00 362.6V368.4" stroke="#762121"/>
<path d="M856.00 365.0V368.2" stroke="#762121"/>
<path d="M856.50 365.3V374.4" stroke="#4a1a1a"/>
<path d="M856.50 368.2V373.6" stroke="#4a1a1a"/>
<path d="M857.00 371.6V374.6" stroke="#3c4c46"/>
<path d="M857.00 372.3V373.6" stroke="#3c4c46"/>
<path d="M857.50 372.1V375.0" stroke="#4a1a1a"/>
<path d="M857.50 372.3V374.2" stroke="#4a1a1a"/>
<path d="M858.00 369.4V375.0" stroke="#4d5f58"/>
<path d="M858.00 370.2V374.2" stroke="#4d5f58"/>
<path d="M858.50 370.0V374.8" stroke="#5c1919"/>
<path d="M858.50 370.2V374.2" stroke="#5c1919"/>
<path d="M859.00 366.2V375.0" stroke="#5a6a64"/>
<path d="M859.00 366.5V374.2" stroke="#5a6a64"/>
<path d="M859.50 365.5V369.5" stroke="#4a1a1a"/>
<path d="M859.50 366.5V367.8" stroke="#4a1a1a"/>
<path d="M860.00 359.5V369.2" stroke="#4d5f58"/>
<path d="M860.00 363.7V367.8" stroke="#4d5f58"/>
<path d="M860.50 358.2V364.5" stroke="#333f3a"/>
<path d="M860.50 359.4V363.7" stroke="#333f3a"/>
<path d="M861.00 358.5V361.7" stroke="#681c1c"/>
<path d="M861.00 359.4V361.2" stroke="#681c1c"/>
<path d="M861.50 356.2V362.0" stroke="#333f3a"/>
<path d="M861.50 356.8V361.2" stroke="#333f3a"/>
<path d="M862.00 356.7V360.3" stroke="#5c1919"/>
<path d="M862.00 356.8V357.8" stroke="#5c1919"/>
<path d="M862.50 353.7V359.8" stroke="#681c1c"/>
<path d="M862.50 357.0V358.0" stroke="#681c1c"/>
<path d="M863.00 355.1V359.7" stroke="#681c1c"/>
<path d="M863.00 357.9V358.9" stroke="#681c1c"/>
<path d="M863.50 355.2V361.3" stroke="#5c1919"/>
<path d="M863.50 358.0V359.0" stroke="#5c1919"/>
<path d="M864.00 353.1V359.3" stroke="#3c4c46"/>
<path d="M864.00 355.3V358.5" stroke="#3c4c46"/>
<path d="M864.50 350.3V360.1" stroke="#762121"/>
<path d="M864.50 355.3V358.0" stroke="#762121"/>
<path d="M865.00 351.0V358.4" stroke="#4d5f58"/>
<path d="M865.00 353.3V358.0" stroke="#4d5f58"/>
<path d="M865.50 351.3V354.3" stroke="#3c4c46"/>
<path d="M865.50 351.6V353.3" stroke="#3c4c46"/>
<path d="M866.00 347.4V353.1" stroke="#333f3a"/>
<path d="M866.00 347.9V351.6" stroke="#333f3a"/>
<path d="M866.50 345.4V353.8" stroke="#681c1c"/>
<path d="M866.50 347.9V351.3" stroke="#681c1c"/>
<path d="M867.00 347.1V356.7" stroke="#4a1a1a"/>
<path d="M867.00 351.3V355.3" stroke="#4a1a1a"/>
<path d="M867.50 350.8V357.1" stroke="#762121"/>
<path d="M867.50 355.3V356.7" stroke="#762121"/>
<path d="M868.00 343.0V357.3" stroke="#3c4c46"/>
<path d="M868.00 352.2V356.7" stroke="#3c4c46"/>
<path d="M868.50 352.0V353.7" stroke="#762121"/>
<path d="M868.50 352.2V353.3" stroke="#762121"/>
<path d="M869.00 343.2V356.7" stroke="#5c1919"/>
<path d="M869.00 353.3V355.1" stroke="#5c1919"/>
<path d="M869.50 354.0V356.4" stroke="#5a6a64"/>
<path d="M869.50 354.7V355.7" stroke="#5a6a64"/>
<path d="M870.00 352.7V358.6" stroke="#4a1a1a"/>
<path d="M870.00 354.7V358.0" stroke="#4a1a1a"/>
<path d="M870.50 356.0V362.6" stroke="#681c1c"/>
<path d="M870.50 358.0V359.0" stroke="#681c1c"/>
<path d="M871.00 349.6V360.6" stroke="#5a6a64"/>
<path d="M871.00 350.3V358.1" stroke="#5a6a64"/>
<path d="M871.50 348.2V363.0" stroke="#762121"/>
<path d="M871.50 350.3V355.8" stroke="#762121"/>
<path d="M872.00 353.8V363.0" stroke="#681c1c"/>
<path d="M872.00 355.8V360.6" stroke="#681c1c"/>
<path d="M872.50 354.6V361.0" stroke="#5a6a64"/>
<path d="M872.50 355.5V360.6" stroke="#5a6a64"/>
<path d="M873.00 354.2V365.6" stroke="#5c1919"/>
<path d="M873.00 355.5V360.5" stroke="#5c1919"/>
<path d="M873.50 355.6V361.3" stroke="#4d5f58"/>
<path d="M873.50 359.8V360.8" stroke="#4d5f58"/>
<path d="M874.00 357.3V363.3" stroke="#5c1919"/>
<path d="M874.00 359.8V360.8" stroke="#5c1919"/>
<path d="M874.50 359.8V365.1" stroke="#4a1a1a"/>
<path d="M874.50 360.5V364.2" stroke="#4a1a1a"/>
<path d="M875.00 362.9V367.1" stroke="#681c1c"/>
<path d="M875.00 364.2V365.6" stroke="#681c1c"/>
<path d="M875.50 361.5V365.6" stroke="#5a6a64"/>
<path d="M875.50 363.2V365.6" stroke="#5a6a64"/>
<path d="M876.00 362.9V367.2" stroke="#4a1a1a"/>
<path d="M876.00 363.2V364.7" stroke="#4a1a1a"/>
<path d="M876.50 365.9V367.9" stroke="#681c1c"/>
<path d="M876.50 365.9V367.5" stroke="#681c1c"/>
<path d="M877.00 370.9V377.1" stroke="#4a1a1a"/>
<path d="M877.00 370.9V376.0" stroke="#4a1a1a"/>
<path d="M877.50 375.8V387.0" stroke="#5c1919"/>
<path d="M877.50 376.0V385.5" stroke="#5c1919"/>
<path d="M878.00 384.2V391.7" stroke="#681c1c"/>
<path d="M878.00 385.5V390.2" stroke="#681c1c"/>
<path d="M878.50 389.8V391.9" stroke="#762121"/>
<path d="M878.50 390.2V391.2" stroke="#762121"/>
<path d="M879.00 386.7V393.0" stroke="#4d5f58"/>
<path d="M879.00 387.7V390.7" stroke="#4d5f58"/>
<path d="M879.50 384.7V391.5" stroke="#5c1919"/>
<path d="M879.50 387.7V388.7" stroke="#5c1919"/>
<path d="M880.00 376.8V404.4" stroke="#681c1c"/>
<path d="M880.00 388.6V402.4" stroke="#681c1c"/>
<path d="M880.50 395.9V404.6" stroke="#5a6a64"/>
<path d="M880.50 397.8V402.4" stroke="#5a6a64"/>
<path d="M881.00 394.6V401.5" stroke="#4d5f58"/>
<path d="M881.00 397.7V398.7" stroke="#4d5f58"/>
<path d="M881.50 396.4V399.8" stroke="#4d5f58"/>
<path d="M881.50 397.2V398.2" stroke="#4d5f58"/>
<path d="M882.00 378.3V398.7" stroke="#3c4c46"/>
<path d="M882.00 388.3V397.2" stroke="#3c4c46"/>
<path d="M882.50 381.2V394.4" stroke="#681c1c"/>
<path d="M882.50 388.3V390.4" stroke="#681c1c"/>
<path d="M883.00 387.7V393.5" stroke="#333f3a"/>
<path d="M883.00 389.6V390.6" stroke="#333f3a"/>
<path d="M883.50 384.1V390.1" stroke="#5a6a64"/>
<path d="M883.50 386.6V389.6" stroke="#5a6a64"/>
<path d="M884.00 386.3V401.1" stroke="#762121"/>
<path d="M884.00 386.6V399.0" stroke="#762121"/>
<path d="M884.50 392.0V413.2" stroke="#681c1c"/>
<path d="M884.50 399.0V400.0" stroke="#681c1c"/>
<path d="M885.00 395.1V406.1" stroke="#681c1c"/>
<path d="M885.00 399.5V405.2" stroke="#681c1c"/>
<path d="M885.50 401.5V404.9" stroke="#3c4c46"/>
<path d="M885.50 403.5V404.9" stroke="#3c4c46"/>
<path d="M886.00 392.7V401.4" stroke="#3c4c46"/>
<path d="M886.00 395.9V401.4" stroke="#3c4c46"/>
<path d="M886.50 387.5V389.0" stroke="#4d5f58"/>
<path d="M886.50 387.5V389.0" stroke="#4d5f58"/>
<path d="M887.00 384.0V385.5" stroke="#4d5f58"/>
<path d="M887.00 384.0V385.5" stroke="#4d5f58"/>
<path d="M888.00 376.8V378.3" stroke="#4d5f58"/>
<path d="M888.00 376.8V378.3" stroke="#4d5f58"/>
<path d="M888.50 372.6V374.1" stroke="#4d5f58"/>
<path d="M888.50 372.6V374.1" stroke="#4d5f58"/>
<path d="M889.00 368.2V369.7" stroke="#333f3a"/>
<path d="M889.00 368.2V369.7" stroke="#333f3a"/>
<path d="M889.50 363.8V365.3" stroke="#5a6a64"/>
<path d="M889.50 363.8V365.3" stroke="#5a6a64"/>
<path d="M890.00 359.5V361.0" stroke="#5a6a64"/>
<path d="M890.00 359.5V361.0" stroke="#5a6a64"/>
<path d="M890.50 352.0V354.7" stroke="#4d5f58"/>
<path d="M890.50 352.0V354.7" stroke="#4d5f58"/>
<path d="M891.00 343.7V346.3" stroke="#333f3a"/>
<path d="M891.00 343.7V346.3" stroke="#333f3a"/>
<path d="M891.50 335.3V338.0" stroke="#4d5f58"/>
<path d="M891.50 335.3V338.0" stroke="#4d5f58"/>
<path d="M892.00 329.3V330.8" stroke="#4d5f58"/>
<path d="M892.00 329.3V330.8" stroke="#4d5f58"/>
<path d="M892.50 323.9V325.4" stroke="#4d5f58"/>
<path d="M892.50 323.9V325.4" stroke="#4d5f58"/>
<path d="M893.00 307.7V324.5" stroke="#5a6a64"/>
<path d="M893.00 312.1V323.9" stroke="#5a6a64"/>
<path d="M893.50 310.1V332.6" stroke="#5c1919"/>
<path d="M893.50 312.1V323.4" stroke="#5c1919"/>
<path d="M894.00 295.6V325.2" stroke="#3c4c46"/>
<path d="M894.00 321.1V323.4" stroke="#3c4c46"/>
<path d="M894.50 320.8V327.3" stroke="#681c1c"/>
<path d="M894.50 321.1V324.8" stroke="#681c1c"/>
<path d="M895.00 322.1V332.6" stroke="#5c1919"/>
<path d="M895.00 324.8V330.5" stroke="#5c1919"/>
<path d="M895.50 305.7V332.2" stroke="#3c4c46"/>
<path d="M895.50 310.4V330.5" stroke="#3c4c46"/>
<path d="M896.00 286.9V312.8" stroke="#5a6a64"/>
<path d="M896.00 306.6V310.4" stroke="#5a6a64"/>
<path d="M896.50 285.6V318.7" stroke="#5c1919"/>
<path d="M896.50 306.6V316.6" stroke="#5c1919"/>
<path d="M897.00 303.4V316.8" stroke="#333f3a"/>
<path d="M897.00 309.9V316.6" stroke="#333f3a"/>
<path d="M897.50 302.2V312.4" stroke="#5a6a64"/>
<path d="M897.50 304.3V309.9" stroke="#5a6a64"/>
<path d="M898.00 302.1V316.0" stroke="#4a1a1a"/>
<path d="M898.00 304.3V313.8" stroke="#4a1a1a"/>
<path d="M898.50 304.4V323.3" stroke="#3c4c46"/>
<path d="M898.50 307.4V313.8" stroke="#3c4c46"/>
<path d="M899.00 306.2V312.4" stroke="#3c4c46"/>
<path d="M899.00 307.1V308.1" stroke="#3c4c46"/>
<path d="M899.50 298.1V308.2" stroke="#4d5f58"/>
<path d="M899.50 299.1V307.1" stroke="#4d5f58"/>
<path d="M900.00 290.0V326.8" stroke="#333f3a"/>
<path d="M900.00 294.2V299.1" stroke="#333f3a"/>
<path d="M900.50 291.2V305.7" stroke="#5c1919"/>
<path d="M900.50 294.2V302.8" stroke="#5c1919"/>
<path d="M901.00 297.9V320.7" stroke="#4a1a1a"/>
<path d="M901.00 302.8V314.5" stroke="#4a1a1a"/>
<path d="M901.50 295.9V315.0" stroke="#3c4c46"/>
<path d="M901.50 301.7V314.5" stroke="#3c4c46"/>
<path d="M902.00 299.3V313.9" stroke="#5c1919"/>
<path d="M902.00 301.7V313.6" stroke="#5c1919"/>
<path d="M902.50 295.0V315.6" stroke="#3c4c46"/>
<path d="M902.50 299.7V313.6" stroke="#3c4c46"/>
<path d="M903.00 296.0V326.8" stroke="#5c1919"/>
<path d="M903.00 299.7V309.7" stroke="#5c1919"/>
<path d="M903.50 297.4V326.8" stroke="#3c4c46"/>
<path d="M903.50 302.5V309.7" stroke="#3c4c46"/>
<path d="M904.00 301.4V307.6" stroke="#681c1c"/>
<path d="M904.00 302.5V306.7" stroke="#681c1c"/>
<path d="M904.50 296.5V308.5" stroke="#3c4c46"/>
<path d="M904.50 297.0V306.7" stroke="#3c4c46"/>
<path d="M905.00 293.2V300.7" stroke="#4a1a1a"/>
<path d="M905.00 297.0V299.4" stroke="#4a1a1a"/>
<path d="M905.50 298.6V306.9" stroke="#681c1c"/>
<path d="M905.50 299.4V303.5" stroke="#681c1c"/>
<path d="M906.00 300.8V313.1" stroke="#5c1919"/>
<path d="M906.00 303.5V307.6" stroke="#5c1919"/>
<path d="M906.50 304.8V311.1" stroke="#5c1919"/>
<path d="M906.50 307.6V308.6" stroke="#5c1919"/>
<path d="M907.00 301.6V319.4" stroke="#681c1c"/>
<path d="M907.00 308.3V315.3" stroke="#681c1c"/>
<path d="M907.50 309.0V318.2" stroke="#4a1a1a"/>
<path d="M907.50 315.3V317.4" stroke="#4a1a1a"/>
<path d="M908.00 302.0V325.6" stroke="#4a1a1a"/>
<path d="M908.00 317.4V319.1" stroke="#4a1a1a"/>
<path d="M908.50 314.6V320.4" stroke="#3c4c46"/>
<path d="M908.50 317.7V319.1" stroke="#3c4c46"/>
<path d="M909.00 314.5V320.6" stroke="#5a6a64"/>
<path d="M909.00 317.3V318.3" stroke="#5a6a64"/>
<path d="M909.50 315.0V325.0" stroke="#4a1a1a"/>
<path d="M909.50 317.3V321.8" stroke="#4a1a1a"/>
<path d="M910.00 321.7V331.1" stroke="#762121"/>
<path d="M910.00 321.8V325.7" stroke="#762121"/>
<path d="M910.50 317.2V327.0" stroke="#3c4c46"/>
<path d="M910.50 321.2V325.7" stroke="#3c4c46"/>
<path d="M911.00 320.7V322.2" stroke="#5a6a64"/>
<path d="M911.00 321.1V322.1" stroke="#5a6a64"/>
<path d="M911.50 321.0V338.1" stroke="#5c1919"/>
<path d="M911.50 321.1V333.1" stroke="#5c1919"/>
<path d="M912.00 331.2V334.6" stroke="#3c4c46"/>
<path d="M912.00 331.5V333.1" stroke="#3c4c46"/>
<path d="M912.50 331.3V337.9" stroke="#4a1a1a"/>
<path d="M912.50 331.5V335.3" stroke="#4a1a1a"/>
<path d="M913.00 334.6V339.7" stroke="#681c1c"/>
<path d="M913.00 335.3V337.6" stroke="#681c1c"/>
<path d="M913.50 334.0V340.9" stroke="#681c1c"/>
<path d="M913.50 337.6V338.8" stroke="#681c1c"/>
<path d="M914.00 338.5V350.6" stroke="#5c1919"/>
<path d="M914.00 338.8V349.4" stroke="#5c1919"/>
<path d="M914.50 340.4V351.9" stroke="#4d5f58"/>
<path d="M914.50 341.7V349.4" stroke="#4d5f58"/>
<path d="M915.00 333.3V353.3" stroke="#333f3a"/>
<path d="M915.00 338.5V341.7" stroke="#333f3a"/>
<path d="M915.50 337.9V350.0" stroke="#4a1a1a"/>
<path d="M915.50 338.5V347.6" stroke="#4a1a1a"/>
<path d="M916.00 337.8V348.5" stroke="#4d5f58"/>
<path d="M916.00 345.5V347.6" stroke="#4d5f58"/>
<path d="M916.50 342.7V349.1" stroke="#4d5f58"/>
<path d="M916.50 343.9V345.5" stroke="#4d5f58"/>
<path d="M917.00 343.5V358.6" stroke="#762121"/>
<path d="M917.00 343.9V352.7" stroke="#762121"/>
<path d="M917.50 352.1V357.1" stroke="#5c1919"/>
<path d="M917.50 352.7V353.8" stroke="#5c1919"/>
<path d="M918.00 351.8V354.9" stroke="#333f3a"/>
<path d="M918.00 352.7V353.8" stroke="#333f3a"/>
<path d="M918.50 350.0V359.1" stroke="#762121"/>
<path d="M918.50 352.7V356.8" stroke="#762121"/>
<path d="M919.00 350.1V357.2" stroke="#3c4c46"/>
<path d="M919.00 351.6V356.8" stroke="#3c4c46"/>
<path d="M919.50 348.1V355.8" stroke="#3c4c46"/>
<path d="M919.50 351.2V352.2" stroke="#3c4c46"/>
<path d="M920.00 344.0V354.8" stroke="#333f3a"/>
<path d="M920.00 345.1V351.2" stroke="#333f3a"/>
<path d="M920.50 344.7V346.8" stroke="#4a1a1a"/>
<path d="M920.50 345.1V346.1" stroke="#4a1a1a"/>
<path d="M921.00 344.0V358.2" stroke="#681c1c"/>
<path d="M921.00 345.1V358.1" stroke="#681c1c"/>
<path d="M921.50 348.3V358.3" stroke="#3c4c46"/>
<path d="M921.50 351.4V358.1" stroke="#3c4c46"/>
<path d="M922.00 345.8V365.0" stroke="#333f3a"/>
<path d="M922.00 346.7V351.4" stroke="#333f3a"/>
<path d="M922.50 346.6V349.5" stroke="#681c1c"/>
<path d="M922.50 346.7V348.4" stroke="#681c1c"/>
<path d="M923.00 344.0V349.7" stroke="#5a6a64"/>
<path d="M923.00 345.1V348.4" stroke="#5a6a64"/>
<path d="M923.50 344.7V354.2" stroke="#762121"/>
<path d="M923.50 345.1V348.3" stroke="#762121"/>
<path d="M924.00 344.0V352.8" stroke="#4d5f58"/>
<path d="M924.00 347.1V348.3" stroke="#4d5f58"/>
<path d="M924.50 346.6V359.6" stroke="#4a1a1a"/>
<path d="M924.50 347.1V356.0" stroke="#4a1a1a"/>
<path d="M925.00 354.5V384.4" stroke="#5a6a64"/>
<path d="M925.00 355.9V356.9" stroke="#5a6a64"/>
<path d="M925.50 345.6V356.7" stroke="#5a6a64"/>
<path d="M925.50 348.0V355.9" stroke="#5a6a64"/>
<path d="M926.00 347.5V354.7" stroke="#4a1a1a"/>
<path d="M926.00 348.0V351.3" stroke="#4a1a1a"/>
<path d="M926.50 350.0V352.4" stroke="#333f3a"/>
<path d="M926.50 350.6V351.6" stroke="#333f3a"/>
<path d="M927.00 345.5V366.7" stroke="#681c1c"/>
<path d="M927.00 350.6V365.1" stroke="#681c1c"/>
<path d="M927.50 358.4V366.1" stroke="#4d5f58"/>
<path d="M927.50 359.7V365.1" stroke="#4d5f58"/>
<path d="M928.00 355.6V360.7" stroke="#4d5f58"/>
<path d="M928.00 356.8V359.7" stroke="#4d5f58"/>
<path d="M928.50 355.3V358.7" stroke="#4d5f58"/>
<path d="M928.50 356.2V357.2" stroke="#4d5f58"/>
<path d="M929.00 354.7V362.0" stroke="#681c1c"/>
<path d="M929.00 356.2V358.8" stroke="#681c1c"/>
<path d="M929.50 355.5V362.2" stroke="#3c4c46"/>
<path d="M929.50 356.2V358.8" stroke="#3c4c46"/>
<path d="M930.00 353.5V357.1" stroke="#5c1919"/>
<path d="M930.00 356.2V357.2" stroke="#5c1919"/>
<path d="M930.50 352.2V356.8" stroke="#3c4c46"/>
<path d="M930.50 353.7V356.7" stroke="#3c4c46"/>
<path d="M931.00 352.0V356.0" stroke="#5c1919"/>
<path d="M931.00 353.7V356.0" stroke="#5c1919"/>
<path d="M931.50 355.2V360.1" stroke="#4a1a1a"/>
<path d="M931.50 356.0V359.6" stroke="#4a1a1a"/>
<path d="M932.00 358.7V368.1" stroke="#5c1919"/>
<path d="M932.00 359.6V367.0" stroke="#5c1919"/>
<path d="M932.50 352.5V368.7" stroke="#3c4c46"/>
<path d="M932.50 365.8V367.0" stroke="#3c4c46"/>
<path d="M933.00 363.4V367.0" stroke="#5a6a64"/>
<path d="M933.00 365.2V366.2" stroke="#5a6a64"/>
<path d="M933.50 362.5V365.7" stroke="#333f3a"/>
<path d="M933.50 363.4V365.2" stroke="#333f3a"/>
<path d="M934.00 360.4V363.7" stroke="#5c1919"/>
<path d="M934.00 363.4V364.4" stroke="#5c1919"/>
<path d="M934.50 360.4V371.0" stroke="#4d5f58"/>
<path d="M934.50 361.0V363.5" stroke="#4d5f58"/>
<path d="M935.00 359.6V362.3" stroke="#4a1a1a"/>
<path d="M935.00 361.0V362.0" stroke="#4a1a1a"/>
<path d="M935.50 353.9V363.2" stroke="#333f3a"/>
<path d="M935.50 361.0V362.0" stroke="#333f3a"/>
<path d="M936.00 355.0V362.7" stroke="#3c4c46"/>
<path d="M936.00 355.2V361.0" stroke="#3c4c46"/>
<path d="M936.50 353.2V356.1" stroke="#5c1919"/>
<path d="M936.50 355.2V356.2" stroke="#5c1919"/>
<path d="M937.00 352.5V359.7" stroke="#5c1919"/>
<path d="M937.00 356.0V357.6" stroke="#5c1919"/>
<path d="M937.50 357.5V369.6" stroke="#5c1919"/>
<path d="M937.50 357.6V367.0" stroke="#5c1919"/>
<path d="M938.00 353.6V369.6" stroke="#3c4c46"/>
<path d="M938.00 354.8V367.0" stroke="#3c4c46"/>
<path d="M938.50 352.3V369.6" stroke="#5c1919"/>
<path d="M938.50 354.8V363.5" stroke="#5c1919"/>
<path d="M939.00 360.2V366.6" stroke="#681c1c"/>
<path d="M939.00 363.5V364.5" stroke="#681c1c"/>
<path d="M939.50 362.6V367.4" stroke="#4a1a1a"/>
<path d="M939.50 364.5V365.5" stroke="#4a1a1a"/>
<path d="M940.00 344.0V367.3" stroke="#3c4c46"/>
<path d="M940.00 359.5V365.5" stroke="#3c4c46"/>
<path d="M940.50 348.0V360.2" stroke="#5a6a64"/>
<path d="M940.50 349.3V359.5" stroke="#5a6a64"/>
<path d="M941.00 343.4V349.4" stroke="#5a6a64"/>
<path d="M941.00 344.7V349.3" stroke="#5a6a64"/>
<path d="M941.50 343.1V357.0" stroke="#681c1c"/>
<path d="M941.50 344.7V354.1" stroke="#681c1c"/>
<path d="M942.00 346.9V369.0" stroke="#762121"/>
<path d="M942.00 354.1V355.1" stroke="#762121"/>
<path d="M942.50 351.8V361.0" stroke="#762121"/>
<path d="M942.50 354.6V357.8" stroke="#762121"/>
<path d="M943.00 352.8V369.0" stroke="#681c1c"/>
<path d="M943.00 357.8V362.6" stroke="#681c1c"/>
<path d="M943.50 352.0V365.2" stroke="#3c4c46"/>
<path d="M943.50 357.5V362.6" stroke="#3c4c46"/>
<path d="M944.00 346.3V360.1" stroke="#4d5f58"/>
<path d="M944.00 348.9V357.5" stroke="#4d5f58"/>
<path d="M944.50 335.4V350.3" stroke="#4d5f58"/>
<path d="M944.50 340.0V348.9" stroke="#4d5f58"/>
<path d="M945.00 339.1V340.6" stroke="#5a6a64"/>
<path d="M945.00 339.8V340.8" stroke="#5a6a64"/>
<path d="M945.50 322.4V341.5" stroke="#333f3a"/>
<path d="M945.50 337.1V339.8" stroke="#333f3a"/>
<path d="M946.00 332.6V338.7" stroke="#5a6a64"/>
<path d="M946.00 333.4V337.1" stroke="#5a6a64"/>
<path d="M946.50 327.2V335.5" stroke="#3c4c46"/>
<path d="M946.50 329.6V333.4" stroke="#3c4c46"/>
<path d="M947.00 327.5V331.5" stroke="#5c1919"/>
<path d="M947.00 329.6V331.3" stroke="#5c1919"/>
<path d="M947.50 312.1V333.5" stroke="#5a6a64"/>
<path d="M947.50 327.3V331.3" stroke="#5a6a64"/>
<path d="M948.00 309.5V329.2" stroke="#5a6a64"/>
<path d="M948.00 322.7V327.3" stroke="#5a6a64"/>
<path d="M948.50 313.5V323.6" stroke="#333f3a"/>
<path d="M948.50 314.1V322.7" stroke="#333f3a"/>
<path d="M949.00 302.0V317.4" stroke="#4d5f58"/>
<path d="M949.00 304.6V314.1" stroke="#4d5f58"/>
<path d="M949.50 299.9V304.7" stroke="#5a6a64"/>
<path d="M949.50 302.2V304.6" stroke="#5a6a64"/>
<path d="M950.00 284.6V302.8" stroke="#4d5f58"/>
<path d="M950.00 299.1V302.2" stroke="#4d5f58"/>
<path d="M950.50 298.4V306.9" stroke="#762121"/>
<path d="M950.50 299.1V306.0" stroke="#762121"/>
<path d="M951.00 295.0V310.0" stroke="#681c1c"/>
<path d="M951.00 306.0V309.2" stroke="#681c1c"/>
<path d="M951.50 307.5V312.7" stroke="#681c1c"/>
<path d="M951.50 309.2V311.6" stroke="#681c1c"/>
<path d="M952.00 308.2V320.0" stroke="#681c1c"/>
<path d="M952.00 311.6V317.4" stroke="#681c1c"/>
<path d="M952.50 312.8V317.7" stroke="#4d5f58"/>
<path d="M952.50 314.2V317.4" stroke="#4d5f58"/>
<path d="M953.00 309.9V316.5" stroke="#5c1919"/>
<path d="M953.00 314.2V315.7" stroke="#5c1919"/>
<path d="M953.50 309.5V319.7" stroke="#5c1919"/>
<path d="M953.50 315.7V318.2" stroke="#5c1919"/>
<path d="M954.00 315.4V334.2" stroke="#5c1919"/>
<path d="M954.00 318.2V320.9" stroke="#5c1919"/>
<path d="M954.50 320.6V329.7" stroke="#681c1c"/>
<path d="M954.50 320.9V329.5" stroke="#681c1c"/>
<path d="M955.00 325.6V337.8" stroke="#4a1a1a"/>
<path d="M955.00 329.5V336.6" stroke="#4a1a1a"/>
<path d="M955.50 331.8V340.4" stroke="#5a6a64"/>
<path d="M955.50 336.4V337.4" stroke="#5a6a64"/>
<path d="M956.00 331.5V349.0" stroke="#762121"/>
<path d="M956.00 336.4V347.8" stroke="#762121"/>
<path d="M956.50 346.6V349.9" stroke="#5a6a64"/>
<path d="M956.50 347.3V348.3" stroke="#5a6a64"/>
<path d="M957.00 342.3V349.4" stroke="#4d5f58"/>
<path d="M957.00 345.7V347.3" stroke="#4d5f58"/>
<path d="M957.50 344.7V346.2" stroke="#333f3a"/>
<path d="M957.50 345.6V346.6" stroke="#333f3a"/>
<path d="M958.00 336.4V355.5" stroke="#5c1919"/>
<path d="M958.00 345.6V352.7" stroke="#5c1919"/>
<path d="M958.50 346.0V353.1" stroke="#3c4c46"/>
<path d="M958.50 348.6V352.7" stroke="#3c4c46"/>
<path d="M959.00 337.3V349.8" stroke="#5a6a64"/>
<path d="M959.00 344.4V348.6" stroke="#5a6a64"/>
<path d="M959.50 342.7V352.3" stroke="#4a1a1a"/>
<path d="M959.50 344.4V351.8" stroke="#4a1a1a"/>
<path d="M960.00 350.0V358.8" stroke="#681c1c"/>
<path d="M960.00 351.8V356.6" stroke="#681c1c"/>
<path d="M960.50 347.7V359.5" stroke="#4d5f58"/>
<path d="M960.50 349.3V356.6" stroke="#4d5f58"/>
<path d="M961.00 348.9V359.0" stroke="#681c1c"/>
<path d="M961.00 349.3V355.9" stroke="#681c1c"/>
<path d="M961.50 355.5V368.8" stroke="#762121"/>
<path d="M961.50 355.9V367.5" stroke="#762121"/>
<path d="M962.00 349.2V369.0" stroke="#3c4c46"/>
<path d="M962.00 352.4V367.5" stroke="#3c4c46"/>
<path d="M962.50 352.4V363.8" stroke="#762121"/>
<path d="M962.50 352.4V361.2" stroke="#762121"/>
<path d="M963.00 355.5V369.0" stroke="#4a1a1a"/>
<path d="M963.00 361.2V367.6" stroke="#4a1a1a"/>
<path d="M963.50 352.7V369.0" stroke="#4d5f58"/>
<path d="M963.50 352.9V367.6" stroke="#4d5f58"/>
<path d="M964.00 349.4V360.9" stroke="#5c1919"/>
<path d="M964.00 352.9V355.3" stroke="#5c1919"/>
<path d="M964.50 352.8V364.9" stroke="#4a1a1a"/>
<path d="M964.50 355.3V364.1" stroke="#4a1a1a"/>
<path d="M965.00 361.7V374.3" stroke="#4a1a1a"/>
<path d="M965.00 364.1V370.2" stroke="#4a1a1a"/>
<path d="M965.50 354.9V370.7" stroke="#333f3a"/>
<path d="M965.50 364.0V370.2" stroke="#333f3a"/>
<path d="M966.00 363.1V373.2" stroke="#681c1c"/>
<path d="M966.00 364.0V372.3" stroke="#681c1c"/>
<path d="M966.50 368.3V377.3" stroke="#681c1c"/>
<path d="M966.50 372.3V374.0" stroke="#681c1c"/>
<path d="M967.00 372.1V375.9" stroke="#3c4c46"/>
<path d="M967.00 372.7V374.0" stroke="#3c4c46"/>
<path d="M967.50 370.3V375.3" stroke="#762121"/>
<path d="M967.50 372.7V375.3" stroke="#762121"/>
<path d="M968.00 373.0V392.8" stroke="#4a1a1a"/>
<path d="M968.00 375.3V385.1" stroke="#4a1a1a"/>
<path d="M968.50 369.0V394.0" stroke="#4a1a1a"/>
<path d="M968.50 385.1V387.6" stroke="#4a1a1a"/>
<path d="M969.00 385.7V389.9" stroke="#4d5f58"/>
<path d="M969.00 387.1V388.1" stroke="#4d5f58"/>
<path d="M969.50 363.9V388.6" stroke="#3c4c46"/>
<path d="M969.50 383.0V387.1" stroke="#3c4c46"/>
<path d="M970.00 361.4V386.3" stroke="#4a1a1a"/>
<path d="M970.00 383.0V385.1" stroke="#4a1a1a"/>
<path d="M970.50 382.6V386.3" stroke="#4a1a1a"/>
<path d="M970.50 385.1V386.1" stroke="#4a1a1a"/>
<path d="M971.00 370.8V385.9" stroke="#5a6a64"/>
<path d="M971.00 371.5V385.1" stroke="#5a6a64"/>
<path d="M971.50 371.4V386.3" stroke="#4a1a1a"/>
<path d="M971.50 371.5V376.3" stroke="#4a1a1a"/>
<path d="M972.00 370.3V386.3" stroke="#4d5f58"/>
<path d="M972.00 371.9V376.3" stroke="#4d5f58"/>
<path d="M972.50 363.2V376.6" stroke="#5c1919"/>
<path d="M972.50 371.9V372.9" stroke="#5c1919"/>
<path d="M973.00 367.5V386.3" stroke="#5c1919"/>
<path d="M973.00 372.2V373.2" stroke="#5c1919"/>
<path d="M973.50 372.8V375.4" stroke="#5a6a64"/>
<path d="M973.50 373.1V374.1" stroke="#5a6a64"/>
<path d="M974.00 371.7V377.2" stroke="#4a1a1a"/>
<path d="M974.00 373.1V376.2" stroke="#4a1a1a"/>
<path d="M974.50 372.4V378.7" stroke="#4a1a1a"/>
<path d="M974.50 376.2V378.5" stroke="#4a1a1a"/>
<path d="M975.00 377.4V381.5" stroke="#4a1a1a"/>
<path d="M975.00 378.5V381.3" stroke="#4a1a1a"/>
<path d="M975.50 373.3V382.8" stroke="#5a6a64"/>
<path d="M975.50 374.1V381.3" stroke="#5a6a64"/>
<path d="M976.00 370.2V386.3" stroke="#333f3a"/>
<path d="M976.00 372.9V374.1" stroke="#333f3a"/>
<path d="M976.50 371.2V386.3" stroke="#3c4c46"/>
<path d="M976.50 372.9V373.9" stroke="#3c4c46"/>
<path d="M977.00 371.3V386.3" stroke="#681c1c"/>
<path d="M977.00 372.9V376.6" stroke="#681c1c"/>
<path d="M977.50 375.8V382.3" stroke="#762121"/>
<path d="M977.50 376.6V380.5" stroke="#762121"/>
<path d="M978.00 378.6V380.8" stroke="#3c4c46"/>
<path d="M978.00 379.9V380.9" stroke="#3c4c46"/>
<path d="M978.50 368.2V380.4" stroke="#3c4c46"/>
<path d="M978.50 371.4V379.9" stroke="#3c4c46"/>
<path d="M979.00 369.4V375.4" stroke="#762121"/>
<path d="M979.00 371.4V375.1" stroke="#762121"/>
<path d="M979.50 368.6V380.2" stroke="#333f3a"/>
<path d="M979.50 369.6V375.1" stroke="#333f3a"/>
<path d="M980.00 369.0V375.6" stroke="#681c1c"/>
<path d="M980.00 369.6V374.2" stroke="#681c1c"/>
<path d="M980.50 368.2V376.7" stroke="#4d5f58"/>
<path d="M980.50 368.7V374.2" stroke="#4d5f58"/>
<path d="M981.00 360.6V368.7" stroke="#333f3a"/>
<path d="M981.00 361.5V368.7" stroke="#333f3a"/>
<path d="M981.50 356.0V362.2" stroke="#4d5f58"/>
<path d="M981.50 356.8V361.5" stroke="#4d5f58"/>
<path d="M982.00 355.4V361.9" stroke="#681c1c"/>
<path d="M982.00 356.8V358.3" stroke="#681c1c"/>
<path d="M982.50 348.5V358.7" stroke="#4d5f58"/>
<path d="M982.50 349.8V358.3" stroke="#4d5f58"/>
<path d="M983.00 347.3V352.8" stroke="#5a6a64"/>
<path d="M983.00 347.6V349.8" stroke="#5a6a64"/>
<path d="M983.50 343.1V348.0" stroke="#3c4c46"/>
<path d="M983.50 346.9V347.9" stroke="#3c4c46"/>
<path d="M984.00 346.2V362.5" stroke="#762121"/>
<path d="M984.00 346.9V350.9" stroke="#762121"/>
<path d="M984.50 347.7V356.0" stroke="#762121"/>
<path d="M984.50 350.9V352.6" stroke="#762121"/>
<path d="M985.00 347.7V357.5" stroke="#3c4c46"/>
<path d="M985.00 347.8V352.6" stroke="#3c4c46"/>
<path d="M985.50 338.1V348.0" stroke="#4d5f58"/>
<path d="M985.50 341.0V347.8" stroke="#4d5f58"/>
<path d="M986.00 329.9V342.6" stroke="#4d5f58"/>
<path d="M986.00 332.4V341.0" stroke="#4d5f58"/>
<path d="M986.50 325.5V334.5" stroke="#3c4c46"/>
<path d="M986.50 329.9V332.4" stroke="#3c4c46"/>
<path d="M987.00 320.0V331.7" stroke="#5a6a64"/>
<path d="M987.00 322.0V329.9" stroke="#5a6a64"/>
<path d="M987.50 319.3V323.7" stroke="#681c1c"/>
<path d="M987.50 322.0V323.3" stroke="#681c1c"/>
<path d="M988.00 311.4V326.4" stroke="#5a6a64"/>
<path d="M988.00 315.5V323.3" stroke="#5a6a64"/>
<path d="M988.50 311.3V317.5" stroke="#4d5f58"/>
<path d="M988.50 314.0V315.5" stroke="#4d5f58"/>
<path d="M989.00 301.1V315.9" stroke="#4d5f58"/>
<path d="M989.00 301.1V310.9" stroke="#4d5f58"/>
  </g>

  <!-- trend lines -->
  <line x1="176.4" y1="579.9" x2="1161" y2="351" stroke="#0a0a0a" stroke-width="2.1" stroke-linecap="round"/>

  <!-- boxes -->
  <rect x="969.5" y="291.5" width="71" height="12" fill="rgba(242,54,69,0.06)" stroke="#111" stroke-width="1"/>
  <rect x="920.5" y="396.5" width="133" height="27" fill="rgba(200,224,246,0.32)" stroke="#111" stroke-width="1"/>

  <!-- horizontal rays -->
  <line x1="950" y1="295.8" x2="1227" y2="295.8" stroke="#f7c9d0" stroke-width="4"/>
  <line x1="950" y1="295.8" x2="1227" y2="295.8" stroke="#7e4454" stroke-width="2"/>
  <line x1="950" y1="338.9" x2="1227" y2="338.9" stroke="#f7c9d0" stroke-width="4"/>
  <line x1="950" y1="338.9" x2="1227" y2="338.9" stroke="#7e4454" stroke-width="2"/>
  <line x1="911" y1="399.8" x2="1227" y2="399.8" stroke="#3a5792" stroke-width="2"/>
  <line x1="900" y1="420.9" x2="1227" y2="420.9" stroke="#3a5792" stroke-width="2"/>

  <line x1="378.2" y1="34.6" x2="1202" y2="370.6" stroke="#0a0a0a" stroke-width="2.1" stroke-linecap="round"/>
  <!-- thin channel lines -->
  <line x1="678" y1="142.2" x2="973" y2="452.4" stroke="#111" stroke-width="1.2"/>
  <line x1="689.2" y1="140.2" x2="975" y2="439.8" stroke="#111" stroke-width="1.2"/>

  <!-- ================= LOGO ================= -->
  <g id="logo">
<polygon fill="#2f6cc5" points="62,70.3 148,55.9 148,73 139,76.6 139,65.6 74.9,78 64,79"/>
<polygon fill="#2a62b5" points="49.7,82.5 57.1,82.5 57.1,124.1 121,98.8 104.3,114 95,118.7 60,135 50.3,140.5"/>
<polygon fill="#1e4d9c" points="57.1,124.1 121,98.8 112,105 60,126"/>
<path fill="#1b4288" d="M47.6,109.8 C48.1,110.5 48.5,113.5 47.9,115.5 C47.3,117.5 44.9,119.8 43.8,121.7 C42.6,123.6 41.7,125.5 41.0,127.0 C40.3,128.6 39.9,129.1 39.6,131.0 C39.3,132.9 38.6,136.1 39.1,138.3 C39.6,140.6 41.0,143.1 42.8,144.5 C44.6,145.9 47.8,146.2 50.0,146.5 C52.2,146.8 54.1,146.3 56.0,146.0 C57.9,145.7 58.7,145.3 61.4,144.5 C64.1,143.7 68.1,142.7 72.0,141.0 C75.9,139.3 81.2,136.6 85.0,134.5 C88.8,132.4 91.3,130.9 95.0,128.5 C98.7,126.1 103.7,122.3 107.0,120.0 C110.3,117.7 112.7,116.5 115.0,114.5 C117.3,112.5 119.0,110.2 121.0,108.0 C123.0,105.8 125.0,103.3 127.0,101.0 C129.0,98.7 130.2,97.0 133.0,94.0 C135.8,91.0 140.3,86.5 144.0,83.0 C147.7,79.5 155.0,71.7 155.3,72.9 C155.6,74.2 149.4,85.2 146.0,90.5 C142.6,95.8 138.6,100.0 135.0,104.5 C131.4,109.0 127.6,113.9 124.4,117.5 C121.2,121.1 119.7,122.2 115.6,126.0 C111.5,129.8 104.3,137.0 100.0,140.4 C95.7,143.8 93.6,144.4 90.0,146.5 C86.4,148.6 81.6,151.1 78.6,152.8 C75.5,154.5 74.5,155.3 71.7,156.5 C68.9,157.7 64.8,159.2 62.0,160.0 C59.2,160.8 57.5,161.0 55.0,161.5 C52.5,162.0 49.0,162.7 47.0,163.0 C45.0,163.3 45.2,163.6 42.8,163.1 C40.4,162.6 35.2,161.4 32.4,160.0 C29.6,158.6 27.3,156.5 26.2,154.8 C25.1,153.1 25.3,152.2 25.7,149.6 C26.1,147.0 26.7,143.6 28.3,139.3 C29.9,135.0 32.8,128.4 35.5,123.8 C38.2,119.1 42.8,113.7 44.8,111.4 C46.8,109.1 47.1,109.1 47.6,109.8 Z"/>
<path fill="#3b8ad8" d="M47.6,109.8 C48.0,110.3 48.5,113.5 47.9,115.5 C47.3,117.5 44.9,119.8 43.8,121.7 C42.6,123.6 41.7,125.5 41.0,127.0 C40.3,128.6 39.9,129.1 39.6,131.0 C39.3,132.9 38.6,136.1 39.1,138.3 C39.6,140.6 41.0,143.1 42.8,144.5 C44.6,145.9 47.8,146.2 50.0,146.5 C52.2,146.8 54.1,146.3 56.0,146.0 C57.9,145.7 58.7,145.3 61.4,144.5 C64.1,143.7 68.1,142.7 72.0,141.0 C75.9,139.3 81.2,136.6 85.0,134.5 C88.8,132.4 91.3,130.9 95.0,128.5 C98.7,126.1 103.7,122.3 107.0,120.0 C110.3,117.7 112.7,116.5 115.0,114.5 C117.3,112.5 119.0,110.2 121.0,108.0 C123.0,105.8 125.0,103.3 127.0,101.0 C129.0,98.7 130.2,97.0 133.0,94.0 C135.8,91.0 140.3,86.5 144.0,83.0 C147.7,79.5 155.0,72.0 155.3,72.9 C155.6,73.8 149.4,83.7 146.0,88.5 C142.6,93.3 138.6,97.2 135.0,101.5 C131.4,105.8 127.6,110.6 124.4,114.0 C121.2,117.4 119.7,118.3 115.6,122.0 C111.5,125.7 104.3,133.0 100.0,136.3 C95.7,139.6 93.6,140.0 90.0,142.0 C86.4,144.0 81.6,146.7 78.6,148.3 C75.5,149.9 74.5,150.7 71.7,151.8 C68.9,153.0 64.8,154.4 62.0,155.2 C59.2,156.0 57.5,156.2 55.0,156.6 C52.5,157.0 49.0,157.4 47.0,157.6 C45.0,157.8 45.1,157.9 43.0,157.5 C40.9,157.1 36.8,156.1 34.5,155.0 C32.2,153.9 30.6,152.2 29.5,151.0 C28.4,149.8 27.9,149.4 28.0,147.5 C28.1,145.6 28.4,143.3 29.8,139.5 C31.2,135.7 33.9,129.0 36.5,124.5 C39.1,120.0 43.6,114.8 45.5,112.3 C47.4,109.8 47.2,109.3 47.6,109.8 Z"/>
<polygon fill="#2756a8" points="64.0,143.8 72.0,141.0 85.0,134.5 95.0,128.5 107.0,120.0 115.0,114.5 121.0,108.0 127.6,99.9 130.3,96.5 123.6,93.1 155.3,72.9 145.5,88.5 135.0,100.0 124.4,110.5 115.0,118.0 107.0,123.5 95.0,132.0 85.0,138.0 72.0,143.5 64.0,145.0"/>
<polygon fill="#e61c1e" points="64.4,165.9 95.5,165.9 115.4,141.6 131,122.7 141.5,103.3 115,131.6 93.3,149.3 78,158.5"/>
<polygon fill="#1c1c1c" points="106.6,165.9 120.4,165.9 131,144.9 139.2,120.5 122,148.2"/>
<path fill="#1b3a7a" d="M51,167.3 L56.4,167.3 L56.4,172.3 L139.8,172.3 L139.8,155 Q139.8,150.3 145.3,149.8 L146.8,149.8 L146.8,178.6 L51,178.6 Z"/>
<polygon fill="#17368a" points="21.5,45.5 40,57 62,70.5 90.4,88.6 88.7,93.4 78.2,98.3 61.9,97.5 48.1,82.1 39.5,75.5"/>
<polygon fill="#ffffff" points="57,83 71.7,88.2 71.5,89.2 57,84.4"/>
<polygon fill="#17378a" points="71.7,100.3 78.2,98.3 87.1,97.5 96,104.8 86.3,112.1"/>
<polygon fill="#1a3d8e" points="95.2,89.4 135,68.5 127.6,78 120.3,87.7 112.2,92.6 105,93.5 101.7,100.7 98.5,97.5 97,93"/>
<text transform="translate(147,146.5) rotate(-90)" font-family="Liberation Serif, serif" font-size="7.4" fill="#4a4a4a" textLength="51.5" lengthAdjust="spacingAndGlyphs">Amir HaghParast</text>
<text font-family="Liberation Sans, sans-serif" font-weight="bold" font-size="14.2" fill="#10152b" stroke="#10152b" stroke-width="0.8"><tspan x="54.6" y="194.3" textLength="38" lengthAdjust="spacingAndGlyphs">Market</tspan><tspan x="98.6" y="194.3" textLength="47.4" lengthAdjust="spacingAndGlyphs">Analyzer</tspan></text>
</g>

  <!-- TV logo -->
  <circle cx="32.9" cy="612" r="15.5" fill="#fff" stroke="#e6e6e6" stroke-width="1"/>
  <path fill="#131722" d="M22,608.3 h9.3 v10.7 h-4.6 v-6.1 h-4.7 z M35.8,608.3 h7 l-5,10.7 h-5.1 z"/>
  <circle cx="33.4" cy="610.6" r="2" fill="#131722"/>

  <!-- gear hexagon -->
  <polygon points="1247.3,654.9 1250.8,649.2 1257.8,649.2 1261.3,654.9 1257.8,660.6 1250.8,660.6" fill="none" stroke="#131722" stroke-width="1.2"/>
  <circle cx="1254.3" cy="654.9" r="2.1" fill="none" stroke="#131722" stroke-width="1.2"/>
</svg>

<!-- header -->
<div class="hdr ttl fa" style="left:14.6px;top:6px;" dir="rtl">تولید برق دماوند</div>
<div class="hdr ttl" style="left:120.5px;top:5.5px;">·</div>
<div class="hdr ttl" style="left:130px;">1D</div>
<div class="hdr ohlc" style="left:156.3px;"><b>O</b><i>8,110</i></div>
<div class="hdr ohlc" style="left:202.3px;"><b>H</b><i>8,370</i></div>
<div class="hdr ohlc" style="left:249.2px;"><b>L</b><i>7,980</i></div>
<div class="hdr ohlc" style="left:294px;"><b>C</b><i>8,370</i></div>
<div class="hdr ohlc" style="left:339.4px;"><i>+330 (+4.10%)</i></div>

<!-- price axis labels -->
<div class="pl" style="top:-5.6px">22,000</div>
<div class="pl" style="top:24px">20,000</div>
<div class="pl" style="top:56.8px">18,000</div>
<div class="pl" style="top:93.5px">16,000</div>
<div class="pl" style="top:135px">14,000</div>
<div class="pl" style="top:183px">12,000</div>
<div class="pl" style="top:224.5px">10,500</div>
<div class="pl" style="top:262.5px">9,300</div>
<div class="pl" style="top:305px">8,100</div>
<div class="pl" style="top:369px">6,600</div>
<div class="pl" style="top:430.8px">5,400</div>
<div class="pl" style="top:468.1px">4,800</div>
<div class="pl" style="top:502.2px">4,300</div>
<div class="pl" style="top:532.8px">3,900</div>
<div class="pl" style="top:561.5px">3,550</div>
<div class="pl" style="top:590.6px">3,230</div>

<div class="lab" style="top:278.1px;height:15.6px;line-height:15.6px;background:#ea3849;">8,525</div>
<div class="lab" style="top:294.4px;height:15.9px;line-height:15.9px;background:#3fab9d;color:#0d1512;font-weight:normal;letter-spacing:0;">8,370</div>
<div class="lab" style="top:331.2px;height:16.3px;line-height:16.3px;background:#ea3143;">7,423</div>
<div class="lab" style="top:393.1px;height:15.7px;line-height:15.7px;background:#2c61e4;">6,092</div>
<div class="lab" style="top:413.5px;height:15.8px;line-height:15.8px;background:#2c61e4;">5,717</div>

<!-- time axis labels -->
<div class="tl" style="left:94.8px">2018</div>
<div class="tl" style="left:207.6px">2019</div>
<div class="tl" style="left:314.7px">2020</div>
<div class="tl" style="left:430.6px">2021</div>
<div class="tl" style="left:543px">2022</div>
<div class="tl" style="left:657.6px">2023</div>
<div class="tl" style="left:771.9px">2024</div>
<div class="tl" style="left:883.6px">2025</div>
<div class="tl" style="left:995.1px">2026</div>
<div class="tl" style="left:1121.7px">2027</div>

<!-- A / L buttons -->
<div class="btn" style="left:1232.5px;border:1px solid #e3e5ea;color:#131722;background:#fff;">A</div>
<div class="btn" style="left:1256px;background:#2962ff;color:#fff;">L</div>
</body>
</html>
